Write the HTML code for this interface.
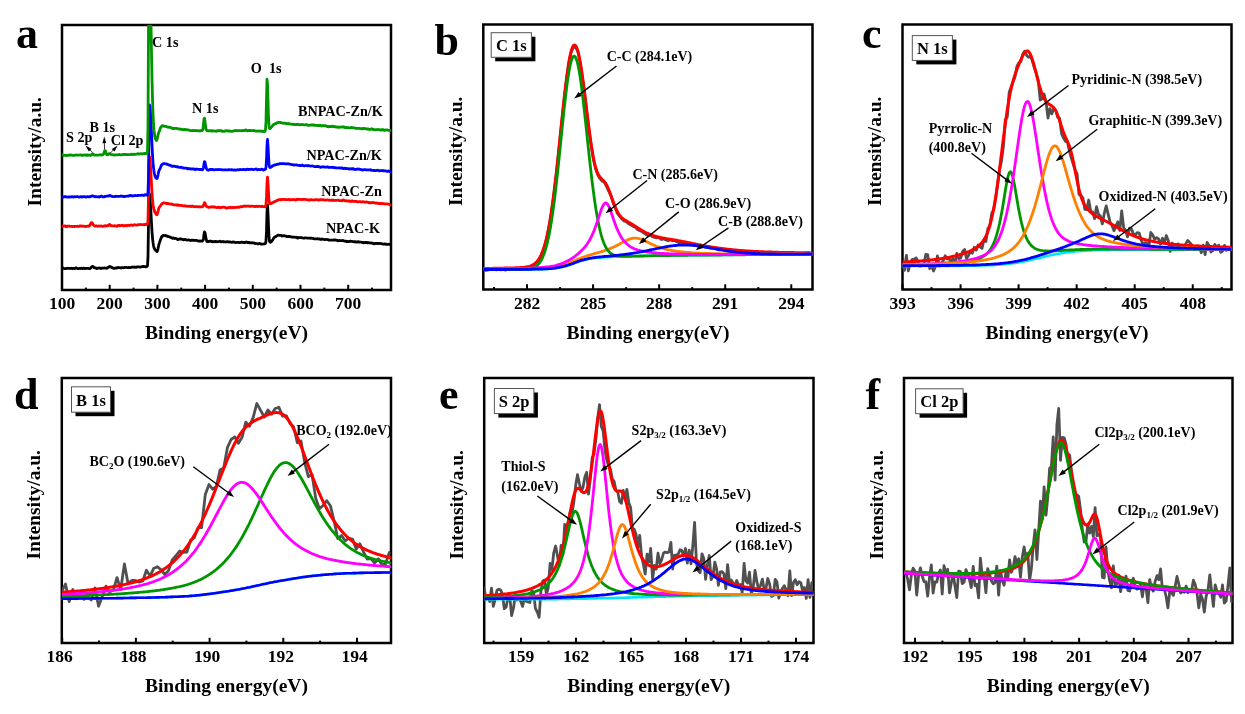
<!DOCTYPE html>
<html><head><meta charset="utf-8"><style>
html,body{margin:0;padding:0;background:#fff;}
svg{display:block;filter:blur(0.35px);}
text{font-family:"Liberation Serif", serif;font-weight:bold;fill:#000;}
</style></head><body>
<svg width="1245" height="714" viewBox="0 0 1245 714">
<rect width="1245" height="714" fill="#fff"/>
<text x="16.00" y="48.00" font-size="44.00" text-anchor="start" >a</text>
<text x="434.50" y="55.00" font-size="44.00" text-anchor="start" >b</text>
<text x="862.00" y="48.30" font-size="44.00" text-anchor="start" >c</text>
<text x="14.00" y="409.00" font-size="44.00" text-anchor="start" >d</text>
<text x="439.00" y="409.00" font-size="44.00" text-anchor="start" >e</text>
<text x="865.50" y="408.70" font-size="44.00" text-anchor="start" >f</text>
<defs>
<clipPath id="cpa"><rect x="62.00" y="25.00" width="329.00" height="265.00"/></clipPath>
<clipPath id="cpb"><rect x="483.30" y="24.50" width="329.20" height="265.00"/></clipPath>
<clipPath id="cpc"><rect x="902.50" y="24.50" width="329.00" height="265.00"/></clipPath>
<clipPath id="cpd"><rect x="61.80" y="378.00" width="329.20" height="265.00"/></clipPath>
<clipPath id="cpe"><rect x="484.20" y="378.00" width="329.30" height="265.00"/></clipPath>
<clipPath id="cpf"><rect x="904.00" y="378.00" width="328.50" height="265.00"/></clipPath>
</defs>
<line x1="62.00" y1="290.00" x2="62.00" y2="284.80" stroke="#000" stroke-width="2"/>
<line x1="109.70" y1="290.00" x2="109.70" y2="284.80" stroke="#000" stroke-width="2"/>
<line x1="157.40" y1="290.00" x2="157.40" y2="284.80" stroke="#000" stroke-width="2"/>
<line x1="205.10" y1="290.00" x2="205.10" y2="284.80" stroke="#000" stroke-width="2"/>
<line x1="252.80" y1="290.00" x2="252.80" y2="284.80" stroke="#000" stroke-width="2"/>
<line x1="300.50" y1="290.00" x2="300.50" y2="284.80" stroke="#000" stroke-width="2"/>
<line x1="348.20" y1="290.00" x2="348.20" y2="284.80" stroke="#000" stroke-width="2"/>
<line x1="85.85" y1="290.00" x2="85.85" y2="287.60" stroke="#000" stroke-width="2"/>
<line x1="133.55" y1="290.00" x2="133.55" y2="287.60" stroke="#000" stroke-width="2"/>
<line x1="181.25" y1="290.00" x2="181.25" y2="287.60" stroke="#000" stroke-width="2"/>
<line x1="228.95" y1="290.00" x2="228.95" y2="287.60" stroke="#000" stroke-width="2"/>
<line x1="276.65" y1="290.00" x2="276.65" y2="287.60" stroke="#000" stroke-width="2"/>
<line x1="324.35" y1="290.00" x2="324.35" y2="287.60" stroke="#000" stroke-width="2"/>
<line x1="372.05" y1="290.00" x2="372.05" y2="287.60" stroke="#000" stroke-width="2"/>
<text x="62.00" y="309.30" font-size="17.50" text-anchor="middle" >100</text>
<text x="109.70" y="309.30" font-size="17.50" text-anchor="middle" >200</text>
<text x="157.40" y="309.30" font-size="17.50" text-anchor="middle" >300</text>
<text x="205.10" y="309.30" font-size="17.50" text-anchor="middle" >400</text>
<text x="252.80" y="309.30" font-size="17.50" text-anchor="middle" >500</text>
<text x="300.50" y="309.30" font-size="17.50" text-anchor="middle" >600</text>
<text x="348.20" y="309.30" font-size="17.50" text-anchor="middle" >700</text>
<line x1="527.00" y1="289.50" x2="527.00" y2="284.30" stroke="#000" stroke-width="2"/>
<line x1="593.07" y1="289.50" x2="593.07" y2="284.30" stroke="#000" stroke-width="2"/>
<line x1="659.14" y1="289.50" x2="659.14" y2="284.30" stroke="#000" stroke-width="2"/>
<line x1="725.21" y1="289.50" x2="725.21" y2="284.30" stroke="#000" stroke-width="2"/>
<line x1="791.28" y1="289.50" x2="791.28" y2="284.30" stroke="#000" stroke-width="2"/>
<line x1="494.00" y1="289.50" x2="494.00" y2="287.10" stroke="#000" stroke-width="2"/>
<line x1="560.07" y1="289.50" x2="560.07" y2="287.10" stroke="#000" stroke-width="2"/>
<line x1="626.14" y1="289.50" x2="626.14" y2="287.10" stroke="#000" stroke-width="2"/>
<line x1="692.21" y1="289.50" x2="692.21" y2="287.10" stroke="#000" stroke-width="2"/>
<line x1="758.28" y1="289.50" x2="758.28" y2="287.10" stroke="#000" stroke-width="2"/>
<text x="527.00" y="309.30" font-size="17.50" text-anchor="middle" >282</text>
<text x="593.07" y="309.30" font-size="17.50" text-anchor="middle" >285</text>
<text x="659.14" y="309.30" font-size="17.50" text-anchor="middle" >288</text>
<text x="725.21" y="309.30" font-size="17.50" text-anchor="middle" >291</text>
<text x="791.28" y="309.30" font-size="17.50" text-anchor="middle" >294</text>
<line x1="902.50" y1="289.50" x2="902.50" y2="284.30" stroke="#000" stroke-width="2"/>
<line x1="960.55" y1="289.50" x2="960.55" y2="284.30" stroke="#000" stroke-width="2"/>
<line x1="1018.60" y1="289.50" x2="1018.60" y2="284.30" stroke="#000" stroke-width="2"/>
<line x1="1076.65" y1="289.50" x2="1076.65" y2="284.30" stroke="#000" stroke-width="2"/>
<line x1="1134.70" y1="289.50" x2="1134.70" y2="284.30" stroke="#000" stroke-width="2"/>
<line x1="1192.75" y1="289.50" x2="1192.75" y2="284.30" stroke="#000" stroke-width="2"/>
<line x1="931.50" y1="289.50" x2="931.50" y2="287.10" stroke="#000" stroke-width="2"/>
<line x1="989.55" y1="289.50" x2="989.55" y2="287.10" stroke="#000" stroke-width="2"/>
<line x1="1047.60" y1="289.50" x2="1047.60" y2="287.10" stroke="#000" stroke-width="2"/>
<line x1="1105.65" y1="289.50" x2="1105.65" y2="287.10" stroke="#000" stroke-width="2"/>
<line x1="1163.70" y1="289.50" x2="1163.70" y2="287.10" stroke="#000" stroke-width="2"/>
<line x1="1221.75" y1="289.50" x2="1221.75" y2="287.10" stroke="#000" stroke-width="2"/>
<text x="902.50" y="309.30" font-size="17.50" text-anchor="middle" >393</text>
<text x="960.55" y="309.30" font-size="17.50" text-anchor="middle" >396</text>
<text x="1018.60" y="309.30" font-size="17.50" text-anchor="middle" >399</text>
<text x="1076.65" y="309.30" font-size="17.50" text-anchor="middle" >402</text>
<text x="1134.70" y="309.30" font-size="17.50" text-anchor="middle" >405</text>
<text x="1192.75" y="309.30" font-size="17.50" text-anchor="middle" >408</text>
<line x1="62.20" y1="643.00" x2="62.20" y2="637.80" stroke="#000" stroke-width="2"/>
<line x1="135.90" y1="643.00" x2="135.90" y2="637.80" stroke="#000" stroke-width="2"/>
<line x1="209.60" y1="643.00" x2="209.60" y2="637.80" stroke="#000" stroke-width="2"/>
<line x1="283.30" y1="643.00" x2="283.30" y2="637.80" stroke="#000" stroke-width="2"/>
<line x1="357.00" y1="643.00" x2="357.00" y2="637.80" stroke="#000" stroke-width="2"/>
<line x1="99.00" y1="643.00" x2="99.00" y2="640.60" stroke="#000" stroke-width="2"/>
<line x1="172.70" y1="643.00" x2="172.70" y2="640.60" stroke="#000" stroke-width="2"/>
<line x1="246.40" y1="643.00" x2="246.40" y2="640.60" stroke="#000" stroke-width="2"/>
<line x1="320.10" y1="643.00" x2="320.10" y2="640.60" stroke="#000" stroke-width="2"/>
<text x="59.70" y="662.00" font-size="17.50" text-anchor="middle" >186</text>
<text x="133.40" y="662.00" font-size="17.50" text-anchor="middle" >188</text>
<text x="207.10" y="662.00" font-size="17.50" text-anchor="middle" >190</text>
<text x="280.80" y="662.00" font-size="17.50" text-anchor="middle" >192</text>
<text x="354.50" y="662.00" font-size="17.50" text-anchor="middle" >194</text>
<line x1="521.00" y1="643.00" x2="521.00" y2="637.80" stroke="#000" stroke-width="2"/>
<line x1="576.00" y1="643.00" x2="576.00" y2="637.80" stroke="#000" stroke-width="2"/>
<line x1="631.00" y1="643.00" x2="631.00" y2="637.80" stroke="#000" stroke-width="2"/>
<line x1="686.00" y1="643.00" x2="686.00" y2="637.80" stroke="#000" stroke-width="2"/>
<line x1="741.00" y1="643.00" x2="741.00" y2="637.80" stroke="#000" stroke-width="2"/>
<line x1="796.00" y1="643.00" x2="796.00" y2="637.80" stroke="#000" stroke-width="2"/>
<line x1="493.50" y1="643.00" x2="493.50" y2="640.60" stroke="#000" stroke-width="2"/>
<line x1="548.50" y1="643.00" x2="548.50" y2="640.60" stroke="#000" stroke-width="2"/>
<line x1="603.50" y1="643.00" x2="603.50" y2="640.60" stroke="#000" stroke-width="2"/>
<line x1="658.50" y1="643.00" x2="658.50" y2="640.60" stroke="#000" stroke-width="2"/>
<line x1="713.50" y1="643.00" x2="713.50" y2="640.60" stroke="#000" stroke-width="2"/>
<line x1="768.50" y1="643.00" x2="768.50" y2="640.60" stroke="#000" stroke-width="2"/>
<text x="521.00" y="662.00" font-size="17.50" text-anchor="middle" >159</text>
<text x="576.00" y="662.00" font-size="17.50" text-anchor="middle" >162</text>
<text x="631.00" y="662.00" font-size="17.50" text-anchor="middle" >165</text>
<text x="686.00" y="662.00" font-size="17.50" text-anchor="middle" >168</text>
<text x="741.00" y="662.00" font-size="17.50" text-anchor="middle" >171</text>
<text x="796.00" y="662.00" font-size="17.50" text-anchor="middle" >174</text>
<line x1="915.00" y1="643.00" x2="915.00" y2="637.80" stroke="#000" stroke-width="2"/>
<line x1="969.70" y1="643.00" x2="969.70" y2="637.80" stroke="#000" stroke-width="2"/>
<line x1="1024.40" y1="643.00" x2="1024.40" y2="637.80" stroke="#000" stroke-width="2"/>
<line x1="1079.10" y1="643.00" x2="1079.10" y2="637.80" stroke="#000" stroke-width="2"/>
<line x1="1133.80" y1="643.00" x2="1133.80" y2="637.80" stroke="#000" stroke-width="2"/>
<line x1="1188.50" y1="643.00" x2="1188.50" y2="637.80" stroke="#000" stroke-width="2"/>
<line x1="942.40" y1="643.00" x2="942.40" y2="640.60" stroke="#000" stroke-width="2"/>
<line x1="997.10" y1="643.00" x2="997.10" y2="640.60" stroke="#000" stroke-width="2"/>
<line x1="1051.80" y1="643.00" x2="1051.80" y2="640.60" stroke="#000" stroke-width="2"/>
<line x1="1106.50" y1="643.00" x2="1106.50" y2="640.60" stroke="#000" stroke-width="2"/>
<line x1="1161.20" y1="643.00" x2="1161.20" y2="640.60" stroke="#000" stroke-width="2"/>
<line x1="1215.90" y1="643.00" x2="1215.90" y2="640.60" stroke="#000" stroke-width="2"/>
<text x="915.00" y="662.00" font-size="17.50" text-anchor="middle" >192</text>
<text x="969.70" y="662.00" font-size="17.50" text-anchor="middle" >195</text>
<text x="1024.40" y="662.00" font-size="17.50" text-anchor="middle" >198</text>
<text x="1079.10" y="662.00" font-size="17.50" text-anchor="middle" >201</text>
<text x="1133.80" y="662.00" font-size="17.50" text-anchor="middle" >204</text>
<text x="1188.50" y="662.00" font-size="17.50" text-anchor="middle" >207</text>
<rect x="62.00" y="25.00" width="329.00" height="265.00" fill="none" stroke="#000" stroke-width="2.5"/>
<rect x="483.30" y="24.50" width="329.20" height="265.00" fill="none" stroke="#000" stroke-width="2.5"/>
<rect x="902.50" y="24.50" width="329.00" height="265.00" fill="none" stroke="#000" stroke-width="2.5"/>
<rect x="61.80" y="378.00" width="329.20" height="265.00" fill="none" stroke="#000" stroke-width="2.5"/>
<rect x="484.20" y="378.00" width="329.30" height="265.00" fill="none" stroke="#000" stroke-width="2.5"/>
<rect x="904.00" y="378.00" width="328.50" height="265.00" fill="none" stroke="#000" stroke-width="2.5"/>
<text x="226.50" y="339.00" font-size="19.50" text-anchor="middle" >Binding energy(eV)</text>
<text transform="translate(40.50,151.75) rotate(-90)" font-size="19.50" text-anchor="middle">Intensity/a.u.</text>
<text x="647.90" y="338.50" font-size="19.50" text-anchor="middle" >Binding energy(eV)</text>
<text transform="translate(461.80,151.25) rotate(-90)" font-size="19.50" text-anchor="middle">Intensity/a.u.</text>
<text x="1067.00" y="338.50" font-size="19.50" text-anchor="middle" >Binding energy(eV)</text>
<text transform="translate(881.00,151.25) rotate(-90)" font-size="19.50" text-anchor="middle">Intensity/a.u.</text>
<text x="226.40" y="692.00" font-size="19.50" text-anchor="middle" >Binding energy(eV)</text>
<text transform="translate(40.30,504.75) rotate(-90)" font-size="19.50" text-anchor="middle">Intensity/a.u.</text>
<text x="648.85" y="692.00" font-size="19.50" text-anchor="middle" >Binding energy(eV)</text>
<text transform="translate(462.70,504.75) rotate(-90)" font-size="19.50" text-anchor="middle">Intensity/a.u.</text>
<text x="1068.25" y="692.00" font-size="19.50" text-anchor="middle" >Binding energy(eV)</text>
<text transform="translate(882.50,504.75) rotate(-90)" font-size="19.50" text-anchor="middle">Intensity/a.u.</text>
<g clip-path="url(#cpa)">
<path d="M62.0,268.4 L62.5,268.3 L63.0,268.0 L63.5,268.3 L64.0,268.5 L64.5,268.7 L65.0,268.6 L65.5,268.5 L66.0,268.5 L66.5,268.5 L67.0,268.4 L67.5,268.4 L68.0,268.2 L68.5,268.3 L69.0,268.3 L69.5,268.5 L70.0,268.4 L70.5,268.4 L71.0,268.2 L71.5,268.4 L72.0,268.4 L72.5,268.6 L73.0,268.5 L73.5,268.4 L74.0,268.4 L74.5,268.6 L75.0,268.5 L75.5,268.2 L76.0,267.8 L76.5,268.1 L77.0,268.3 L77.5,268.6 L78.0,268.6 L78.5,268.6 L79.0,268.5 L79.5,268.4 L80.0,268.5 L80.5,268.3 L81.0,268.3 L81.5,268.2 L82.0,268.6 L82.5,268.5 L83.0,268.4 L83.5,268.1 L84.0,268.3 L84.5,268.4 L85.0,268.6 L85.5,268.3 L86.0,268.4 L86.5,268.4 L87.0,268.4 L87.5,268.3 L88.0,268.3 L88.5,268.5 L89.0,268.6 L89.5,268.7 L90.0,268.6 L90.5,268.3 L91.0,267.6 L91.5,267.0 L92.0,266.5 L92.5,266.3 L93.0,266.5 L93.5,267.1 L94.0,267.6 L94.5,267.8 L95.0,267.6 L95.5,267.9 L96.0,268.1 L96.5,268.6 L97.0,268.4 L97.5,268.3 L98.0,268.2 L98.5,268.2 L99.0,268.1 L99.5,267.9 L100.0,268.2 L100.5,268.3 L101.0,268.5 L101.5,268.2 L102.0,268.1 L102.5,268.2 L103.0,268.2 L103.5,268.1 L104.0,268.0 L104.5,267.9 L105.0,268.0 L105.5,268.2 L106.0,268.2 L106.5,268.3 L107.0,268.0 L107.5,268.0 L108.0,267.5 L108.5,267.2 L109.0,266.7 L109.5,266.5 L110.0,266.5 L110.5,266.7 L111.0,267.1 L111.5,267.3 L112.0,267.6 L112.5,267.8 L113.0,268.1 L113.5,268.2 L114.0,268.4 L114.5,268.3 L115.0,268.2 L115.5,268.1 L116.0,267.9 L116.5,268.1 L117.0,267.7 L117.5,267.9 L118.0,267.5 L118.5,267.7 L119.0,267.6 L119.5,267.7 L120.0,267.8 L120.5,267.9 L121.0,268.0 L121.5,267.7 L122.0,267.6 L122.5,267.6 L123.0,267.7 L123.5,267.8 L124.0,267.7 L124.5,267.6 L125.0,267.4 L125.5,267.3 L126.0,267.3 L126.5,267.3 L127.0,267.5 L127.5,267.7 L128.0,267.6 L128.5,267.6 L129.0,267.4 L129.5,267.7 L130.0,267.6 L130.5,267.7 L131.0,267.3 L131.5,267.2 L132.0,267.1 L132.5,267.2 L133.0,267.3 L133.5,267.1 L134.0,267.2 L134.5,267.0 L135.0,267.4 L135.5,267.2 L136.0,267.4 L136.5,267.0 L137.0,267.1 L137.5,266.8 L138.0,266.9 L138.5,266.9 L139.0,266.9 L139.5,267.0 L140.0,267.0 L140.5,267.1 L141.0,267.0 L141.5,266.8 L142.0,266.6 L142.5,266.5 L143.0,266.4 L143.5,266.6 L144.0,266.5 L144.5,266.7 L145.0,266.7 L145.5,266.8 L146.0,266.8 L146.5,266.5 L147.0,266.5 L147.5,265.7 L148.0,256.6 L148.5,222.7 L149.0,193.6 L149.5,193.9 L150.0,197.9 L150.5,204.8 L151.0,213.9 L151.5,223.1 L152.0,231.5 L152.5,237.8 L153.0,242.4 L153.5,245.5 L154.0,247.6 L154.5,248.8 L155.0,249.6 L155.5,250.2 L156.0,250.6 L156.5,251.2 L157.0,251.5 L157.5,250.9 L158.0,248.7 L158.5,246.2 L159.0,244.1 L159.5,242.6 L160.0,241.1 L160.5,239.7 L161.0,238.2 L161.5,237.3 L162.0,236.2 L162.5,235.9 L163.0,235.5 L163.5,235.8 L164.0,235.7 L164.5,235.7 L165.0,235.4 L165.5,235.4 L166.0,235.8 L166.5,236.1 L167.0,236.3 L167.5,236.2 L168.0,236.4 L168.5,236.6 L169.0,236.8 L169.5,236.8 L170.0,237.1 L170.5,237.4 L171.0,237.5 L171.5,237.8 L172.0,237.9 L172.5,238.2 L173.0,237.8 L173.5,238.0 L174.0,238.2 L174.5,238.5 L175.0,238.3 L175.5,238.4 L176.0,238.5 L176.5,238.7 L177.0,239.0 L177.5,239.4 L178.0,239.6 L178.5,239.3 L179.0,239.2 L179.5,238.9 L180.0,239.0 L180.5,238.9 L181.0,239.1 L181.5,239.0 L182.0,239.2 L182.5,239.4 L183.0,239.7 L183.5,239.8 L184.0,239.7 L184.5,239.6 L185.0,239.3 L185.5,239.5 L186.0,239.7 L186.5,240.0 L187.0,240.1 L187.5,240.0 L188.0,240.0 L188.5,239.9 L189.0,239.9 L189.5,240.2 L190.0,240.4 L190.5,240.5 L191.0,240.3 L191.5,240.2 L192.0,240.2 L192.5,240.3 L193.0,240.2 L193.5,240.4 L194.0,240.3 L194.5,240.4 L195.0,240.3 L195.5,240.3 L196.0,240.3 L196.5,240.4 L197.0,240.5 L197.5,240.7 L198.0,241.0 L198.5,241.1 L199.0,241.1 L199.5,241.1 L200.0,240.9 L200.5,241.1 L201.0,241.2 L201.5,241.1 L202.0,241.0 L202.5,241.0 L203.0,240.3 L203.5,238.2 L204.0,234.5 L204.5,231.9 L205.0,232.7 L205.5,235.6 L206.0,238.7 L206.5,240.5 L207.0,241.5 L207.5,241.6 L208.0,241.7 L208.5,241.4 L209.0,241.5 L209.5,241.3 L210.0,241.1 L210.5,241.0 L211.0,241.2 L211.5,241.6 L212.0,241.8 L212.5,241.8 L213.0,241.5 L213.5,241.6 L214.0,241.8 L214.5,241.8 L215.0,241.6 L215.5,241.4 L216.0,241.6 L216.5,241.7 L217.0,241.8 L217.5,241.7 L218.0,241.7 L218.5,241.7 L219.0,241.5 L219.5,241.3 L220.0,241.2 L220.5,241.4 L221.0,241.8 L221.5,241.8 L222.0,241.8 L222.5,241.6 L223.0,241.7 L223.5,241.8 L224.0,241.6 L224.5,241.9 L225.0,241.8 L225.5,241.9 L226.0,241.9 L226.5,241.9 L227.0,241.7 L227.5,241.6 L228.0,241.8 L228.5,242.0 L229.0,242.1 L229.5,241.9 L230.0,241.9 L230.5,242.0 L231.0,242.1 L231.5,242.4 L232.0,242.3 L232.5,242.2 L233.0,241.8 L233.5,241.9 L234.0,242.1 L234.5,242.4 L235.0,242.3 L235.5,242.5 L236.0,242.6 L236.5,242.5 L237.0,242.4 L237.5,242.3 L238.0,242.3 L238.5,242.4 L239.0,242.4 L239.5,242.7 L240.0,242.5 L240.5,242.4 L241.0,242.2 L241.5,242.3 L242.0,242.2 L242.5,242.3 L243.0,242.3 L243.5,242.4 L244.0,242.6 L244.5,242.5 L245.0,242.6 L245.5,242.2 L246.0,242.1 L246.5,242.0 L247.0,242.3 L247.5,242.6 L248.0,242.5 L248.5,242.5 L249.0,242.5 L249.5,242.8 L250.0,242.8 L250.5,242.9 L251.0,242.7 L251.5,242.7 L252.0,242.7 L252.5,242.9 L253.0,242.9 L253.5,242.9 L254.0,242.9 L254.5,243.3 L255.0,243.5 L255.5,243.5 L256.0,243.4 L256.5,243.5 L257.0,243.6 L257.5,243.9 L258.0,243.9 L258.5,243.8 L259.0,243.5 L259.5,243.4 L260.0,243.5 L260.5,243.7 L261.0,244.0 L261.5,244.0 L262.0,244.1 L262.5,244.1 L263.0,244.1 L263.5,244.0 L264.0,243.9 L264.5,243.9 L265.0,243.6 L265.5,243.4 L266.0,241.1 L266.5,230.9 L267.0,212.3 L267.5,204.8 L268.0,213.3 L268.5,226.6 L269.0,236.6 L269.5,241.1 L270.0,242.2 L270.5,242.3 L271.0,241.8 L271.5,241.4 L272.0,240.8 L272.5,240.2 L273.0,239.4 L273.5,238.5 L274.0,237.7 L274.5,237.2 L275.0,236.9 L275.5,236.6 L276.0,236.6 L276.5,236.1 L277.0,236.0 L277.5,235.3 L278.0,235.2 L278.5,235.2 L279.0,235.2 L279.5,235.4 L280.0,235.4 L280.5,235.4 L281.0,235.5 L281.5,235.4 L282.0,236.0 L282.5,235.9 L283.0,236.0 L283.5,235.6 L284.0,235.6 L284.5,235.8 L285.0,236.0 L285.5,236.1 L286.0,236.2 L286.5,236.3 L287.0,236.7 L287.5,236.6 L288.0,236.6 L288.5,236.4 L289.0,236.5 L289.5,236.4 L290.0,236.5 L290.5,236.8 L291.0,236.9 L291.5,237.0 L292.0,237.0 L292.5,237.1 L293.0,237.2 L293.5,237.2 L294.0,237.1 L294.5,237.2 L295.0,237.3 L295.5,237.4 L296.0,237.2 L296.5,237.3 L297.0,237.4 L297.5,238.0 L298.0,237.7 L298.5,237.9 L299.0,237.5 L299.5,237.6 L300.0,237.7 L300.5,237.7 L301.0,237.7 L301.5,237.6 L302.0,237.8 L302.5,237.9 L303.0,238.0 L303.5,238.2 L304.0,238.2 L304.5,238.0 L305.0,237.8 L305.5,237.8 L306.0,237.8 L306.5,238.0 L307.0,238.1 L307.5,238.1 L308.0,238.1 L308.5,238.1 L309.0,238.2 L309.5,238.1 L310.0,238.3 L310.5,238.2 L311.0,238.1 L311.5,238.1 L312.0,238.4 L312.5,238.4 L313.0,238.4 L313.5,238.6 L314.0,238.7 L314.5,238.9 L315.0,238.9 L315.5,238.9 L316.0,238.9 L316.5,238.8 L317.0,238.8 L317.5,238.7 L318.0,238.9 L318.5,239.0 L319.0,239.1 L319.5,238.9 L320.0,239.2 L320.5,239.3 L321.0,239.5 L321.5,239.3 L322.0,239.0 L322.5,239.1 L323.0,239.3 L323.5,239.3 L324.0,239.5 L324.5,239.6 L325.0,239.6 L325.5,239.5 L326.0,239.4 L326.5,239.5 L327.0,239.6 L327.5,239.5 L328.0,239.7 L328.5,239.8 L329.0,240.2 L329.5,240.2 L330.0,240.2 L330.5,240.1 L331.0,240.1 L331.5,240.2 L332.0,240.2 L332.5,240.1 L333.0,240.1 L333.5,240.0 L334.0,240.1 L334.5,239.9 L335.0,240.0 L335.5,240.0 L336.0,240.2 L336.5,240.2 L337.0,240.4 L337.5,240.7 L338.0,240.8 L338.5,240.6 L339.0,240.5 L339.5,240.4 L340.0,240.7 L340.5,240.6 L341.0,240.6 L341.5,240.6 L342.0,240.6 L342.5,240.5 L343.0,240.5 L343.5,240.7 L344.0,241.0 L344.5,241.1 L345.0,241.1 L345.5,241.1 L346.0,241.2 L346.5,241.5 L347.0,241.5 L347.5,241.5 L348.0,241.5 L348.5,241.7 L349.0,241.6 L349.5,241.5 L350.0,241.2 L350.5,241.3 L351.0,241.2 L351.5,241.4 L352.0,241.4 L352.5,241.5 L353.0,241.6 L353.5,241.7 L354.0,241.8 L354.5,241.8 L355.0,241.6 L355.5,241.8 L356.0,242.1 L356.5,242.2 L357.0,242.1 L357.5,241.8 L358.0,241.7 L358.5,241.7 L359.0,242.1 L359.5,242.2 L360.0,242.1 L360.5,242.2 L361.0,242.1 L361.5,242.3 L362.0,242.3 L362.5,242.5 L363.0,242.5 L363.5,242.8 L364.0,242.7 L364.5,242.7 L365.0,242.4 L365.5,242.5 L366.0,242.4 L366.5,242.6 L367.0,242.8 L367.5,242.8 L368.0,242.5 L368.5,242.6 L369.0,242.9 L369.5,242.8 L370.0,242.8 L370.5,242.8 L371.0,243.1 L371.5,243.2 L372.0,243.0 L372.5,243.2 L373.0,243.2 L373.5,243.7 L374.0,243.8 L374.5,243.8 L375.0,243.5 L375.5,243.3 L376.0,243.3 L376.5,243.5 L377.0,243.3 L377.5,243.5 L378.0,243.6 L378.5,243.6 L379.0,243.3 L379.5,243.3 L380.0,243.5 L380.5,243.6 L381.0,243.6 L381.5,243.7 L382.0,243.7 L382.5,244.0 L383.0,244.1 L383.5,244.1 L384.0,244.0 L384.5,243.9 L385.0,244.1 L385.5,244.2 L386.0,244.3 L386.5,244.2 L387.0,244.3 L387.5,244.3 L388.0,244.3 L388.5,244.3 L389.0,244.2 L389.5,244.3 L390.0,244.4 L390.5,244.5 L391.0,244.6" fill="none" stroke="#000000" stroke-width="2.80" stroke-linejoin="round" stroke-linecap="round" />
<path d="M62.0,226.2 L62.5,226.3 L63.0,226.0 L63.5,226.2 L64.0,226.2 L64.5,226.0 L65.0,226.0 L65.5,225.9 L66.0,226.6 L66.5,226.6 L67.0,226.7 L67.5,226.3 L68.0,226.1 L68.5,226.1 L69.0,226.0 L69.5,226.2 L70.0,226.3 L70.5,226.4 L71.0,226.4 L71.5,226.4 L72.0,226.5 L72.5,226.5 L73.0,226.5 L73.5,226.3 L74.0,226.3 L74.5,226.6 L75.0,226.5 L75.5,226.4 L76.0,226.3 L76.5,226.3 L77.0,226.3 L77.5,226.2 L78.0,226.4 L78.5,226.5 L79.0,226.4 L79.5,226.0 L80.0,226.1 L80.5,225.9 L81.0,226.1 L81.5,226.0 L82.0,226.2 L82.5,226.3 L83.0,226.2 L83.5,226.1 L84.0,226.1 L84.5,226.4 L85.0,226.5 L85.5,226.5 L86.0,226.5 L86.5,226.4 L87.0,226.2 L87.5,226.2 L88.0,226.2 L88.5,226.3 L89.0,226.0 L89.5,225.7 L90.0,224.9 L90.5,224.1 L91.0,223.1 L91.5,222.6 L92.0,222.7 L92.5,223.2 L93.0,224.4 L93.5,224.9 L94.0,225.4 L94.5,225.7 L95.0,226.2 L95.5,226.1 L96.0,226.0 L96.5,225.9 L97.0,226.0 L97.5,226.3 L98.0,226.1 L98.5,226.2 L99.0,225.9 L99.5,226.2 L100.0,226.1 L100.5,226.2 L101.0,225.8 L101.5,226.0 L102.0,226.1 L102.5,226.4 L103.0,226.3 L103.5,226.3 L104.0,226.1 L104.5,225.9 L105.0,225.7 L105.5,226.0 L106.0,225.9 L106.5,225.9 L107.0,225.6 L107.5,225.8 L108.0,225.7 L108.5,225.3 L109.0,224.7 L109.5,224.4 L110.0,224.7 L110.5,225.2 L111.0,225.6 L111.5,225.7 L112.0,225.8 L112.5,225.8 L113.0,225.9 L113.5,225.8 L114.0,225.8 L114.5,225.7 L115.0,225.8 L115.5,225.8 L116.0,226.1 L116.5,226.2 L117.0,226.4 L117.5,225.8 L118.0,225.6 L118.5,225.3 L119.0,225.6 L119.5,225.4 L120.0,225.5 L120.5,225.6 L121.0,225.7 L121.5,225.4 L122.0,225.2 L122.5,225.3 L123.0,225.5 L123.5,225.8 L124.0,225.8 L124.5,225.8 L125.0,225.5 L125.5,225.7 L126.0,225.7 L126.5,225.8 L127.0,225.5 L127.5,225.4 L128.0,225.1 L128.5,225.4 L129.0,225.4 L129.5,225.5 L130.0,225.2 L130.5,225.2 L131.0,225.1 L131.5,225.0 L132.0,225.0 L132.5,225.4 L133.0,225.4 L133.5,225.3 L134.0,224.8 L134.5,224.7 L135.0,224.8 L135.5,225.0 L136.0,225.1 L136.5,225.1 L137.0,225.0 L137.5,225.0 L138.0,224.7 L138.5,224.6 L139.0,224.6 L139.5,224.6 L140.0,224.6 L140.5,224.5 L141.0,224.5 L141.5,224.6 L142.0,224.7 L142.5,224.6 L143.0,224.6 L143.5,224.7 L144.0,224.9 L144.5,224.5 L145.0,224.5 L145.5,224.2 L146.0,224.5 L146.5,224.4 L147.0,224.6 L147.5,224.4 L148.0,220.7 L148.5,199.1 L149.0,162.1 L149.5,156.8 L150.0,160.1 L150.5,166.5 L151.0,175.2 L151.5,184.3 L152.0,193.0 L152.5,199.6 L153.0,204.4 L153.5,207.6 L154.0,209.8 L154.5,211.2 L155.0,212.3 L155.5,213.2 L156.0,214.2 L156.5,214.5 L157.0,214.7 L157.5,213.4 L158.0,211.6 L158.5,209.5 L159.0,207.9 L159.5,207.1 L160.0,206.4 L160.5,205.7 L161.0,204.9 L161.5,204.3 L162.0,203.8 L162.5,203.4 L163.0,203.0 L163.5,202.8 L164.0,202.9 L164.5,202.8 L165.0,203.1 L165.5,203.1 L166.0,203.5 L166.5,203.5 L167.0,203.5 L167.5,203.5 L168.0,203.5 L168.5,203.7 L169.0,203.8 L169.5,203.9 L170.0,204.0 L170.5,204.0 L171.0,204.1 L171.5,204.0 L172.0,204.2 L172.5,204.2 L173.0,204.7 L173.5,204.9 L174.0,204.9 L174.5,204.9 L175.0,204.8 L175.5,204.9 L176.0,205.0 L176.5,205.0 L177.0,205.0 L177.5,205.0 L178.0,205.0 L178.5,205.3 L179.0,205.2 L179.5,205.4 L180.0,205.5 L180.5,205.5 L181.0,205.4 L181.5,205.4 L182.0,205.5 L182.5,205.8 L183.0,205.9 L183.5,205.9 L184.0,205.6 L184.5,205.6 L185.0,206.0 L185.5,206.1 L186.0,206.2 L186.5,206.0 L187.0,206.1 L187.5,206.3 L188.0,206.3 L188.5,206.4 L189.0,206.2 L189.5,206.3 L190.0,206.1 L190.5,206.3 L191.0,206.3 L191.5,206.5 L192.0,206.2 L192.5,206.1 L193.0,206.2 L193.5,206.5 L194.0,206.7 L194.5,206.8 L195.0,206.7 L195.5,206.7 L196.0,206.7 L196.5,206.7 L197.0,206.7 L197.5,206.7 L198.0,206.8 L198.5,206.9 L199.0,206.7 L199.5,206.7 L200.0,206.9 L200.5,207.0 L201.0,206.9 L201.5,206.7 L202.0,206.9 L202.5,206.6 L203.0,206.4 L203.5,205.5 L204.0,203.8 L204.5,202.6 L205.0,203.0 L205.5,204.5 L206.0,205.8 L206.5,206.3 L207.0,206.7 L207.5,206.9 L208.0,207.0 L208.5,207.3 L209.0,207.1 L209.5,207.4 L210.0,207.2 L210.5,207.0 L211.0,206.8 L211.5,206.8 L212.0,207.0 L212.5,206.9 L213.0,207.0 L213.5,207.0 L214.0,207.0 L214.5,206.9 L215.0,207.1 L215.5,207.3 L216.0,207.5 L216.5,207.6 L217.0,207.6 L217.5,207.4 L218.0,207.1 L218.5,207.1 L219.0,207.4 L219.5,207.6 L220.0,207.6 L220.5,207.5 L221.0,207.5 L221.5,207.4 L222.0,207.4 L222.5,207.3 L223.0,207.2 L223.5,207.1 L224.0,207.2 L224.5,207.3 L225.0,207.4 L225.5,207.5 L226.0,208.0 L226.5,208.0 L227.0,208.0 L227.5,207.7 L228.0,207.7 L228.5,207.6 L229.0,207.7 L229.5,207.6 L230.0,207.3 L230.5,207.2 L231.0,207.3 L231.5,207.8 L232.0,207.6 L232.5,207.5 L233.0,207.5 L233.5,207.4 L234.0,207.5 L234.5,207.5 L235.0,207.6 L235.5,207.5 L236.0,207.3 L236.5,207.3 L237.0,207.2 L237.5,207.2 L238.0,207.1 L238.5,207.4 L239.0,207.3 L239.5,207.0 L240.0,206.8 L240.5,206.7 L241.0,206.8 L241.5,206.7 L242.0,206.8 L242.5,206.6 L243.0,206.6 L243.5,206.1 L244.0,206.0 L244.5,206.2 L245.0,206.3 L245.5,206.3 L246.0,206.0 L246.5,206.1 L247.0,206.1 L247.5,206.1 L248.0,206.1 L248.5,206.1 L249.0,206.3 L249.5,206.1 L250.0,206.3 L250.5,206.3 L251.0,206.3 L251.5,206.1 L252.0,206.0 L252.5,206.1 L253.0,206.2 L253.5,206.4 L254.0,206.3 L254.5,206.5 L255.0,206.5 L255.5,206.5 L256.0,206.1 L256.5,206.1 L257.0,206.2 L257.5,206.5 L258.0,206.5 L258.5,206.4 L259.0,206.3 L259.5,206.2 L260.0,206.4 L260.5,206.5 L261.0,206.6 L261.5,206.3 L262.0,206.2 L262.5,206.5 L263.0,206.7 L263.5,206.6 L264.0,206.6 L264.5,206.7 L265.0,206.8 L265.5,206.4 L266.0,204.5 L266.5,196.9 L267.0,183.1 L267.5,177.1 L268.0,183.0 L268.5,192.6 L269.0,200.1 L269.5,202.9 L270.0,203.8 L270.5,203.7 L271.0,203.6 L271.5,203.3 L272.0,202.9 L272.5,202.8 L273.0,202.4 L273.5,202.1 L274.0,201.9 L274.5,201.8 L275.0,201.6 L275.5,201.3 L276.0,201.0 L276.5,200.8 L277.0,200.5 L277.5,200.2 L278.0,199.9 L278.5,199.8 L279.0,199.7 L279.5,199.7 L280.0,199.8 L280.5,199.7 L281.0,199.8 L281.5,199.5 L282.0,199.7 L282.5,199.4 L283.0,199.4 L283.5,199.4 L284.0,199.5 L284.5,199.6 L285.0,199.4 L285.5,199.5 L286.0,199.6 L286.5,199.6 L287.0,199.7 L287.5,199.6 L288.0,199.5 L288.5,199.3 L289.0,199.6 L289.5,199.7 L290.0,199.9 L290.5,199.8 L291.0,199.6 L291.5,199.6 L292.0,199.5 L292.5,199.7 L293.0,199.6 L293.5,199.6 L294.0,199.5 L294.5,199.4 L295.0,199.7 L295.5,200.0 L296.0,200.0 L296.5,199.8 L297.0,199.2 L297.5,199.3 L298.0,199.3 L298.5,199.4 L299.0,199.5 L299.5,199.3 L300.0,199.4 L300.5,199.3 L301.0,199.4 L301.5,199.5 L302.0,199.6 L302.5,199.6 L303.0,199.3 L303.5,199.3 L304.0,199.4 L304.5,199.5 L305.0,199.4 L305.5,199.4 L306.0,199.5 L306.5,199.6 L307.0,199.7 L307.5,199.9 L308.0,200.0 L308.5,200.0 L309.0,200.0 L309.5,200.0 L310.0,200.0 L310.5,199.7 L311.0,199.7 L311.5,199.6 L312.0,199.9 L312.5,199.9 L313.0,199.9 L313.5,199.8 L314.0,200.0 L314.5,199.9 L315.0,199.9 L315.5,199.7 L316.0,199.7 L316.5,199.7 L317.0,199.7 L317.5,199.8 L318.0,200.0 L318.5,200.0 L319.0,200.0 L319.5,199.7 L320.0,199.9 L320.5,199.7 L321.0,199.7 L321.5,199.6 L322.0,199.8 L322.5,199.9 L323.0,199.9 L323.5,199.7 L324.0,199.8 L324.5,200.1 L325.0,200.2 L325.5,200.2 L326.0,200.1 L326.5,200.0 L327.0,199.9 L327.5,199.8 L328.0,200.0 L328.5,200.1 L329.0,200.0 L329.5,200.1 L330.0,200.3 L330.5,200.4 L331.0,200.4 L331.5,200.2 L332.0,200.3 L332.5,200.1 L333.0,200.3 L333.5,200.2 L334.0,200.5 L334.5,200.4 L335.0,200.4 L335.5,200.3 L336.0,200.4 L336.5,200.3 L337.0,200.3 L337.5,200.2 L338.0,200.1 L338.5,200.3 L339.0,200.5 L339.5,200.7 L340.0,200.7 L340.5,200.6 L341.0,200.6 L341.5,200.7 L342.0,200.9 L342.5,200.7 L343.0,200.1 L343.5,199.9 L344.0,200.3 L344.5,200.7 L345.0,200.8 L345.5,200.8 L346.0,200.7 L346.5,200.8 L347.0,200.9 L347.5,201.1 L348.0,201.1 L348.5,201.0 L349.0,201.0 L349.5,200.9 L350.0,201.2 L350.5,201.5 L351.0,201.5 L351.5,201.1 L352.0,200.8 L352.5,200.9 L353.0,201.3 L353.5,201.5 L354.0,201.4 L354.5,201.3 L355.0,201.3 L355.5,201.3 L356.0,201.6 L356.5,201.4 L357.0,201.7 L357.5,201.7 L358.0,201.8 L358.5,201.8 L359.0,201.7 L359.5,201.7 L360.0,201.6 L360.5,201.8 L361.0,201.9 L361.5,201.9 L362.0,201.9 L362.5,201.7 L363.0,201.7 L363.5,201.9 L364.0,201.9 L364.5,202.1 L365.0,202.1 L365.5,202.2 L366.0,202.0 L366.5,202.0 L367.0,202.2 L367.5,202.2 L368.0,202.3 L368.5,202.5 L369.0,202.8 L369.5,202.7 L370.0,202.8 L370.5,203.0 L371.0,202.9 L371.5,202.6 L372.0,202.5 L372.5,202.7 L373.0,202.4 L373.5,202.6 L374.0,202.6 L374.5,202.9 L375.0,202.8 L375.5,203.1 L376.0,203.1 L376.5,203.0 L377.0,203.0 L377.5,203.3 L378.0,203.4 L378.5,203.5 L379.0,203.5 L379.5,203.5 L380.0,203.5 L380.5,203.5 L381.0,203.7 L381.5,203.5 L382.0,203.7 L382.5,203.5 L383.0,203.5 L383.5,203.6 L384.0,203.9 L384.5,204.0 L385.0,203.9 L385.5,204.0 L386.0,203.9 L386.5,203.8 L387.0,203.8 L387.5,204.0 L388.0,204.1 L388.5,204.1 L389.0,204.3 L389.5,204.4 L390.0,204.6 L390.5,204.8 L391.0,204.9" fill="none" stroke="#ff0000" stroke-width="2.80" stroke-linejoin="round" stroke-linecap="round" />
<path d="M62.0,196.8 L62.5,197.0 L63.0,197.2 L63.5,197.0 L64.0,196.8 L64.5,196.6 L65.0,196.8 L65.5,196.7 L66.0,196.8 L66.5,196.8 L67.0,197.1 L67.5,197.1 L68.0,197.2 L68.5,196.8 L69.0,197.0 L69.5,196.8 L70.0,197.1 L70.5,196.8 L71.0,196.9 L71.5,196.7 L72.0,196.6 L72.5,196.8 L73.0,196.8 L73.5,197.1 L74.0,196.8 L74.5,196.8 L75.0,196.6 L75.5,196.9 L76.0,196.6 L76.5,196.7 L77.0,196.6 L77.5,196.7 L78.0,196.8 L78.5,196.8 L79.0,197.1 L79.5,197.1 L80.0,197.0 L80.5,196.8 L81.0,196.6 L81.5,196.8 L82.0,197.0 L82.5,197.0 L83.0,196.8 L83.5,196.6 L84.0,196.6 L84.5,196.7 L85.0,196.7 L85.5,197.0 L86.0,197.0 L86.5,197.0 L87.0,196.8 L87.5,196.7 L88.0,196.7 L88.5,196.7 L89.0,196.9 L89.5,196.7 L90.0,196.8 L90.5,196.6 L91.0,196.5 L91.5,196.1 L92.0,195.9 L92.5,195.9 L93.0,195.9 L93.5,196.2 L94.0,196.4 L94.5,196.5 L95.0,196.8 L95.5,196.7 L96.0,196.6 L96.5,196.7 L97.0,196.8 L97.5,196.8 L98.0,196.8 L98.5,196.7 L99.0,197.0 L99.5,196.7 L100.0,196.7 L100.5,196.4 L101.0,196.2 L101.5,196.1 L102.0,196.3 L102.5,196.6 L103.0,197.0 L103.5,196.9 L104.0,196.9 L104.5,196.5 L105.0,196.6 L105.5,196.3 L106.0,196.2 L106.5,196.1 L107.0,196.1 L107.5,196.2 L108.0,196.0 L108.5,196.0 L109.0,195.7 L109.5,195.5 L110.0,195.5 L110.5,195.8 L111.0,196.1 L111.5,196.3 L112.0,196.3 L112.5,196.5 L113.0,196.6 L113.5,196.7 L114.0,196.6 L114.5,196.5 L115.0,196.5 L115.5,196.2 L116.0,196.4 L116.5,196.3 L117.0,196.5 L117.5,196.4 L118.0,196.4 L118.5,196.3 L119.0,196.4 L119.5,196.4 L120.0,196.3 L120.5,196.2 L121.0,195.9 L121.5,196.2 L122.0,196.1 L122.5,196.3 L123.0,196.4 L123.5,196.6 L124.0,196.6 L124.5,196.4 L125.0,196.3 L125.5,196.4 L126.0,196.3 L126.5,196.2 L127.0,196.1 L127.5,196.1 L128.0,196.2 L128.5,196.1 L129.0,195.9 L129.5,195.7 L130.0,195.3 L130.5,195.4 L131.0,195.6 L131.5,195.8 L132.0,195.9 L132.5,195.9 L133.0,196.0 L133.5,195.8 L134.0,195.7 L134.5,195.6 L135.0,195.5 L135.5,195.5 L136.0,195.6 L136.5,195.7 L137.0,195.6 L137.5,195.6 L138.0,195.4 L138.5,195.4 L139.0,195.3 L139.5,195.4 L140.0,195.4 L140.5,195.3 L141.0,195.3 L141.5,195.2 L142.0,195.1 L142.5,195.2 L143.0,195.3 L143.5,195.5 L144.0,195.4 L144.5,195.0 L145.0,194.7 L145.5,194.8 L146.0,195.1 L146.5,195.1 L147.0,194.8 L147.5,194.8 L148.0,192.9 L148.5,176.8 L149.0,130.1 L149.5,105.0 L150.0,106.6 L150.5,112.5 L151.0,122.0 L151.5,133.3 L152.0,144.8 L152.5,154.6 L153.0,162.3 L153.5,167.6 L154.0,171.4 L154.5,174.0 L155.0,176.0 L155.5,177.1 L156.0,178.0 L156.5,178.4 L157.0,178.5 L157.5,177.2 L158.0,175.1 L158.5,172.6 L159.0,170.6 L159.5,169.5 L160.0,168.6 L160.5,167.5 L161.0,166.3 L161.5,165.1 L162.0,164.4 L162.5,164.1 L163.0,163.9 L163.5,163.9 L164.0,163.5 L164.5,163.7 L165.0,163.7 L165.5,163.9 L166.0,163.8 L166.5,163.9 L167.0,164.2 L167.5,164.5 L168.0,164.7 L168.5,164.7 L169.0,165.1 L169.5,165.1 L170.0,165.3 L170.5,165.4 L171.0,165.6 L171.5,165.9 L172.0,166.3 L172.5,166.4 L173.0,166.3 L173.5,166.1 L174.0,166.1 L174.5,166.2 L175.0,166.4 L175.5,166.6 L176.0,166.7 L176.5,166.8 L177.0,166.7 L177.5,166.7 L178.0,166.8 L178.5,167.2 L179.0,167.3 L179.5,167.4 L180.0,167.3 L180.5,167.4 L181.0,167.1 L181.5,167.4 L182.0,167.5 L182.5,167.9 L183.0,168.0 L183.5,168.0 L184.0,168.0 L184.5,168.1 L185.0,168.2 L185.5,168.2 L186.0,168.1 L186.5,168.3 L187.0,168.5 L187.5,168.8 L188.0,168.7 L188.5,168.8 L189.0,168.6 L189.5,168.7 L190.0,168.7 L190.5,169.0 L191.0,169.0 L191.5,169.0 L192.0,168.9 L192.5,169.0 L193.0,169.0 L193.5,169.0 L194.0,168.9 L194.5,169.3 L195.0,169.3 L195.5,169.6 L196.0,169.2 L196.5,169.1 L197.0,169.0 L197.5,169.1 L198.0,169.4 L198.5,169.3 L199.0,169.4 L199.5,169.5 L200.0,169.5 L200.5,169.6 L201.0,169.3 L201.5,169.5 L202.0,169.4 L202.5,169.7 L203.0,169.0 L203.5,167.3 L204.0,164.0 L204.5,161.6 L205.0,162.3 L205.5,164.7 L206.0,167.3 L206.5,168.8 L207.0,169.5 L207.5,170.0 L208.0,170.1 L208.5,170.2 L209.0,169.9 L209.5,169.7 L210.0,169.6 L210.5,169.3 L211.0,169.6 L211.5,169.5 L212.0,169.6 L212.5,169.4 L213.0,169.6 L213.5,169.9 L214.0,169.9 L214.5,169.8 L215.0,169.7 L215.5,169.6 L216.0,169.6 L216.5,169.6 L217.0,169.6 L217.5,169.7 L218.0,169.5 L218.5,169.7 L219.0,169.5 L219.5,169.6 L220.0,169.5 L220.5,169.7 L221.0,169.6 L221.5,169.7 L222.0,169.8 L222.5,169.9 L223.0,169.9 L223.5,169.8 L224.0,169.8 L224.5,169.9 L225.0,169.7 L225.5,169.9 L226.0,169.8 L226.5,169.8 L227.0,169.9 L227.5,169.8 L228.0,169.9 L228.5,169.7 L229.0,169.6 L229.5,169.6 L230.0,169.8 L230.5,169.9 L231.0,169.8 L231.5,169.7 L232.0,169.7 L232.5,169.9 L233.0,170.0 L233.5,170.0 L234.0,170.1 L234.5,170.1 L235.0,169.9 L235.5,170.0 L236.0,170.1 L236.5,170.0 L237.0,169.9 L237.5,169.6 L238.0,169.8 L238.5,169.8 L239.0,169.9 L239.5,169.7 L240.0,169.4 L240.5,169.5 L241.0,169.6 L241.5,169.7 L242.0,169.7 L242.5,169.6 L243.0,169.6 L243.5,169.4 L244.0,169.3 L244.5,169.7 L245.0,169.7 L245.5,169.8 L246.0,169.7 L246.5,169.3 L247.0,169.3 L247.5,169.2 L248.0,169.5 L248.5,169.5 L249.0,169.3 L249.5,169.4 L250.0,169.5 L250.5,169.4 L251.0,169.3 L251.5,169.1 L252.0,169.4 L252.5,169.5 L253.0,169.5 L253.5,169.6 L254.0,169.5 L254.5,169.4 L255.0,169.2 L255.5,169.2 L256.0,168.9 L256.5,169.1 L257.0,169.4 L257.5,169.9 L258.0,169.6 L258.5,169.6 L259.0,169.4 L259.5,169.5 L260.0,169.6 L260.5,169.6 L261.0,169.5 L261.5,169.2 L262.0,169.1 L262.5,169.4 L263.0,169.7 L263.5,170.0 L264.0,169.7 L264.5,169.6 L265.0,169.3 L265.5,169.2 L266.0,167.4 L266.5,159.7 L267.0,145.5 L267.5,139.5 L268.0,145.9 L268.5,155.8 L269.0,163.7 L269.5,166.8 L270.0,167.6 L270.5,167.3 L271.0,167.2 L271.5,166.9 L272.0,166.5 L272.5,165.9 L273.0,165.7 L273.5,165.4 L274.0,165.2 L274.5,165.0 L275.0,165.0 L275.5,164.8 L276.0,164.7 L276.5,164.6 L277.0,164.4 L277.5,164.3 L278.0,164.2 L278.5,164.2 L279.0,164.0 L279.5,163.6 L280.0,163.7 L280.5,163.6 L281.0,163.8 L281.5,163.7 L282.0,163.6 L282.5,163.6 L283.0,163.6 L283.5,163.7 L284.0,163.7 L284.5,163.7 L285.0,163.8 L285.5,163.9 L286.0,163.8 L286.5,163.9 L287.0,163.7 L287.5,163.9 L288.0,163.8 L288.5,163.8 L289.0,163.9 L289.5,164.1 L290.0,164.1 L290.5,164.4 L291.0,164.3 L291.5,164.6 L292.0,164.6 L292.5,164.6 L293.0,164.7 L293.5,164.9 L294.0,165.1 L294.5,165.1 L295.0,164.8 L295.5,164.9 L296.0,164.9 L296.5,164.9 L297.0,165.0 L297.5,165.2 L298.0,165.3 L298.5,165.4 L299.0,165.5 L299.5,165.6 L300.0,165.4 L300.5,165.5 L301.0,165.7 L301.5,165.5 L302.0,165.2 L302.5,165.0 L303.0,165.4 L303.5,165.7 L304.0,165.8 L304.5,165.8 L305.0,165.7 L305.5,165.6 L306.0,165.7 L306.5,165.6 L307.0,165.8 L307.5,165.8 L308.0,165.7 L308.5,165.6 L309.0,165.7 L309.5,165.9 L310.0,166.0 L310.5,166.1 L311.0,166.1 L311.5,166.0 L312.0,165.9 L312.5,166.0 L313.0,166.1 L313.5,166.3 L314.0,166.5 L314.5,166.6 L315.0,166.6 L315.5,166.6 L316.0,166.6 L316.5,166.5 L317.0,166.6 L317.5,166.4 L318.0,166.5 L318.5,166.5 L319.0,166.7 L319.5,166.9 L320.0,167.2 L320.5,167.3 L321.0,167.2 L321.5,167.0 L322.0,167.0 L322.5,166.9 L323.0,166.9 L323.5,166.8 L324.0,166.9 L324.5,167.1 L325.0,167.1 L325.5,167.1 L326.0,167.1 L326.5,167.1 L327.0,167.1 L327.5,166.9 L328.0,167.1 L328.5,167.3 L329.0,167.5 L329.5,167.4 L330.0,167.3 L330.5,167.4 L331.0,167.3 L331.5,167.4 L332.0,167.2 L332.5,167.3 L333.0,167.4 L333.5,167.7 L334.0,167.5 L334.5,167.7 L335.0,167.5 L335.5,167.9 L336.0,167.8 L336.5,167.9 L337.0,167.9 L337.5,167.9 L338.0,168.0 L338.5,167.9 L339.0,167.9 L339.5,168.0 L340.0,167.9 L340.5,168.1 L341.0,168.2 L341.5,168.1 L342.0,167.9 L342.5,168.1 L343.0,168.6 L343.5,168.7 L344.0,168.4 L344.5,168.2 L345.0,168.3 L345.5,168.6 L346.0,168.6 L346.5,168.4 L347.0,168.5 L347.5,168.6 L348.0,168.7 L348.5,168.7 L349.0,169.0 L349.5,169.0 L350.0,169.0 L350.5,168.6 L351.0,168.8 L351.5,168.9 L352.0,169.1 L352.5,168.8 L353.0,168.6 L353.5,168.7 L354.0,169.2 L354.5,169.4 L355.0,169.5 L355.5,169.4 L356.0,169.5 L356.5,169.3 L357.0,169.2 L357.5,168.9 L358.0,169.0 L358.5,169.1 L359.0,169.3 L359.5,169.2 L360.0,169.3 L360.5,169.3 L361.0,169.7 L361.5,169.6 L362.0,170.0 L362.5,170.0 L363.0,170.0 L363.5,169.8 L364.0,169.7 L364.5,169.7 L365.0,169.7 L365.5,169.7 L366.0,169.9 L366.5,169.8 L367.0,169.8 L367.5,169.9 L368.0,170.0 L368.5,169.9 L369.0,169.9 L369.5,169.8 L370.0,170.0 L370.5,169.7 L371.0,170.1 L371.5,170.1 L372.0,170.4 L372.5,170.4 L373.0,170.3 L373.5,170.5 L374.0,170.3 L374.5,170.6 L375.0,170.4 L375.5,170.7 L376.0,170.7 L376.5,170.5 L377.0,170.4 L377.5,170.1 L378.0,170.3 L378.5,170.3 L379.0,170.8 L379.5,170.8 L380.0,170.8 L380.5,170.6 L381.0,170.5 L381.5,170.6 L382.0,170.7 L382.5,170.7 L383.0,170.8 L383.5,170.6 L384.0,170.8 L384.5,170.8 L385.0,170.9 L385.5,170.9 L386.0,170.9 L386.5,171.2 L387.0,171.4 L387.5,171.4 L388.0,171.2 L388.5,170.9 L389.0,171.1 L389.5,171.4 L390.0,171.6 L390.5,171.8 L391.0,171.6" fill="none" stroke="#0000ff" stroke-width="2.80" stroke-linejoin="round" stroke-linecap="round" />
<path d="M62.0,155.1 L62.5,155.0 L63.0,155.2 L63.5,155.5 L64.0,155.5 L64.5,155.4 L65.0,155.2 L65.5,155.2 L66.0,155.5 L66.5,155.6 L67.0,155.4 L67.5,155.1 L68.0,155.2 L68.5,155.4 L69.0,155.3 L69.5,155.1 L70.0,154.9 L70.5,155.1 L71.0,155.0 L71.5,155.1 L72.0,155.2 L72.5,155.3 L73.0,155.3 L73.5,155.3 L74.0,155.4 L74.5,155.2 L75.0,155.2 L75.5,155.0 L76.0,155.1 L76.5,155.0 L77.0,155.1 L77.5,155.1 L78.0,155.2 L78.5,155.1 L79.0,155.1 L79.5,155.0 L80.0,154.9 L80.5,155.0 L81.0,155.0 L81.5,155.3 L82.0,155.4 L82.5,155.2 L83.0,155.1 L83.5,154.9 L84.0,155.2 L84.5,155.1 L85.0,155.0 L85.5,155.0 L86.0,155.0 L86.5,155.3 L87.0,155.2 L87.5,155.3 L88.0,155.0 L88.5,155.1 L89.0,155.0 L89.5,155.2 L90.0,155.3 L90.5,155.5 L91.0,155.1 L91.5,154.7 L92.0,154.1 L92.5,153.8 L93.0,154.0 L93.5,154.4 L94.0,154.9 L94.5,155.1 L95.0,155.1 L95.5,155.2 L96.0,155.2 L96.5,155.2 L97.0,155.1 L97.5,155.2 L98.0,155.1 L98.5,155.1 L99.0,155.0 L99.5,154.9 L100.0,154.7 L100.5,154.9 L101.0,155.0 L101.5,155.0 L102.0,154.8 L102.5,154.8 L103.0,154.7 L103.5,154.1 L104.0,152.8 L104.5,151.1 L105.0,150.4 L105.5,151.1 L106.0,152.9 L106.5,154.2 L107.0,154.9 L107.5,154.9 L108.0,154.6 L108.5,153.9 L109.0,153.7 L109.5,153.7 L110.0,154.0 L110.5,154.3 L111.0,154.5 L111.5,154.6 L112.0,154.7 L112.5,154.7 L113.0,154.8 L113.5,154.8 L114.0,155.0 L114.5,155.1 L115.0,154.9 L115.5,154.9 L116.0,154.9 L116.5,154.9 L117.0,154.8 L117.5,154.8 L118.0,154.8 L118.5,154.6 L119.0,154.5 L119.5,154.5 L120.0,154.7 L120.5,154.8 L121.0,154.8 L121.5,154.9 L122.0,154.8 L122.5,154.7 L123.0,154.5 L123.5,154.5 L124.0,154.3 L124.5,154.3 L125.0,154.5 L125.5,154.5 L126.0,154.5 L126.5,154.5 L127.0,154.6 L127.5,154.7 L128.0,154.6 L128.5,154.6 L129.0,154.7 L129.5,154.7 L130.0,154.7 L130.5,154.5 L131.0,154.3 L131.5,154.2 L132.0,154.2 L132.5,154.4 L133.0,154.6 L133.5,154.5 L134.0,154.2 L134.5,154.2 L135.0,154.3 L135.5,154.4 L136.0,154.3 L136.5,154.1 L137.0,154.0 L137.5,153.8 L138.0,153.7 L138.5,154.1 L139.0,154.0 L139.5,154.0 L140.0,153.8 L140.5,153.8 L141.0,153.7 L141.5,153.7 L142.0,153.9 L142.5,154.0 L143.0,153.8 L143.5,153.6 L144.0,153.5 L144.5,153.5 L145.0,153.5 L145.5,153.3 L146.0,153.5 L146.5,153.7 L147.0,153.7 L147.5,151.4 L148.0,126.3 L148.5,31.0 L149.0,-49.0 L149.5,-44.5 L150.0,-28.3 L150.5,-4.3 L151.0,23.9 L151.5,52.4 L152.0,78.1 L152.5,98.8 L153.0,113.8 L153.5,123.7 L154.0,130.4 L154.5,134.6 L155.0,137.4 L155.5,138.8 L156.0,139.9 L156.5,140.5 L157.0,139.6 L157.5,137.5 L158.0,135.1 L158.5,133.1 L159.0,132.1 L159.5,130.7 L160.0,129.3 L160.5,127.8 L161.0,127.0 L161.5,126.4 L162.0,125.9 L162.5,125.6 L163.0,125.7 L163.5,126.1 L164.0,126.2 L164.5,126.3 L165.0,126.3 L165.5,126.4 L166.0,126.4 L166.5,126.6 L167.0,127.0 L167.5,127.2 L168.0,127.2 L168.5,127.2 L169.0,127.3 L169.5,127.3 L170.0,127.2 L170.5,127.4 L171.0,127.5 L171.5,128.1 L172.0,128.2 L172.5,128.5 L173.0,128.4 L173.5,128.5 L174.0,128.6 L174.5,128.3 L175.0,128.4 L175.5,128.4 L176.0,128.5 L176.5,128.4 L177.0,128.5 L177.5,128.8 L178.0,128.9 L178.5,128.8 L179.0,128.8 L179.5,129.1 L180.0,129.2 L180.5,129.3 L181.0,129.2 L181.5,129.2 L182.0,129.5 L182.5,129.6 L183.0,129.8 L183.5,129.7 L184.0,129.5 L184.5,129.4 L185.0,129.6 L185.5,129.8 L186.0,129.8 L186.5,129.6 L187.0,129.7 L187.5,129.8 L188.0,130.0 L188.5,130.0 L189.0,130.1 L189.5,130.2 L190.0,130.4 L190.5,130.5 L191.0,130.7 L191.5,130.7 L192.0,130.6 L192.5,130.5 L193.0,130.5 L193.5,130.5 L194.0,130.6 L194.5,130.7 L195.0,130.7 L195.5,130.4 L196.0,130.5 L196.5,130.6 L197.0,130.9 L197.5,130.6 L198.0,130.9 L198.5,130.9 L199.0,131.0 L199.5,130.8 L200.0,130.7 L200.5,130.7 L201.0,130.8 L201.5,130.6 L202.0,130.7 L202.5,130.4 L203.0,128.7 L203.5,124.2 L204.0,118.9 L204.5,118.2 L205.0,121.5 L205.5,126.1 L206.0,129.1 L206.5,130.3 L207.0,130.8 L207.5,130.8 L208.0,130.8 L208.5,130.6 L209.0,130.7 L209.5,130.9 L210.0,130.9 L210.5,130.7 L211.0,130.8 L211.5,130.7 L212.0,131.1 L212.5,130.9 L213.0,131.0 L213.5,130.8 L214.0,130.8 L214.5,131.0 L215.0,131.1 L215.5,131.1 L216.0,131.3 L216.5,131.3 L217.0,131.0 L217.5,130.7 L218.0,130.5 L218.5,130.6 L219.0,130.6 L219.5,130.7 L220.0,130.8 L220.5,130.6 L221.0,130.6 L221.5,130.8 L222.0,131.2 L222.5,131.4 L223.0,131.2 L223.5,131.3 L224.0,131.3 L224.5,131.3 L225.0,130.9 L225.5,130.9 L226.0,130.8 L226.5,130.8 L227.0,130.7 L227.5,130.8 L228.0,130.9 L228.5,131.1 L229.0,130.9 L229.5,130.9 L230.0,131.0 L230.5,131.2 L231.0,131.4 L231.5,131.3 L232.0,131.4 L232.5,131.4 L233.0,131.0 L233.5,130.9 L234.0,130.7 L234.5,130.7 L235.0,130.6 L235.5,130.5 L236.0,130.5 L236.5,130.6 L237.0,130.7 L237.5,130.8 L238.0,130.6 L238.5,130.6 L239.0,130.6 L239.5,130.6 L240.0,130.7 L240.5,130.6 L241.0,130.7 L241.5,130.7 L242.0,130.8 L242.5,130.7 L243.0,130.5 L243.5,130.5 L244.0,130.6 L244.5,130.6 L245.0,130.3 L245.5,130.0 L246.0,130.0 L246.5,130.3 L247.0,130.8 L247.5,130.8 L248.0,130.8 L248.5,130.6 L249.0,130.4 L249.5,130.4 L250.0,130.4 L250.5,130.6 L251.0,130.5 L251.5,130.6 L252.0,130.7 L252.5,130.6 L253.0,130.6 L253.5,130.4 L254.0,130.5 L254.5,130.7 L255.0,130.8 L255.5,131.1 L256.0,131.0 L256.5,131.2 L257.0,131.2 L257.5,131.0 L258.0,131.0 L258.5,131.1 L259.0,131.2 L259.5,131.2 L260.0,131.0 L260.5,131.1 L261.0,131.0 L261.5,131.3 L262.0,131.3 L262.5,131.2 L263.0,131.3 L263.5,131.4 L264.0,131.7 L264.5,131.5 L265.0,131.2 L265.5,129.7 L266.0,121.4 L266.5,99.2 L267.0,79.2 L267.5,83.9 L268.0,100.8 L268.5,117.0 L269.0,125.7 L269.5,128.5 L270.0,128.6 L270.5,128.0 L271.0,127.4 L271.5,127.0 L272.0,126.5 L272.5,125.7 L273.0,125.1 L273.5,124.6 L274.0,124.4 L274.5,124.0 L275.0,123.9 L275.5,123.6 L276.0,123.6 L276.5,123.0 L277.0,122.8 L277.5,122.7 L278.0,122.5 L278.5,122.4 L279.0,122.3 L279.5,122.4 L280.0,122.5 L280.5,122.4 L281.0,122.7 L281.5,122.7 L282.0,122.9 L282.5,123.0 L283.0,123.2 L283.5,123.4 L284.0,123.1 L284.5,123.0 L285.0,123.1 L285.5,123.4 L286.0,123.6 L286.5,123.7 L287.0,123.5 L287.5,123.7 L288.0,123.5 L288.5,123.8 L289.0,123.7 L289.5,123.9 L290.0,123.9 L290.5,124.2 L291.0,124.2 L291.5,124.1 L292.0,124.1 L292.5,124.2 L293.0,124.5 L293.5,124.4 L294.0,124.5 L294.5,124.4 L295.0,124.6 L295.5,124.7 L296.0,124.7 L296.5,124.6 L297.0,124.3 L297.5,124.2 L298.0,124.4 L298.5,124.7 L299.0,124.8 L299.5,124.8 L300.0,124.6 L300.5,124.6 L301.0,124.5 L301.5,124.6 L302.0,124.5 L302.5,124.6 L303.0,124.6 L303.5,124.7 L304.0,124.8 L304.5,124.8 L305.0,124.9 L305.5,125.0 L306.0,124.8 L306.5,124.6 L307.0,124.6 L307.5,124.9 L308.0,125.3 L308.5,125.3 L309.0,125.4 L309.5,125.1 L310.0,125.1 L310.5,125.1 L311.0,125.1 L311.5,124.9 L312.0,124.9 L312.5,125.1 L313.0,124.9 L313.5,124.9 L314.0,124.9 L314.5,125.3 L315.0,125.4 L315.5,125.4 L316.0,125.4 L316.5,125.4 L317.0,125.4 L317.5,125.4 L318.0,125.4 L318.5,125.7 L319.0,125.6 L319.5,125.5 L320.0,125.1 L320.5,125.6 L321.0,125.8 L321.5,126.0 L322.0,125.7 L322.5,125.7 L323.0,125.5 L323.5,125.6 L324.0,125.8 L324.5,125.8 L325.0,125.7 L325.5,125.7 L326.0,125.9 L326.5,126.1 L327.0,126.4 L327.5,126.6 L328.0,126.7 L328.5,126.8 L329.0,126.5 L329.5,126.4 L330.0,126.4 L330.5,126.6 L331.0,126.7 L331.5,126.4 L332.0,126.1 L332.5,126.3 L333.0,126.6 L333.5,126.8 L334.0,126.7 L334.5,126.5 L335.0,126.6 L335.5,126.8 L336.0,127.2 L336.5,127.2 L337.0,127.1 L337.5,126.8 L338.0,127.0 L338.5,127.3 L339.0,127.4 L339.5,127.3 L340.0,127.1 L340.5,127.2 L341.0,126.9 L341.5,126.9 L342.0,127.0 L342.5,127.2 L343.0,127.2 L343.5,126.7 L344.0,127.1 L344.5,127.3 L345.0,127.7 L345.5,127.6 L346.0,127.5 L346.5,127.5 L347.0,127.5 L347.5,127.6 L348.0,127.6 L348.5,127.7 L349.0,127.9 L349.5,127.8 L350.0,127.9 L350.5,127.6 L351.0,127.7 L351.5,127.4 L352.0,127.6 L352.5,127.7 L353.0,127.9 L353.5,127.9 L354.0,127.9 L354.5,128.0 L355.0,128.0 L355.5,128.3 L356.0,128.4 L356.5,128.3 L357.0,128.4 L357.5,128.3 L358.0,128.4 L358.5,128.3 L359.0,128.5 L359.5,128.3 L360.0,128.4 L360.5,128.5 L361.0,128.7 L361.5,128.9 L362.0,128.7 L362.5,128.8 L363.0,128.5 L363.5,128.6 L364.0,128.4 L364.5,128.5 L365.0,128.6 L365.5,128.6 L366.0,128.8 L366.5,129.0 L367.0,129.0 L367.5,129.0 L368.0,128.9 L368.5,129.1 L369.0,129.4 L369.5,129.5 L370.0,129.5 L370.5,129.3 L371.0,128.9 L371.5,129.0 L372.0,129.0 L372.5,129.3 L373.0,129.2 L373.5,129.4 L374.0,129.7 L374.5,129.8 L375.0,129.9 L375.5,129.6 L376.0,129.6 L376.5,129.6 L377.0,129.5 L377.5,129.7 L378.0,129.5 L378.5,129.6 L379.0,129.6 L379.5,129.9 L380.0,130.0 L380.5,129.8 L381.0,129.9 L381.5,130.1 L382.0,129.9 L382.5,129.5 L383.0,129.8 L383.5,130.1 L384.0,130.3 L384.5,130.2 L385.0,130.3 L385.5,130.2 L386.0,129.9 L386.5,129.9 L387.0,129.8 L387.5,130.0 L388.0,130.2 L388.5,130.4 L389.0,130.5 L389.5,130.3 L390.0,130.3 L390.5,130.5 L391.0,130.5" fill="none" stroke="#009600" stroke-width="2.80" stroke-linejoin="round" stroke-linecap="round" />
</g>
<text x="152.00" y="46.50" font-size="14.20" text-anchor="start" >C 1s</text>
<text x="192.00" y="113.00" font-size="14.20" text-anchor="start" >N 1s</text>
<text x="250.80" y="72.60" font-size="14.20" text-anchor="start" >O&#160;&#160;1s</text>
<text x="89.50" y="131.60" font-size="14.20" text-anchor="start" >B 1s</text>
<text x="66.00" y="141.90" font-size="14.20" text-anchor="start" >S 2p</text>
<text x="110.70" y="145.30" font-size="14.20" text-anchor="start" >Cl 2p</text>
<text x="382.80" y="116.10" font-size="14.20" text-anchor="end" >BNPAC-Zn/K</text>
<text x="381.80" y="160.00" font-size="14.20" text-anchor="end" >NPAC-Zn/K</text>
<text x="381.80" y="195.80" font-size="14.20" text-anchor="end" >NPAC-Zn</text>
<text x="380.00" y="233.00" font-size="14.20" text-anchor="end" >NPAC-K</text>
<line x1="92.60" y1="152.40" x2="89.47" y2="149.40" stroke="#000" stroke-width="0.80"/>
<path d="M85.50,145.60 L91.51,148.72 L88.88,151.47 Z" fill="#000"/>
<line x1="104.50" y1="149.00" x2="104.33" y2="142.10" stroke="#000" stroke-width="0.80"/>
<path d="M104.20,136.60 L106.26,143.05 L102.46,143.14 Z" fill="#000"/>
<line x1="110.00" y1="153.40" x2="113.84" y2="149.51" stroke="#000" stroke-width="0.80"/>
<path d="M117.70,145.60 L114.49,151.56 L111.78,148.89 Z" fill="#000"/>
<g clip-path="url(#cpb)">
<path d="M483.3,269.7 L485.5,270.3 L487.7,270.2 L489.9,269.3 L492.1,269.4 L494.3,269.3 L496.5,269.8 L498.7,269.4 L500.9,269.8 L503.1,268.4 L505.3,270.1 L507.5,269.2 L509.7,269.5 L511.9,269.1 L514.1,268.9 L516.3,269.2 L518.5,269.3 L520.7,268.7 L522.9,268.5 L525.1,268.7 L527.3,267.6 L529.5,266.7 L531.7,266.9 L533.9,265.2 L536.1,262.7 L538.3,260.7 L540.5,257.2 L542.7,251.8 L544.9,244.8 L547.1,236.8 L549.3,226.1 L551.5,212.0 L553.7,195.6 L555.9,177.8 L558.1,157.8 L560.3,136.0 L562.5,115.2 L564.7,95.2 L566.9,76.5 L569.1,61.6 L571.3,51.9 L573.5,46.8 L575.7,47.4 L577.9,51.7 L580.1,62.3 L582.3,76.4 L584.5,92.7 L586.7,111.6 L588.9,129.4 L591.1,144.7 L593.3,159.0 L595.5,168.5 L597.7,174.8 L599.9,178.4 L602.1,181.0 L604.3,182.2 L606.5,186.4 L608.7,191.1 L610.9,195.6 L613.1,202.8 L615.3,208.2 L617.5,213.4 L619.7,216.3 L621.9,219.0 L624.1,220.9 L626.3,221.7 L628.5,223.7 L630.7,224.6 L632.9,226.3 L635.1,227.1 L637.3,229.4 L639.5,230.5 L641.7,231.4 L643.9,233.1 L646.1,234.5 L648.3,235.8 L650.5,235.0 L652.7,237.0 L654.9,237.5 L657.1,237.8 L659.3,237.9 L661.5,239.5 L663.7,238.7 L665.9,240.0 L668.1,240.8 L670.3,239.7 L672.5,240.7 L674.7,240.6 L676.9,241.7 L679.1,242.8 L681.3,243.4 L683.5,242.0 L685.7,243.0 L687.9,244.1 L690.1,244.9 L692.3,244.8 L694.5,244.7 L696.7,245.6 L698.9,245.9 L701.1,246.2 L703.3,246.4 L705.5,247.3 L707.7,247.7 L709.9,247.9 L712.1,248.2 L714.3,248.0 L716.5,248.7 L718.7,249.9 L720.9,249.5 L723.1,249.1 L725.3,250.8 L727.5,250.7 L729.7,251.7 L731.9,250.9 L734.1,250.9 L736.3,250.6 L738.5,252.2 L740.7,253.0 L742.9,251.5 L745.1,251.7 L747.3,252.5 L749.5,251.9 L751.7,252.3 L753.9,252.4 L756.1,252.8 L758.3,253.4 L760.5,252.9 L762.7,253.5 L764.9,252.9 L767.1,253.3 L769.3,252.2 L771.5,252.6 L773.7,253.8 L775.9,253.2 L778.1,253.8 L780.3,253.9 L782.5,254.3 L784.7,254.1 L786.9,254.2 L789.1,253.7 L791.3,253.5 L793.5,253.5 L795.7,253.6 L797.9,253.3 L800.1,253.7 L802.3,253.9 L804.5,254.1 L806.7,253.8 L808.9,253.1 L811.1,254.0" fill="none" stroke="#505050" stroke-width="2.80" stroke-linejoin="round" stroke-linecap="round" />
<path d="M483.3,268.5 L484.3,268.5 L485.3,268.5 L486.3,268.5 L487.3,268.4 L488.3,268.4 L489.3,268.4 L490.3,268.4 L491.3,268.4 L492.3,268.4 L493.3,268.3 L494.3,268.3 L495.3,268.3 L496.3,268.3 L497.3,268.3 L498.3,268.3 L499.3,268.2 L500.3,268.2 L501.3,268.2 L502.3,268.2 L503.3,268.2 L504.3,268.1 L505.3,268.1 L506.3,268.1 L507.3,268.1 L508.3,268.0 L509.3,268.0 L510.3,268.0 L511.3,268.0 L512.3,267.9 L513.3,267.9 L514.3,267.9 L515.3,267.8 L516.3,267.8 L517.3,267.8 L518.3,267.7 L519.3,267.7 L520.3,267.6 L521.3,267.5 L522.3,267.5 L523.3,267.4 L524.3,267.3 L525.3,267.2 L526.3,267.0 L527.3,266.8 L528.3,266.6 L529.3,266.4 L530.3,266.1 L531.3,265.7 L532.3,265.2 L533.3,264.7 L534.3,264.0 L535.3,263.2 L536.3,262.3 L537.3,261.2 L538.3,259.9 L539.3,258.4 L540.3,256.6 L541.3,254.6 L542.3,252.2 L543.3,249.5 L544.3,246.4 L545.3,242.9 L546.3,239.0 L547.3,234.7 L548.3,229.8 L549.3,224.5 L550.3,218.6 L551.3,212.2 L552.3,205.3 L553.3,197.9 L554.3,190.0 L555.3,181.6 L556.3,172.8 L557.3,163.7 L558.3,154.3 L559.3,144.7 L560.3,135.0 L561.3,125.3 L562.3,115.6 L563.3,106.2 L564.3,97.0 L565.3,88.3 L566.3,80.1 L567.3,72.5 L568.3,65.6 L569.3,59.7 L570.3,54.6 L571.3,50.6 L572.3,47.6 L573.3,45.7 L574.3,44.9 L575.3,45.3 L576.3,46.7 L577.3,49.2 L578.3,52.7 L579.3,57.2 L580.3,62.6 L581.3,68.7 L582.3,75.6 L583.3,83.0 L584.3,90.8 L585.3,98.8 L586.3,107.0 L587.3,115.2 L588.3,123.2 L589.3,131.0 L590.3,138.4 L591.3,145.2 L592.3,151.5 L593.3,157.1 L594.3,162.0 L595.3,166.1 L596.3,169.6 L597.3,172.4 L598.3,174.5 L599.3,176.2 L600.3,177.5 L601.3,178.6 L602.3,179.6 L603.3,180.5 L604.3,181.6 L605.3,182.9 L606.3,184.5 L607.3,186.4 L608.3,188.6 L609.3,191.0 L610.3,193.7 L611.3,196.4 L612.3,199.2 L613.3,202.0 L614.3,204.7 L615.3,207.2 L616.3,209.4 L617.3,211.5 L618.3,213.2 L619.3,214.8 L620.3,216.1 L621.3,217.2 L622.3,218.2 L623.3,219.0 L624.3,219.7 L625.3,220.3 L626.3,220.9 L627.3,221.5 L628.3,222.1 L629.3,222.7 L630.3,223.2 L631.3,223.8 L632.3,224.4 L633.3,225.1 L634.3,225.7 L635.3,226.3 L636.3,227.0 L637.3,227.6 L638.3,228.2 L639.3,228.9 L640.3,229.5 L641.3,230.1 L642.3,230.7 L643.3,231.2 L644.3,231.8 L645.3,232.3 L646.3,232.8 L647.3,233.2 L648.3,233.7 L649.3,234.1 L650.3,234.5 L651.3,234.9 L652.3,235.3 L653.3,235.6 L654.3,235.9 L655.3,236.2 L656.3,236.5 L657.3,236.7 L658.3,237.0 L659.3,237.2 L660.3,237.4 L661.3,237.7 L662.3,237.9 L663.3,238.1 L664.3,238.2 L665.3,238.4 L666.3,238.6 L667.3,238.8 L668.3,238.9 L669.3,239.1 L670.3,239.3 L671.3,239.5 L672.3,239.6 L673.3,239.8 L674.3,240.0 L675.3,240.1 L676.3,240.3 L677.3,240.5 L678.3,240.7 L679.3,240.9 L680.3,241.0 L681.3,241.2 L682.3,241.4 L683.3,241.6 L684.3,241.8 L685.3,242.0 L686.3,242.2 L687.3,242.4 L688.3,242.6 L689.3,242.8 L690.3,243.0 L691.3,243.2 L692.3,243.4 L693.3,243.6 L694.3,243.8 L695.3,244.0 L696.3,244.2 L697.3,244.4 L698.3,244.6 L699.3,244.8 L700.3,245.0 L701.3,245.2 L702.3,245.4 L703.3,245.5 L704.3,245.7 L705.3,245.9 L706.3,246.1 L707.3,246.3 L708.3,246.4 L709.3,246.6 L710.3,246.8 L711.3,246.9 L712.3,247.1 L713.3,247.3 L714.3,247.4 L715.3,247.6 L716.3,247.7 L717.3,247.9 L718.3,248.0 L719.3,248.2 L720.3,248.3 L721.3,248.4 L722.3,248.6 L723.3,248.7 L724.3,248.8 L725.3,248.9 L726.3,249.1 L727.3,249.2 L728.3,249.3 L729.3,249.4 L730.3,249.5 L731.3,249.6 L732.3,249.7 L733.3,249.8 L734.3,249.9 L735.3,250.0 L736.3,250.1 L737.3,250.2 L738.3,250.3 L739.3,250.4 L740.3,250.5 L741.3,250.5 L742.3,250.6 L743.3,250.7 L744.3,250.8 L745.3,250.8 L746.3,250.9 L747.3,251.0 L748.3,251.0 L749.3,251.1 L750.3,251.2 L751.3,251.2 L752.3,251.3 L753.3,251.4 L754.3,251.4 L755.3,251.5 L756.3,251.5 L757.3,251.6 L758.3,251.6 L759.3,251.7 L760.3,251.7 L761.3,251.8 L762.3,251.8 L763.3,251.8 L764.3,251.9 L765.3,251.9 L766.3,252.0 L767.3,252.0 L768.3,252.0 L769.3,252.1 L770.3,252.1 L771.3,252.1 L772.3,252.2 L773.3,252.2 L774.3,252.2 L775.3,252.3 L776.3,252.3 L777.3,252.3 L778.3,252.3 L779.3,252.4 L780.3,252.4 L781.3,252.4 L782.3,252.4 L783.3,252.5 L784.3,252.5 L785.3,252.5 L786.3,252.5 L787.3,252.5 L788.3,252.6 L789.3,252.6 L790.3,252.6 L791.3,252.6 L792.3,252.6 L793.3,252.6 L794.3,252.7 L795.3,252.7 L796.3,252.7 L797.3,252.7 L798.3,252.7 L799.3,252.7 L800.3,252.7 L801.3,252.8 L802.3,252.8 L803.3,252.8 L804.3,252.8 L805.3,252.8 L806.3,252.8 L807.3,252.8 L808.3,252.8 L809.3,252.8 L810.3,252.9 L811.3,252.9 L812.3,252.9 L813.3,252.9" fill="none" stroke="#ff0000" stroke-width="3.00" stroke-linejoin="round" stroke-linecap="round" />
<path d="M483.3,269.6 L484.3,269.6 L485.3,269.6 L486.3,269.6 L487.3,269.6 L488.3,269.6 L489.3,269.6 L490.3,269.6 L491.3,269.6 L492.3,269.6 L493.3,269.6 L494.3,269.6 L495.3,269.6 L496.3,269.6 L497.3,269.6 L498.3,269.6 L499.3,269.6 L500.3,269.6 L501.3,269.6 L502.3,269.6 L503.3,269.6 L504.3,269.6 L505.3,269.6 L506.3,269.5 L507.3,269.5 L508.3,269.5 L509.3,269.5 L510.3,269.5 L511.3,269.5 L512.3,269.5 L513.3,269.5 L514.3,269.5 L515.3,269.5 L516.3,269.5 L517.3,269.5 L518.3,269.5 L519.3,269.5 L520.3,269.5 L521.3,269.5 L522.3,269.5 L523.3,269.5 L524.3,269.4 L525.3,269.4 L526.3,269.4 L527.3,269.4 L528.3,269.4 L529.3,269.4 L530.3,269.4 L531.3,269.4 L532.3,269.4 L533.3,269.4 L534.3,269.3 L535.3,269.3 L536.3,269.3 L537.3,269.3 L538.3,269.3 L539.3,269.2 L540.3,269.2 L541.3,269.2 L542.3,269.1 L543.3,269.1 L544.3,269.1 L545.3,269.0 L546.3,269.0 L547.3,268.9 L548.3,268.9 L549.3,268.8 L550.3,268.8 L551.3,268.7 L552.3,268.6 L553.3,268.5 L554.3,268.4 L555.3,268.2 L556.3,268.1 L557.3,267.9 L558.3,267.7 L559.3,267.5 L560.3,267.3 L561.3,267.1 L562.3,266.9 L563.3,266.7 L564.3,266.5 L565.3,266.2 L566.3,265.9 L567.3,265.6 L568.3,265.2 L569.3,264.9 L570.3,264.6 L571.3,264.2 L572.3,263.9 L573.3,263.6 L574.3,263.2 L575.3,262.8 L576.3,262.4 L577.3,262.0 L578.3,261.7 L579.3,261.3 L580.3,261.0 L581.3,260.7 L582.3,260.4 L583.3,260.2 L584.3,259.9 L585.3,259.7 L586.3,259.5 L587.3,259.3 L588.3,259.0 L589.3,258.8 L590.3,258.7 L591.3,258.5 L592.3,258.3 L593.3,258.2 L594.3,258.1 L595.3,258.0 L596.3,257.9 L597.3,257.8 L598.3,257.7 L599.3,257.6 L600.3,257.6 L601.3,257.5 L602.3,257.4 L603.3,257.4 L604.3,257.3 L605.3,257.2 L606.3,257.2 L607.3,257.1 L608.3,257.1 L609.3,257.0 L610.3,257.0 L611.3,256.9 L612.3,256.9 L613.3,256.8 L614.3,256.8 L615.3,256.8 L616.3,256.7 L617.3,256.7 L618.3,256.7 L619.3,256.6 L620.3,256.6 L621.3,256.6 L622.3,256.5 L623.3,256.5 L624.3,256.5 L625.3,256.4 L626.3,256.4 L627.3,256.4 L628.3,256.3 L629.3,256.3 L630.3,256.3 L631.3,256.3 L632.3,256.2 L633.3,256.2 L634.3,256.2 L635.3,256.2 L636.3,256.1 L637.3,256.1 L638.3,256.1 L639.3,256.1 L640.3,256.0 L641.3,256.0 L642.3,256.0 L643.3,256.0 L644.3,255.9 L645.3,255.9 L646.3,255.9 L647.3,255.9 L648.3,255.8 L649.3,255.8 L650.3,255.8 L651.3,255.8 L652.3,255.8 L653.3,255.7 L654.3,255.7 L655.3,255.7 L656.3,255.7 L657.3,255.7 L658.3,255.6 L659.3,255.6 L660.3,255.6 L661.3,255.6 L662.3,255.6 L663.3,255.6 L664.3,255.5 L665.3,255.5 L666.3,255.5 L667.3,255.5 L668.3,255.5 L669.3,255.5 L670.3,255.5 L671.3,255.4 L672.3,255.4 L673.3,255.4 L674.3,255.4 L675.3,255.4 L676.3,255.4 L677.3,255.4 L678.3,255.4 L679.3,255.3 L680.3,255.3 L681.3,255.3 L682.3,255.3 L683.3,255.3 L684.3,255.3 L685.3,255.3 L686.3,255.3 L687.3,255.3 L688.3,255.2 L689.3,255.2 L690.3,255.2 L691.3,255.2 L692.3,255.2 L693.3,255.2 L694.3,255.2 L695.3,255.2 L696.3,255.2 L697.3,255.2 L698.3,255.1 L699.3,255.1 L700.3,255.1 L701.3,255.1 L702.3,255.1 L703.3,255.1 L704.3,255.1 L705.3,255.1 L706.3,255.1 L707.3,255.1 L708.3,255.1 L709.3,255.1 L710.3,255.0 L711.3,255.0 L712.3,255.0 L713.3,255.0 L714.3,255.0 L715.3,255.0 L716.3,255.0 L717.3,255.0 L718.3,255.0 L719.3,255.0 L720.3,255.0 L721.3,255.0 L722.3,254.9 L723.3,254.9 L724.3,254.9 L725.3,254.9 L726.3,254.9 L727.3,254.9 L728.3,254.9 L729.3,254.9 L730.3,254.9 L731.3,254.9 L732.3,254.9 L733.3,254.9 L734.3,254.8 L735.3,254.8 L736.3,254.8 L737.3,254.8 L738.3,254.8 L739.3,254.8 L740.3,254.8 L741.3,254.8 L742.3,254.8 L743.3,254.8 L744.3,254.8 L745.3,254.8 L746.3,254.7 L747.3,254.7 L748.3,254.7 L749.3,254.7 L750.3,254.7 L751.3,254.7 L752.3,254.7 L753.3,254.7 L754.3,254.7 L755.3,254.7 L756.3,254.7 L757.3,254.6 L758.3,254.6 L759.3,254.6 L760.3,254.6 L761.3,254.6 L762.3,254.6 L763.3,254.6 L764.3,254.6 L765.3,254.6 L766.3,254.6 L767.3,254.6 L768.3,254.6 L769.3,254.5 L770.3,254.5 L771.3,254.5 L772.3,254.5 L773.3,254.5 L774.3,254.5 L775.3,254.5 L776.3,254.5 L777.3,254.5 L778.3,254.5 L779.3,254.5 L780.3,254.5 L781.3,254.4 L782.3,254.4 L783.3,254.4 L784.3,254.4 L785.3,254.4 L786.3,254.4 L787.3,254.4 L788.3,254.4 L789.3,254.4 L790.3,254.4 L791.3,254.4 L792.3,254.4 L793.3,254.3 L794.3,254.3 L795.3,254.3 L796.3,254.3 L797.3,254.3 L798.3,254.3 L799.3,254.3 L800.3,254.3 L801.3,254.3 L802.3,254.3 L803.3,254.3 L804.3,254.3 L805.3,254.3 L806.3,254.2 L807.3,254.2 L808.3,254.2 L809.3,254.2 L810.3,254.2 L811.3,254.2 L812.3,254.2 L813.3,254.2" fill="none" stroke="#00e5ff" stroke-width="2.60" stroke-linejoin="round" stroke-linecap="round" />
<path d="M483.3,269.2 L484.3,269.2 L485.3,269.2 L486.3,269.2 L487.3,269.2 L488.3,269.2 L489.3,269.2 L490.3,269.2 L491.3,269.1 L492.3,269.1 L493.3,269.1 L494.3,269.1 L495.3,269.1 L496.3,269.1 L497.3,269.1 L498.3,269.1 L499.3,269.1 L500.3,269.1 L501.3,269.1 L502.3,269.0 L503.3,269.0 L504.3,269.0 L505.3,269.0 L506.3,269.0 L507.3,269.0 L508.3,269.0 L509.3,269.0 L510.3,268.9 L511.3,268.9 L512.3,268.9 L513.3,268.9 L514.3,268.9 L515.3,268.9 L516.3,268.8 L517.3,268.8 L518.3,268.8 L519.3,268.8 L520.3,268.8 L521.3,268.8 L522.3,268.7 L523.3,268.7 L524.3,268.7 L525.3,268.7 L526.3,268.7 L527.3,268.6 L528.3,268.6 L529.3,268.6 L530.3,268.6 L531.3,268.5 L532.3,268.5 L533.3,268.5 L534.3,268.5 L535.3,268.4 L536.3,268.4 L537.3,268.3 L538.3,268.3 L539.3,268.2 L540.3,268.2 L541.3,268.1 L542.3,268.1 L543.3,268.0 L544.3,268.0 L545.3,267.9 L546.3,267.8 L547.3,267.8 L548.3,267.7 L549.3,267.6 L550.3,267.5 L551.3,267.4 L552.3,267.3 L553.3,267.2 L554.3,267.0 L555.3,266.8 L556.3,266.7 L557.3,266.5 L558.3,266.2 L559.3,266.0 L560.3,265.8 L561.3,265.5 L562.3,265.3 L563.3,265.0 L564.3,264.7 L565.3,264.4 L566.3,264.1 L567.3,263.7 L568.3,263.3 L569.3,262.9 L570.3,262.5 L571.3,262.1 L572.3,261.8 L573.3,261.4 L574.3,260.9 L575.3,260.5 L576.3,260.0 L577.3,259.6 L578.3,259.1 L579.3,258.7 L580.3,258.3 L581.3,257.9 L582.3,257.5 L583.3,257.2 L584.3,256.8 L585.3,256.5 L586.3,256.2 L587.3,255.8 L588.3,255.5 L589.3,255.2 L590.3,254.9 L591.3,254.6 L592.3,254.3 L593.3,254.0 L594.3,253.7 L595.3,253.4 L596.3,253.1 L597.3,252.9 L598.3,252.6 L599.3,252.3 L600.3,252.0 L601.3,251.7 L602.3,251.4 L603.3,251.1 L604.3,250.7 L605.3,250.4 L606.3,250.1 L607.3,249.7 L608.3,249.3 L609.3,248.9 L610.3,248.5 L611.3,248.1 L612.3,247.6 L613.3,247.2 L614.3,246.7 L615.3,246.2 L616.3,245.7 L617.3,245.2 L618.3,244.7 L619.3,244.2 L620.3,243.6 L621.3,243.1 L622.3,242.5 L623.3,242.0 L624.3,241.5 L625.3,241.0 L626.3,240.5 L627.3,240.0 L628.3,239.6 L629.3,239.2 L630.3,238.9 L631.3,238.6 L632.3,238.4 L633.3,238.2 L634.3,238.1 L635.3,238.1 L636.3,238.2 L637.3,238.3 L638.3,238.5 L639.3,238.7 L640.3,239.0 L641.3,239.4 L642.3,239.8 L643.3,240.2 L644.3,240.6 L645.3,241.1 L646.3,241.6 L647.3,242.1 L648.3,242.5 L649.3,243.0 L650.3,243.5 L651.3,244.0 L652.3,244.5 L653.3,244.9 L654.3,245.3 L655.3,245.8 L656.3,246.2 L657.3,246.6 L658.3,246.9 L659.3,247.3 L660.3,247.6 L661.3,247.9 L662.3,248.2 L663.3,248.5 L664.3,248.8 L665.3,249.1 L666.3,249.3 L667.3,249.6 L668.3,249.8 L669.3,250.0 L670.3,250.2 L671.3,250.4 L672.3,250.6 L673.3,250.7 L674.3,250.9 L675.3,251.1 L676.3,251.2 L677.3,251.3 L678.3,251.5 L679.3,251.6 L680.3,251.7 L681.3,251.8 L682.3,251.9 L683.3,252.0 L684.3,252.1 L685.3,252.2 L686.3,252.3 L687.3,252.4 L688.3,252.5 L689.3,252.5 L690.3,252.6 L691.3,252.7 L692.3,252.8 L693.3,252.8 L694.3,252.9 L695.3,252.9 L696.3,253.0 L697.3,253.0 L698.3,253.1 L699.3,253.1 L700.3,253.2 L701.3,253.2 L702.3,253.3 L703.3,253.3 L704.3,253.3 L705.3,253.4 L706.3,253.4 L707.3,253.4 L708.3,253.5 L709.3,253.5 L710.3,253.5 L711.3,253.6 L712.3,253.6 L713.3,253.6 L714.3,253.6 L715.3,253.7 L716.3,253.7 L717.3,253.7 L718.3,253.7 L719.3,253.7 L720.3,253.8 L721.3,253.8 L722.3,253.8 L723.3,253.8 L724.3,253.8 L725.3,253.8 L726.3,253.9 L727.3,253.9 L728.3,253.9 L729.3,253.9 L730.3,253.9 L731.3,253.9 L732.3,253.9 L733.3,253.9 L734.3,253.9 L735.3,254.0 L736.3,254.0 L737.3,254.0 L738.3,254.0 L739.3,254.0 L740.3,254.0 L741.3,254.0 L742.3,254.0 L743.3,254.0 L744.3,254.0 L745.3,254.0 L746.3,254.0 L747.3,254.0 L748.3,254.0 L749.3,254.0 L750.3,254.0 L751.3,254.0 L752.3,254.0 L753.3,254.0 L754.3,254.0 L755.3,254.0 L756.3,254.0 L757.3,254.0 L758.3,254.0 L759.3,254.0 L760.3,254.0 L761.3,254.0 L762.3,254.0 L763.3,254.0 L764.3,254.0 L765.3,254.0 L766.3,254.0 L767.3,254.0 L768.3,254.0 L769.3,254.0 L770.3,254.0 L771.3,254.0 L772.3,254.0 L773.3,254.0 L774.3,254.0 L775.3,254.0 L776.3,254.0 L777.3,254.0 L778.3,254.0 L779.3,254.0 L780.3,254.0 L781.3,254.0 L782.3,254.0 L783.3,254.0 L784.3,254.0 L785.3,254.0 L786.3,254.0 L787.3,254.0 L788.3,254.0 L789.3,254.0 L790.3,254.0 L791.3,254.0 L792.3,254.0 L793.3,254.0 L794.3,254.0 L795.3,254.0 L796.3,254.0 L797.3,254.0 L798.3,254.0 L799.3,254.0 L800.3,254.0 L801.3,254.0 L802.3,253.9 L803.3,253.9 L804.3,253.9 L805.3,253.9 L806.3,253.9 L807.3,253.9 L808.3,253.9 L809.3,253.9 L810.3,253.9 L811.3,253.9 L812.3,253.9 L813.3,253.9" fill="none" stroke="#ff8000" stroke-width="2.80" stroke-linejoin="round" stroke-linecap="round" />
<path d="M483.3,269.6 L484.3,269.6 L485.3,269.6 L486.3,269.6 L487.3,269.6 L488.3,269.6 L489.3,269.6 L490.3,269.6 L491.3,269.6 L492.3,269.6 L493.3,269.6 L494.3,269.6 L495.3,269.6 L496.3,269.6 L497.3,269.6 L498.3,269.6 L499.3,269.6 L500.3,269.6 L501.3,269.6 L502.3,269.6 L503.3,269.6 L504.3,269.6 L505.3,269.6 L506.3,269.5 L507.3,269.5 L508.3,269.5 L509.3,269.5 L510.3,269.5 L511.3,269.5 L512.3,269.5 L513.3,269.5 L514.3,269.5 L515.3,269.5 L516.3,269.5 L517.3,269.5 L518.3,269.5 L519.3,269.4 L520.3,269.4 L521.3,269.4 L522.3,269.4 L523.3,269.3 L524.3,269.3 L525.3,269.2 L526.3,269.2 L527.3,269.1 L528.3,269.0 L529.3,268.8 L530.3,268.6 L531.3,268.4 L532.3,268.1 L533.3,267.7 L534.3,267.3 L535.3,266.7 L536.3,266.1 L537.3,265.2 L538.3,264.2 L539.3,263.1 L540.3,261.7 L541.3,260.0 L542.3,258.1 L543.3,255.8 L544.3,253.2 L545.3,250.2 L546.3,246.8 L547.3,242.9 L548.3,238.5 L549.3,233.6 L550.3,228.2 L551.3,222.2 L552.3,215.7 L553.3,208.6 L554.3,201.0 L555.3,192.8 L556.3,184.2 L557.3,175.2 L558.3,165.8 L559.3,156.2 L560.3,146.4 L561.3,136.5 L562.3,126.7 L563.3,117.1 L564.3,107.7 L565.3,98.8 L566.3,90.4 L567.3,82.6 L568.3,75.7 L569.3,69.7 L570.3,64.7 L571.3,60.8 L572.3,58.1 L573.3,56.5 L574.3,56.1 L575.3,57.0 L576.3,59.0 L577.3,62.2 L578.3,66.5 L579.3,71.8 L580.3,78.1 L581.3,85.2 L582.3,93.1 L583.3,101.5 L584.3,110.4 L585.3,119.5 L586.3,128.9 L587.3,138.3 L588.3,147.7 L589.3,157.0 L590.3,166.0 L591.3,174.7 L592.3,183.0 L593.3,190.8 L594.3,198.2 L595.3,205.1 L596.3,211.5 L597.3,217.3 L598.3,222.5 L599.3,227.3 L600.3,231.5 L601.3,235.3 L602.3,238.6 L603.3,241.5 L604.3,244.0 L605.3,246.2 L606.3,248.0 L607.3,249.6 L608.3,250.9 L609.3,252.0 L610.3,252.9 L611.3,253.7 L612.3,254.3 L613.3,254.8 L614.3,255.2 L615.3,255.5 L616.3,255.7 L617.3,255.9 L618.3,256.1 L619.3,256.2 L620.3,256.2 L621.3,256.3 L622.3,256.3 L623.3,256.3 L624.3,256.4 L625.3,256.4 L626.3,256.3 L627.3,256.3 L628.3,256.3 L629.3,256.3 L630.3,256.3 L631.3,256.3 L632.3,256.2 L633.3,256.2 L634.3,256.2 L635.3,256.2 L636.3,256.1 L637.3,256.1 L638.3,256.1 L639.3,256.1 L640.3,256.0 L641.3,256.0 L642.3,256.0 L643.3,256.0 L644.3,255.9 L645.3,255.9 L646.3,255.9 L647.3,255.9 L648.3,255.8 L649.3,255.8 L650.3,255.8 L651.3,255.8 L652.3,255.8 L653.3,255.7 L654.3,255.7 L655.3,255.7 L656.3,255.7 L657.3,255.7 L658.3,255.6 L659.3,255.6 L660.3,255.6 L661.3,255.6 L662.3,255.6 L663.3,255.6 L664.3,255.5 L665.3,255.5 L666.3,255.5 L667.3,255.5 L668.3,255.5 L669.3,255.5 L670.3,255.5 L671.3,255.4 L672.3,255.4 L673.3,255.4 L674.3,255.4 L675.3,255.4 L676.3,255.4 L677.3,255.4 L678.3,255.4 L679.3,255.3 L680.3,255.3 L681.3,255.3 L682.3,255.3 L683.3,255.3 L684.3,255.3 L685.3,255.3 L686.3,255.3 L687.3,255.3 L688.3,255.2 L689.3,255.2 L690.3,255.2 L691.3,255.2 L692.3,255.2 L693.3,255.2 L694.3,255.2 L695.3,255.2 L696.3,255.2 L697.3,255.2 L698.3,255.1 L699.3,255.1 L700.3,255.1 L701.3,255.1 L702.3,255.1 L703.3,255.1 L704.3,255.1 L705.3,255.1 L706.3,255.1 L707.3,255.1 L708.3,255.1 L709.3,255.1 L710.3,255.0 L711.3,255.0 L712.3,255.0 L713.3,255.0 L714.3,255.0 L715.3,255.0 L716.3,255.0 L717.3,255.0 L718.3,255.0 L719.3,255.0 L720.3,255.0 L721.3,255.0 L722.3,254.9 L723.3,254.9 L724.3,254.9 L725.3,254.9 L726.3,254.9 L727.3,254.9 L728.3,254.9 L729.3,254.9 L730.3,254.9 L731.3,254.9 L732.3,254.9 L733.3,254.9 L734.3,254.8 L735.3,254.8 L736.3,254.8 L737.3,254.8 L738.3,254.8 L739.3,254.8 L740.3,254.8 L741.3,254.8 L742.3,254.8 L743.3,254.8 L744.3,254.8 L745.3,254.8 L746.3,254.7 L747.3,254.7 L748.3,254.7 L749.3,254.7 L750.3,254.7 L751.3,254.7 L752.3,254.7 L753.3,254.7 L754.3,254.7 L755.3,254.7 L756.3,254.7 L757.3,254.6 L758.3,254.6 L759.3,254.6 L760.3,254.6 L761.3,254.6 L762.3,254.6 L763.3,254.6 L764.3,254.6 L765.3,254.6 L766.3,254.6 L767.3,254.6 L768.3,254.6 L769.3,254.5 L770.3,254.5 L771.3,254.5 L772.3,254.5 L773.3,254.5 L774.3,254.5 L775.3,254.5 L776.3,254.5 L777.3,254.5 L778.3,254.5 L779.3,254.5 L780.3,254.5 L781.3,254.4 L782.3,254.4 L783.3,254.4 L784.3,254.4 L785.3,254.4 L786.3,254.4 L787.3,254.4 L788.3,254.4 L789.3,254.4 L790.3,254.4 L791.3,254.4 L792.3,254.4 L793.3,254.3 L794.3,254.3 L795.3,254.3 L796.3,254.3 L797.3,254.3 L798.3,254.3 L799.3,254.3 L800.3,254.3 L801.3,254.3 L802.3,254.3 L803.3,254.3 L804.3,254.3 L805.3,254.3 L806.3,254.2 L807.3,254.2 L808.3,254.2 L809.3,254.2 L810.3,254.2 L811.3,254.2 L812.3,254.2 L813.3,254.2" fill="none" stroke="#009600" stroke-width="2.80" stroke-linejoin="round" stroke-linecap="round" />
<path d="M483.3,269.1 L484.3,269.1 L485.3,269.1 L486.3,269.1 L487.3,269.1 L488.3,269.1 L489.3,269.1 L490.3,269.1 L491.3,269.0 L492.3,269.0 L493.3,269.0 L494.3,269.0 L495.3,269.0 L496.3,269.0 L497.3,269.0 L498.3,269.0 L499.3,268.9 L500.3,268.9 L501.3,268.9 L502.3,268.9 L503.3,268.9 L504.3,268.9 L505.3,268.8 L506.3,268.8 L507.3,268.8 L508.3,268.8 L509.3,268.8 L510.3,268.8 L511.3,268.7 L512.3,268.7 L513.3,268.7 L514.3,268.7 L515.3,268.6 L516.3,268.6 L517.3,268.6 L518.3,268.6 L519.3,268.5 L520.3,268.5 L521.3,268.5 L522.3,268.4 L523.3,268.4 L524.3,268.4 L525.3,268.3 L526.3,268.3 L527.3,268.3 L528.3,268.2 L529.3,268.2 L530.3,268.2 L531.3,268.1 L532.3,268.1 L533.3,268.0 L534.3,268.0 L535.3,267.9 L536.3,267.9 L537.3,267.8 L538.3,267.7 L539.3,267.6 L540.3,267.6 L541.3,267.5 L542.3,267.4 L543.3,267.3 L544.3,267.2 L545.3,267.1 L546.3,267.0 L547.3,266.9 L548.3,266.8 L549.3,266.7 L550.3,266.5 L551.3,266.4 L552.3,266.2 L553.3,266.0 L554.3,265.8 L555.3,265.5 L556.3,265.3 L557.3,265.0 L558.3,264.7 L559.3,264.4 L560.3,264.1 L561.3,263.7 L562.3,263.4 L563.3,263.0 L564.3,262.6 L565.3,262.1 L566.3,261.6 L567.3,261.1 L568.3,260.5 L569.3,260.0 L570.3,259.4 L571.3,258.8 L572.3,258.1 L573.3,257.5 L574.3,256.8 L575.3,256.0 L576.3,255.2 L577.3,254.4 L578.3,253.5 L579.3,252.6 L580.3,251.7 L581.3,250.7 L582.3,249.7 L583.3,248.7 L584.3,247.6 L585.3,246.4 L586.3,245.1 L587.3,243.7 L588.3,242.2 L589.3,240.5 L590.3,238.7 L591.3,236.8 L592.3,234.7 L593.3,232.4 L594.3,229.9 L595.3,227.3 L596.3,224.5 L597.3,221.6 L598.3,218.5 L599.3,215.5 L600.3,212.4 L601.3,209.6 L602.3,207.1 L603.3,205.1 L604.3,203.7 L605.3,203.0 L606.3,203.1 L607.3,203.9 L608.3,205.4 L609.3,207.5 L610.3,210.0 L611.3,212.8 L612.3,215.7 L613.3,218.7 L614.3,221.6 L615.3,224.3 L616.3,226.9 L617.3,229.4 L618.3,231.6 L619.3,233.6 L620.3,235.5 L621.3,237.2 L622.3,238.7 L623.3,240.1 L624.3,241.3 L625.3,242.4 L626.3,243.4 L627.3,244.3 L628.3,245.1 L629.3,245.9 L630.3,246.6 L631.3,247.2 L632.3,247.7 L633.3,248.2 L634.3,248.7 L635.3,249.1 L636.3,249.4 L637.3,249.8 L638.3,250.1 L639.3,250.4 L640.3,250.7 L641.3,250.9 L642.3,251.1 L643.3,251.3 L644.3,251.5 L645.3,251.7 L646.3,251.9 L647.3,252.0 L648.3,252.2 L649.3,252.3 L650.3,252.4 L651.3,252.5 L652.3,252.6 L653.3,252.7 L654.3,252.8 L655.3,252.9 L656.3,253.0 L657.3,253.1 L658.3,253.2 L659.3,253.2 L660.3,253.3 L661.3,253.4 L662.3,253.4 L663.3,253.5 L664.3,253.5 L665.3,253.6 L666.3,253.6 L667.3,253.7 L668.3,253.7 L669.3,253.8 L670.3,253.8 L671.3,253.8 L672.3,253.9 L673.3,253.9 L674.3,253.9 L675.3,253.9 L676.3,254.0 L677.3,254.0 L678.3,254.0 L679.3,254.1 L680.3,254.1 L681.3,254.1 L682.3,254.1 L683.3,254.1 L684.3,254.1 L685.3,254.2 L686.3,254.2 L687.3,254.2 L688.3,254.2 L689.3,254.2 L690.3,254.2 L691.3,254.3 L692.3,254.3 L693.3,254.3 L694.3,254.3 L695.3,254.3 L696.3,254.3 L697.3,254.3 L698.3,254.3 L699.3,254.3 L700.3,254.3 L701.3,254.3 L702.3,254.4 L703.3,254.4 L704.3,254.4 L705.3,254.4 L706.3,254.4 L707.3,254.4 L708.3,254.4 L709.3,254.4 L710.3,254.4 L711.3,254.4 L712.3,254.4 L713.3,254.4 L714.3,254.4 L715.3,254.4 L716.3,254.4 L717.3,254.4 L718.3,254.4 L719.3,254.4 L720.3,254.4 L721.3,254.4 L722.3,254.4 L723.3,254.4 L724.3,254.4 L725.3,254.4 L726.3,254.4 L727.3,254.4 L728.3,254.4 L729.3,254.4 L730.3,254.4 L731.3,254.4 L732.3,254.4 L733.3,254.4 L734.3,254.4 L735.3,254.4 L736.3,254.4 L737.3,254.4 L738.3,254.4 L739.3,254.4 L740.3,254.4 L741.3,254.4 L742.3,254.4 L743.3,254.4 L744.3,254.4 L745.3,254.4 L746.3,254.4 L747.3,254.4 L748.3,254.4 L749.3,254.4 L750.3,254.4 L751.3,254.4 L752.3,254.4 L753.3,254.4 L754.3,254.4 L755.3,254.3 L756.3,254.3 L757.3,254.3 L758.3,254.3 L759.3,254.3 L760.3,254.3 L761.3,254.3 L762.3,254.3 L763.3,254.3 L764.3,254.3 L765.3,254.3 L766.3,254.3 L767.3,254.3 L768.3,254.3 L769.3,254.3 L770.3,254.3 L771.3,254.3 L772.3,254.3 L773.3,254.3 L774.3,254.3 L775.3,254.2 L776.3,254.2 L777.3,254.2 L778.3,254.2 L779.3,254.2 L780.3,254.2 L781.3,254.2 L782.3,254.2 L783.3,254.2 L784.3,254.2 L785.3,254.2 L786.3,254.2 L787.3,254.2 L788.3,254.2 L789.3,254.2 L790.3,254.2 L791.3,254.2 L792.3,254.2 L793.3,254.1 L794.3,254.1 L795.3,254.1 L796.3,254.1 L797.3,254.1 L798.3,254.1 L799.3,254.1 L800.3,254.1 L801.3,254.1 L802.3,254.1 L803.3,254.1 L804.3,254.1 L805.3,254.1 L806.3,254.1 L807.3,254.1 L808.3,254.1 L809.3,254.1 L810.3,254.0 L811.3,254.0 L812.3,254.0 L813.3,254.0" fill="none" stroke="#ff00ff" stroke-width="2.80" stroke-linejoin="round" stroke-linecap="round" />
<path d="M483.3,269.5 L484.3,269.5 L485.3,269.5 L486.3,269.5 L487.3,269.5 L488.3,269.5 L489.3,269.5 L490.3,269.5 L491.3,269.5 L492.3,269.5 L493.3,269.5 L494.3,269.5 L495.3,269.5 L496.3,269.5 L497.3,269.5 L498.3,269.5 L499.3,269.5 L500.3,269.5 L501.3,269.5 L502.3,269.5 L503.3,269.5 L504.3,269.5 L505.3,269.5 L506.3,269.4 L507.3,269.4 L508.3,269.4 L509.3,269.4 L510.3,269.4 L511.3,269.4 L512.3,269.4 L513.3,269.4 L514.3,269.4 L515.3,269.4 L516.3,269.4 L517.3,269.4 L518.3,269.4 L519.3,269.4 L520.3,269.4 L521.3,269.3 L522.3,269.3 L523.3,269.3 L524.3,269.3 L525.3,269.3 L526.3,269.3 L527.3,269.3 L528.3,269.3 L529.3,269.3 L530.3,269.3 L531.3,269.3 L532.3,269.2 L533.3,269.2 L534.3,269.2 L535.3,269.2 L536.3,269.2 L537.3,269.1 L538.3,269.1 L539.3,269.1 L540.3,269.1 L541.3,269.0 L542.3,269.0 L543.3,268.9 L544.3,268.9 L545.3,268.9 L546.3,268.8 L547.3,268.8 L548.3,268.7 L549.3,268.7 L550.3,268.6 L551.3,268.5 L552.3,268.4 L553.3,268.3 L554.3,268.2 L555.3,268.0 L556.3,267.9 L557.3,267.7 L558.3,267.5 L559.3,267.3 L560.3,267.1 L561.3,266.9 L562.3,266.7 L563.3,266.5 L564.3,266.2 L565.3,266.0 L566.3,265.6 L567.3,265.3 L568.3,265.0 L569.3,264.7 L570.3,264.3 L571.3,264.0 L572.3,263.6 L573.3,263.3 L574.3,262.9 L575.3,262.5 L576.3,262.2 L577.3,261.8 L578.3,261.4 L579.3,261.0 L580.3,260.7 L581.3,260.4 L582.3,260.1 L583.3,259.8 L584.3,259.6 L585.3,259.3 L586.3,259.1 L587.3,258.9 L588.3,258.7 L589.3,258.4 L590.3,258.2 L591.3,258.1 L592.3,257.9 L593.3,257.7 L594.3,257.6 L595.3,257.5 L596.3,257.3 L597.3,257.2 L598.3,257.1 L599.3,257.0 L600.3,256.9 L601.3,256.8 L602.3,256.7 L603.3,256.6 L604.3,256.5 L605.3,256.4 L606.3,256.4 L607.3,256.3 L608.3,256.2 L609.3,256.1 L610.3,256.0 L611.3,255.9 L612.3,255.8 L613.3,255.7 L614.3,255.6 L615.3,255.5 L616.3,255.4 L617.3,255.3 L618.3,255.2 L619.3,255.0 L620.3,254.9 L621.3,254.8 L622.3,254.7 L623.3,254.6 L624.3,254.5 L625.3,254.3 L626.3,254.2 L627.3,254.1 L628.3,253.9 L629.3,253.8 L630.3,253.6 L631.3,253.5 L632.3,253.3 L633.3,253.2 L634.3,253.0 L635.3,252.8 L636.3,252.7 L637.3,252.5 L638.3,252.3 L639.3,252.1 L640.3,251.9 L641.3,251.8 L642.3,251.6 L643.3,251.4 L644.3,251.2 L645.3,251.0 L646.3,250.8 L647.3,250.6 L648.3,250.4 L649.3,250.2 L650.3,249.9 L651.3,249.7 L652.3,249.5 L653.3,249.3 L654.3,249.1 L655.3,248.9 L656.3,248.7 L657.3,248.5 L658.3,248.3 L659.3,248.1 L660.3,247.9 L661.3,247.7 L662.3,247.5 L663.3,247.3 L664.3,247.1 L665.3,246.9 L666.3,246.7 L667.3,246.6 L668.3,246.4 L669.3,246.2 L670.3,246.1 L671.3,245.9 L672.3,245.8 L673.3,245.7 L674.3,245.6 L675.3,245.5 L676.3,245.4 L677.3,245.3 L678.3,245.2 L679.3,245.1 L680.3,245.1 L681.3,245.0 L682.3,245.0 L683.3,245.0 L684.3,245.0 L685.3,245.0 L686.3,245.0 L687.3,245.0 L688.3,245.1 L689.3,245.1 L690.3,245.2 L691.3,245.2 L692.3,245.3 L693.3,245.4 L694.3,245.5 L695.3,245.6 L696.3,245.7 L697.3,245.9 L698.3,246.0 L699.3,246.1 L700.3,246.3 L701.3,246.4 L702.3,246.6 L703.3,246.7 L704.3,246.9 L705.3,247.1 L706.3,247.2 L707.3,247.4 L708.3,247.6 L709.3,247.8 L710.3,248.0 L711.3,248.1 L712.3,248.3 L713.3,248.5 L714.3,248.7 L715.3,248.9 L716.3,249.0 L717.3,249.2 L718.3,249.4 L719.3,249.6 L720.3,249.8 L721.3,249.9 L722.3,250.1 L723.3,250.3 L724.3,250.4 L725.3,250.6 L726.3,250.7 L727.3,250.9 L728.3,251.0 L729.3,251.2 L730.3,251.3 L731.3,251.5 L732.3,251.6 L733.3,251.7 L734.3,251.9 L735.3,252.0 L736.3,252.1 L737.3,252.2 L738.3,252.3 L739.3,252.4 L740.3,252.5 L741.3,252.6 L742.3,252.7 L743.3,252.8 L744.3,252.9 L745.3,253.0 L746.3,253.0 L747.3,253.1 L748.3,253.2 L749.3,253.2 L750.3,253.3 L751.3,253.4 L752.3,253.4 L753.3,253.5 L754.3,253.5 L755.3,253.6 L756.3,253.6 L757.3,253.7 L758.3,253.7 L759.3,253.7 L760.3,253.8 L761.3,253.8 L762.3,253.8 L763.3,253.9 L764.3,253.9 L765.3,253.9 L766.3,253.9 L767.3,253.9 L768.3,254.0 L769.3,254.0 L770.3,254.0 L771.3,254.0 L772.3,254.0 L773.3,254.0 L774.3,254.0 L775.3,254.0 L776.3,254.1 L777.3,254.1 L778.3,254.1 L779.3,254.1 L780.3,254.1 L781.3,254.1 L782.3,254.1 L783.3,254.1 L784.3,254.1 L785.3,254.1 L786.3,254.1 L787.3,254.1 L788.3,254.1 L789.3,254.1 L790.3,254.1 L791.3,254.1 L792.3,254.1 L793.3,254.1 L794.3,254.1 L795.3,254.1 L796.3,254.1 L797.3,254.1 L798.3,254.1 L799.3,254.1 L800.3,254.1 L801.3,254.1 L802.3,254.1 L803.3,254.1 L804.3,254.1 L805.3,254.0 L806.3,254.0 L807.3,254.0 L808.3,254.0 L809.3,254.0 L810.3,254.0 L811.3,254.0 L812.3,254.0 L813.3,254.0" fill="none" stroke="#0000ff" stroke-width="2.80" stroke-linejoin="round" stroke-linecap="round" />
</g>
<rect x="495.20" y="36.70" width="40.20" height="24.60" fill="#000"/>
<rect x="491.20" y="32.70" width="40.20" height="24.60" fill="#fff" stroke="#555" stroke-width="1"/>
<text x="511.30" y="51.00" font-size="16.50" text-anchor="middle" >C 1s</text>
<text x="606.70" y="61.40" font-size="14.00" text-anchor="start" >C-C (284.1eV)</text>
<text x="632.40" y="178.60" font-size="14.00" text-anchor="start" >C-N (285.6eV)</text>
<text x="664.90" y="207.80" font-size="14.00" text-anchor="start" >C-O (286.9eV)</text>
<text x="718.10" y="226.10" font-size="14.00" text-anchor="start" >C-B (288.8eV)</text>
<line x1="616.50" y1="66.00" x2="579.35" y2="94.63" stroke="#000" stroke-width="1.40"/>
<path d="M574.20,98.60 L578.55,91.96 L581.73,96.08 Z" fill="#000"/>
<line x1="647.10" y1="180.50" x2="610.70" y2="209.27" stroke="#000" stroke-width="1.40"/>
<path d="M605.60,213.30 L609.87,206.61 L613.10,210.69 Z" fill="#000"/>
<line x1="678.80" y1="211.90" x2="643.96" y2="240.02" stroke="#000" stroke-width="1.40"/>
<path d="M638.90,244.10 L643.10,237.37 L646.37,241.41 Z" fill="#000"/>
<line x1="728.50" y1="227.80" x2="701.07" y2="246.53" stroke="#000" stroke-width="1.40"/>
<path d="M695.70,250.20 L700.43,243.82 L703.36,248.12 Z" fill="#000"/>
<g clip-path="url(#cpc)">
<path d="M902.5,265.3 L904.4,270.4 L906.4,255.4 L908.3,270.9 L910.3,263.0 L912.2,259.5 L914.1,259.4 L916.1,257.9 L918.0,261.7 L920.0,266.3 L921.9,265.0 L923.8,265.0 L925.8,254.4 L927.7,254.7 L929.7,268.6 L931.6,265.7 L933.5,271.0 L935.5,266.4 L937.4,256.0 L939.4,266.2 L941.3,262.9 L943.2,260.8 L945.2,255.8 L947.1,259.1 L949.1,258.1 L951.0,262.4 L952.9,258.5 L954.9,264.6 L956.8,253.5 L958.8,258.6 L960.7,258.2 L962.6,251.4 L964.6,249.4 L966.5,258.5 L968.5,255.5 L970.4,251.6 L972.3,253.2 L974.3,247.3 L976.2,250.2 L978.2,245.0 L980.1,246.9 L982.0,248.4 L984.0,239.7 L985.9,241.5 L987.9,228.5 L989.8,225.9 L991.7,213.4 L993.7,209.7 L995.6,199.1 L997.6,184.7 L999.5,169.8 L1001.4,161.6 L1003.4,146.4 L1005.3,119.7 L1007.3,116.9 L1009.2,92.2 L1011.1,87.0 L1013.1,81.7 L1015.0,76.7 L1017.0,66.1 L1018.9,62.7 L1020.8,61.7 L1022.8,54.1 L1024.7,51.1 L1026.7,55.5 L1028.6,57.3 L1030.5,55.8 L1032.5,61.4 L1034.4,68.0 L1036.4,73.5 L1038.3,80.8 L1040.2,100.0 L1042.2,98.6 L1044.1,94.0 L1046.1,102.4 L1048.0,118.0 L1049.9,108.6 L1051.9,113.9 L1053.8,108.0 L1055.8,110.5 L1057.7,117.5 L1059.6,118.3 L1061.6,133.8 L1063.5,137.8 L1065.5,141.4 L1067.4,141.9 L1069.3,150.4 L1071.3,158.1 L1073.2,164.0 L1075.2,170.3 L1077.1,173.9 L1079.0,194.4 L1081.0,195.3 L1082.9,198.0 L1084.9,209.4 L1086.8,209.5 L1088.7,200.0 L1090.7,211.2 L1092.6,211.8 L1094.6,218.6 L1096.5,206.6 L1098.4,214.2 L1100.4,216.1 L1102.3,223.9 L1104.3,213.4 L1106.2,205.9 L1108.1,213.8 L1110.1,222.1 L1112.0,225.6 L1114.0,230.8 L1115.9,226.0 L1117.8,221.7 L1119.8,230.5 L1121.7,211.0 L1123.7,228.0 L1125.6,230.1 L1127.5,236.9 L1129.5,228.2 L1131.4,228.7 L1133.4,234.1 L1135.3,235.0 L1137.2,232.6 L1139.2,233.2 L1141.1,239.7 L1143.1,244.8 L1145.0,242.7 L1146.9,243.3 L1148.9,246.4 L1150.8,232.5 L1152.8,235.2 L1154.7,239.3 L1156.6,237.6 L1158.6,238.9 L1160.5,244.1 L1162.5,238.3 L1164.4,242.5 L1166.3,235.6 L1168.3,240.7 L1170.2,251.4 L1172.2,243.1 L1174.1,247.2 L1176.0,249.1 L1178.0,243.9 L1179.9,248.9 L1181.9,247.5 L1183.8,249.8 L1185.7,243.9 L1187.7,240.4 L1189.6,242.5 L1191.6,244.7 L1193.5,249.7 L1195.4,246.5 L1197.4,245.7 L1199.3,246.8 L1201.3,252.7 L1203.2,245.2 L1205.1,254.7 L1207.1,242.4 L1209.0,245.4 L1211.0,252.0 L1212.9,250.5 L1214.8,244.4 L1216.8,247.8 L1218.7,245.2 L1220.7,252.3 L1222.6,251.0 L1224.5,245.4 L1226.5,250.4 L1228.4,247.1 L1230.4,248.4" fill="none" stroke="#505050" stroke-width="2.80" stroke-linejoin="round" stroke-linecap="round" />
<path d="M902.5,262.2 L903.5,262.1 L904.5,262.1 L905.5,262.0 L906.5,262.0 L907.5,261.9 L908.5,261.8 L909.5,261.8 L910.5,261.7 L911.5,261.6 L912.5,261.6 L913.5,261.5 L914.5,261.4 L915.5,261.4 L916.5,261.3 L917.5,261.2 L918.5,261.1 L919.5,261.1 L920.5,261.0 L921.5,260.9 L922.5,260.8 L923.5,260.7 L924.5,260.6 L925.5,260.5 L926.5,260.4 L927.5,260.3 L928.5,260.2 L929.5,260.1 L930.5,260.0 L931.5,259.9 L932.5,259.8 L933.5,259.7 L934.5,259.5 L935.5,259.4 L936.5,259.3 L937.5,259.1 L938.5,259.0 L939.5,258.9 L940.5,258.7 L941.5,258.6 L942.5,258.4 L943.5,258.2 L944.5,258.1 L945.5,257.9 L946.5,257.7 L947.5,257.6 L948.5,257.4 L949.5,257.2 L950.5,257.0 L951.5,256.8 L952.5,256.5 L953.5,256.3 L954.5,256.1 L955.5,255.8 L956.5,255.6 L957.5,255.3 L958.5,255.1 L959.5,254.8 L960.5,254.5 L961.5,254.2 L962.5,253.9 L963.5,253.5 L964.5,253.2 L965.5,252.8 L966.5,252.5 L967.5,252.1 L968.5,251.7 L969.5,251.3 L970.5,250.8 L971.5,250.3 L972.5,249.8 L973.5,249.3 L974.5,248.7 L975.5,248.1 L976.5,247.5 L977.5,246.8 L978.5,246.0 L979.5,245.1 L980.5,244.1 L981.5,243.1 L982.5,241.8 L983.5,240.5 L984.5,238.9 L985.5,237.0 L986.5,235.0 L987.5,232.6 L988.5,229.8 L989.5,226.7 L990.5,223.1 L991.5,219.1 L992.5,214.6 L993.5,209.6 L994.5,204.0 L995.5,198.0 L996.5,191.5 L997.5,184.5 L998.5,177.2 L999.5,169.5 L1000.5,161.6 L1001.5,153.6 L1002.5,145.5 L1003.5,137.6 L1004.5,129.8 L1005.5,122.3 L1006.5,115.2 L1007.5,108.5 L1008.5,102.4 L1009.5,96.8 L1010.5,91.7 L1011.5,87.2 L1012.5,83.1 L1013.5,79.5 L1014.5,76.3 L1015.5,73.3 L1016.5,70.5 L1017.5,67.9 L1018.5,65.4 L1019.5,63.0 L1020.5,60.6 L1021.5,58.4 L1022.5,56.3 L1023.5,54.4 L1024.5,52.8 L1025.5,51.7 L1026.5,51.0 L1027.5,50.9 L1028.5,51.5 L1029.5,52.7 L1030.5,54.5 L1031.5,56.9 L1032.5,59.9 L1033.5,63.2 L1034.5,66.9 L1035.5,70.7 L1036.5,74.7 L1037.5,78.6 L1038.5,82.4 L1039.5,85.9 L1040.5,89.3 L1041.5,92.3 L1042.5,95.0 L1043.5,97.3 L1044.5,99.2 L1045.5,100.8 L1046.5,102.1 L1047.5,103.1 L1048.5,103.9 L1049.5,104.5 L1050.5,105.1 L1051.5,105.8 L1052.5,106.5 L1053.5,107.5 L1054.5,108.8 L1055.5,110.4 L1056.5,112.4 L1057.5,114.8 L1058.5,117.4 L1059.5,120.4 L1060.5,123.5 L1061.5,126.5 L1062.5,129.5 L1063.5,132.3 L1064.5,134.9 L1065.5,137.2 L1066.5,139.4 L1067.5,141.5 L1068.5,143.8 L1069.5,146.5 L1070.5,149.6 L1071.5,153.3 L1072.5,157.5 L1073.5,162.3 L1074.5,167.4 L1075.5,172.6 L1076.5,177.8 L1077.5,182.8 L1078.5,187.4 L1079.5,191.5 L1080.5,195.0 L1081.5,198.1 L1082.5,200.7 L1083.5,202.9 L1084.5,204.8 L1085.5,206.4 L1086.5,207.8 L1087.5,209.1 L1088.5,210.2 L1089.5,211.2 L1090.5,212.2 L1091.5,213.0 L1092.5,213.8 L1093.5,214.5 L1094.5,215.2 L1095.5,215.8 L1096.5,216.4 L1097.5,217.0 L1098.5,217.5 L1099.5,218.0 L1100.5,218.5 L1101.5,219.0 L1102.5,219.5 L1103.5,220.0 L1104.5,220.5 L1105.5,221.0 L1106.5,221.5 L1107.5,222.0 L1108.5,222.5 L1109.5,223.1 L1110.5,223.6 L1111.5,224.1 L1112.5,224.7 L1113.5,225.3 L1114.5,225.9 L1115.5,226.4 L1116.5,227.0 L1117.5,227.6 L1118.5,228.2 L1119.5,228.7 L1120.5,229.3 L1121.5,229.9 L1122.5,230.4 L1123.5,231.0 L1124.5,231.5 L1125.5,232.0 L1126.5,232.5 L1127.5,233.0 L1128.5,233.5 L1129.5,234.0 L1130.5,234.5 L1131.5,234.9 L1132.5,235.3 L1133.5,235.7 L1134.5,236.1 L1135.5,236.5 L1136.5,236.9 L1137.5,237.3 L1138.5,237.6 L1139.5,238.0 L1140.5,238.3 L1141.5,238.6 L1142.5,238.9 L1143.5,239.2 L1144.5,239.5 L1145.5,239.7 L1146.5,240.0 L1147.5,240.2 L1148.5,240.5 L1149.5,240.7 L1150.5,240.9 L1151.5,241.1 L1152.5,241.3 L1153.5,241.5 L1154.5,241.7 L1155.5,241.9 L1156.5,242.1 L1157.5,242.3 L1158.5,242.4 L1159.5,242.6 L1160.5,242.7 L1161.5,242.9 L1162.5,243.0 L1163.5,243.2 L1164.5,243.3 L1165.5,243.4 L1166.5,243.5 L1167.5,243.7 L1168.5,243.8 L1169.5,243.9 L1170.5,244.0 L1171.5,244.1 L1172.5,244.2 L1173.5,244.3 L1174.5,244.4 L1175.5,244.5 L1176.5,244.6 L1177.5,244.7 L1178.5,244.8 L1179.5,244.8 L1180.5,244.9 L1181.5,245.0 L1182.5,245.1 L1183.5,245.2 L1184.5,245.2 L1185.5,245.3 L1186.5,245.4 L1187.5,245.4 L1188.5,245.5 L1189.5,245.6 L1190.5,245.6 L1191.5,245.7 L1192.5,245.7 L1193.5,245.8 L1194.5,245.9 L1195.5,245.9 L1196.5,246.0 L1197.5,246.0 L1198.5,246.1 L1199.5,246.1 L1200.5,246.2 L1201.5,246.2 L1202.5,246.3 L1203.5,246.3 L1204.5,246.4 L1205.5,246.4 L1206.5,246.4 L1207.5,246.5 L1208.5,246.5 L1209.5,246.6 L1210.5,246.6 L1211.5,246.6 L1212.5,246.7 L1213.5,246.7 L1214.5,246.8 L1215.5,246.8 L1216.5,246.8 L1217.5,246.9 L1218.5,246.9 L1219.5,246.9 L1220.5,247.0 L1221.5,247.0 L1222.5,247.0 L1223.5,247.1 L1224.5,247.1 L1225.5,247.1 L1226.5,247.1 L1227.5,247.2 L1228.5,247.2 L1229.5,247.2 L1230.5,247.3 L1231.5,247.3" fill="none" stroke="#ff0000" stroke-width="3.00" stroke-linejoin="round" stroke-linecap="round" />
<path d="M902.5,266.0 L903.5,266.0 L904.5,266.0 L905.5,266.0 L906.5,266.0 L907.5,266.0 L908.5,266.0 L909.5,266.0 L910.5,266.0 L911.5,266.0 L912.5,266.0 L913.5,266.0 L914.5,266.0 L915.5,266.0 L916.5,266.0 L917.5,266.0 L918.5,266.0 L919.5,266.0 L920.5,266.0 L921.5,266.0 L922.5,266.0 L923.5,266.0 L924.5,266.0 L925.5,266.0 L926.5,266.0 L927.5,266.0 L928.5,266.0 L929.5,266.0 L930.5,266.0 L931.5,266.0 L932.5,266.0 L933.5,266.0 L934.5,266.0 L935.5,266.0 L936.5,266.0 L937.5,266.0 L938.5,266.0 L939.5,266.0 L940.5,266.0 L941.5,266.0 L942.5,265.9 L943.5,265.9 L944.5,265.9 L945.5,265.9 L946.5,265.9 L947.5,265.9 L948.5,265.9 L949.5,265.9 L950.5,265.9 L951.5,265.9 L952.5,265.9 L953.5,265.9 L954.5,265.9 L955.5,265.9 L956.5,265.9 L957.5,265.9 L958.5,265.9 L959.5,265.9 L960.5,265.8 L961.5,265.8 L962.5,265.8 L963.5,265.8 L964.5,265.8 L965.5,265.8 L966.5,265.8 L967.5,265.8 L968.5,265.8 L969.5,265.7 L970.5,265.7 L971.5,265.7 L972.5,265.7 L973.5,265.7 L974.5,265.7 L975.5,265.6 L976.5,265.6 L977.5,265.6 L978.5,265.6 L979.5,265.5 L980.5,265.5 L981.5,265.5 L982.5,265.5 L983.5,265.4 L984.5,265.4 L985.5,265.4 L986.5,265.3 L987.5,265.3 L988.5,265.2 L989.5,265.2 L990.5,265.2 L991.5,265.1 L992.5,265.1 L993.5,265.0 L994.5,264.9 L995.5,264.9 L996.5,264.8 L997.5,264.8 L998.5,264.7 L999.5,264.6 L1000.5,264.5 L1001.5,264.5 L1002.5,264.4 L1003.5,264.3 L1004.5,264.2 L1005.5,264.1 L1006.5,264.0 L1007.5,263.9 L1008.5,263.8 L1009.5,263.7 L1010.5,263.5 L1011.5,263.4 L1012.5,263.3 L1013.5,263.1 L1014.5,263.0 L1015.5,262.9 L1016.5,262.7 L1017.5,262.6 L1018.5,262.4 L1019.5,262.2 L1020.5,262.0 L1021.5,261.9 L1022.5,261.7 L1023.5,261.5 L1024.5,261.3 L1025.5,261.1 L1026.5,260.9 L1027.5,260.7 L1028.5,260.5 L1029.5,260.3 L1030.5,260.0 L1031.5,259.8 L1032.5,259.6 L1033.5,259.3 L1034.5,259.1 L1035.5,258.9 L1036.5,258.6 L1037.5,258.4 L1038.5,258.2 L1039.5,257.9 L1040.5,257.7 L1041.5,257.4 L1042.5,257.2 L1043.5,257.0 L1044.5,256.7 L1045.5,256.5 L1046.5,256.3 L1047.5,256.0 L1048.5,255.8 L1049.5,255.6 L1050.5,255.3 L1051.5,255.1 L1052.5,254.9 L1053.5,254.7 L1054.5,254.5 L1055.5,254.3 L1056.5,254.1 L1057.5,253.9 L1058.5,253.7 L1059.5,253.6 L1060.5,253.4 L1061.5,253.2 L1062.5,253.0 L1063.5,252.9 L1064.5,252.7 L1065.5,252.6 L1066.5,252.5 L1067.5,252.3 L1068.5,252.2 L1069.5,252.1 L1070.5,251.9 L1071.5,251.8 L1072.5,251.7 L1073.5,251.6 L1074.5,251.5 L1075.5,251.4 L1076.5,251.3 L1077.5,251.2 L1078.5,251.1 L1079.5,251.1 L1080.5,251.0 L1081.5,250.9 L1082.5,250.8 L1083.5,250.8 L1084.5,250.7 L1085.5,250.7 L1086.5,250.6 L1087.5,250.5 L1088.5,250.5 L1089.5,250.4 L1090.5,250.4 L1091.5,250.4 L1092.5,250.3 L1093.5,250.3 L1094.5,250.2 L1095.5,250.2 L1096.5,250.2 L1097.5,250.1 L1098.5,250.1 L1099.5,250.1 L1100.5,250.1 L1101.5,250.0 L1102.5,250.0 L1103.5,250.0 L1104.5,250.0 L1105.5,249.9 L1106.5,249.9 L1107.5,249.9 L1108.5,249.9 L1109.5,249.9 L1110.5,249.9 L1111.5,249.8 L1112.5,249.8 L1113.5,249.8 L1114.5,249.8 L1115.5,249.8 L1116.5,249.8 L1117.5,249.8 L1118.5,249.8 L1119.5,249.8 L1120.5,249.7 L1121.5,249.7 L1122.5,249.7 L1123.5,249.7 L1124.5,249.7 L1125.5,249.7 L1126.5,249.7 L1127.5,249.7 L1128.5,249.7 L1129.5,249.7 L1130.5,249.7 L1131.5,249.7 L1132.5,249.7 L1133.5,249.7 L1134.5,249.7 L1135.5,249.7 L1136.5,249.7 L1137.5,249.7 L1138.5,249.6 L1139.5,249.6 L1140.5,249.6 L1141.5,249.6 L1142.5,249.6 L1143.5,249.6 L1144.5,249.6 L1145.5,249.6 L1146.5,249.6 L1147.5,249.6 L1148.5,249.6 L1149.5,249.6 L1150.5,249.6 L1151.5,249.6 L1152.5,249.6 L1153.5,249.6 L1154.5,249.6 L1155.5,249.6 L1156.5,249.6 L1157.5,249.6 L1158.5,249.6 L1159.5,249.6 L1160.5,249.6 L1161.5,249.6 L1162.5,249.6 L1163.5,249.6 L1164.5,249.6 L1165.5,249.6 L1166.5,249.6 L1167.5,249.6 L1168.5,249.6 L1169.5,249.6 L1170.5,249.6 L1171.5,249.6 L1172.5,249.6 L1173.5,249.6 L1174.5,249.6 L1175.5,249.6 L1176.5,249.6 L1177.5,249.6 L1178.5,249.6 L1179.5,249.6 L1180.5,249.6 L1181.5,249.6 L1182.5,249.6 L1183.5,249.6 L1184.5,249.6 L1185.5,249.6 L1186.5,249.6 L1187.5,249.6 L1188.5,249.6 L1189.5,249.6 L1190.5,249.6 L1191.5,249.6 L1192.5,249.6 L1193.5,249.6 L1194.5,249.6 L1195.5,249.6 L1196.5,249.6 L1197.5,249.6 L1198.5,249.6 L1199.5,249.6 L1200.5,249.6 L1201.5,249.6 L1202.5,249.6 L1203.5,249.6 L1204.5,249.6 L1205.5,249.6 L1206.5,249.6 L1207.5,249.6 L1208.5,249.6 L1209.5,249.6 L1210.5,249.6 L1211.5,249.6 L1212.5,249.6 L1213.5,249.6 L1214.5,249.6 L1215.5,249.6 L1216.5,249.6 L1217.5,249.6 L1218.5,249.6 L1219.5,249.6 L1220.5,249.6 L1221.5,249.6 L1222.5,249.6 L1223.5,249.6 L1224.5,249.6 L1225.5,249.6 L1226.5,249.6 L1227.5,249.6 L1228.5,249.6 L1229.5,249.6 L1230.5,249.6 L1231.5,249.6" fill="none" stroke="#00e5ff" stroke-width="2.60" stroke-linejoin="round" stroke-linecap="round" />
<path d="M902.5,265.4 L903.5,265.4 L904.5,265.3 L905.5,265.3 L906.5,265.3 L907.5,265.3 L908.5,265.3 L909.5,265.3 L910.5,265.3 L911.5,265.2 L912.5,265.2 L913.5,265.2 L914.5,265.2 L915.5,265.2 L916.5,265.2 L917.5,265.1 L918.5,265.1 L919.5,265.1 L920.5,265.1 L921.5,265.1 L922.5,265.0 L923.5,265.0 L924.5,265.0 L925.5,265.0 L926.5,264.9 L927.5,264.9 L928.5,264.9 L929.5,264.9 L930.5,264.8 L931.5,264.8 L932.5,264.8 L933.5,264.7 L934.5,264.7 L935.5,264.7 L936.5,264.6 L937.5,264.6 L938.5,264.6 L939.5,264.5 L940.5,264.5 L941.5,264.4 L942.5,264.4 L943.5,264.3 L944.5,264.3 L945.5,264.2 L946.5,264.2 L947.5,264.1 L948.5,264.0 L949.5,264.0 L950.5,263.9 L951.5,263.8 L952.5,263.8 L953.5,263.7 L954.5,263.6 L955.5,263.5 L956.5,263.4 L957.5,263.3 L958.5,263.2 L959.5,263.1 L960.5,263.0 L961.5,262.9 L962.5,262.7 L963.5,262.6 L964.5,262.4 L965.5,262.3 L966.5,262.1 L967.5,261.9 L968.5,261.8 L969.5,261.6 L970.5,261.3 L971.5,261.1 L972.5,260.9 L973.5,260.6 L974.5,260.3 L975.5,260.0 L976.5,259.7 L977.5,259.3 L978.5,258.9 L979.5,258.5 L980.5,258.0 L981.5,257.5 L982.5,256.9 L983.5,256.3 L984.5,255.6 L985.5,254.8 L986.5,253.9 L987.5,253.0 L988.5,251.9 L989.5,250.6 L990.5,249.2 L991.5,247.6 L992.5,245.7 L993.5,243.6 L994.5,241.2 L995.5,238.5 L996.5,235.4 L997.5,231.9 L998.5,228.0 L999.5,223.7 L1000.5,218.9 L1001.5,213.6 L1002.5,207.9 L1003.5,201.9 L1004.5,195.7 L1005.5,189.6 L1006.5,183.8 L1007.5,178.8 L1008.5,174.8 L1009.5,172.4 L1010.5,171.8 L1011.5,172.9 L1012.5,175.8 L1013.5,180.0 L1014.5,185.1 L1015.5,190.8 L1016.5,196.8 L1017.5,202.7 L1018.5,208.3 L1019.5,213.6 L1020.5,218.4 L1021.5,222.8 L1022.5,226.7 L1023.5,230.2 L1024.5,233.2 L1025.5,235.9 L1026.5,238.2 L1027.5,240.2 L1028.5,241.9 L1029.5,243.4 L1030.5,244.7 L1031.5,245.7 L1032.5,246.7 L1033.5,247.4 L1034.5,248.1 L1035.5,248.7 L1036.5,249.1 L1037.5,249.5 L1038.5,249.8 L1039.5,250.1 L1040.5,250.3 L1041.5,250.5 L1042.5,250.7 L1043.5,250.8 L1044.5,250.9 L1045.5,251.0 L1046.5,251.0 L1047.5,251.0 L1048.5,251.1 L1049.5,251.1 L1050.5,251.0 L1051.5,251.0 L1052.5,251.0 L1053.5,250.9 L1054.5,250.9 L1055.5,250.9 L1056.5,250.8 L1057.5,250.7 L1058.5,250.7 L1059.5,250.6 L1060.5,250.6 L1061.5,250.5 L1062.5,250.4 L1063.5,250.4 L1064.5,250.3 L1065.5,250.2 L1066.5,250.2 L1067.5,250.1 L1068.5,250.1 L1069.5,250.0 L1070.5,250.0 L1071.5,249.9 L1072.5,249.9 L1073.5,249.8 L1074.5,249.8 L1075.5,249.7 L1076.5,249.7 L1077.5,249.6 L1078.5,249.6 L1079.5,249.6 L1080.5,249.5 L1081.5,249.5 L1082.5,249.5 L1083.5,249.4 L1084.5,249.4 L1085.5,249.4 L1086.5,249.4 L1087.5,249.3 L1088.5,249.3 L1089.5,249.3 L1090.5,249.3 L1091.5,249.3 L1092.5,249.2 L1093.5,249.2 L1094.5,249.2 L1095.5,249.2 L1096.5,249.2 L1097.5,249.2 L1098.5,249.2 L1099.5,249.2 L1100.5,249.2 L1101.5,249.2 L1102.5,249.1 L1103.5,249.1 L1104.5,249.1 L1105.5,249.1 L1106.5,249.1 L1107.5,249.1 L1108.5,249.1 L1109.5,249.1 L1110.5,249.1 L1111.5,249.1 L1112.5,249.1 L1113.5,249.1 L1114.5,249.1 L1115.5,249.1 L1116.5,249.1 L1117.5,249.1 L1118.5,249.1 L1119.5,249.1 L1120.5,249.1 L1121.5,249.1 L1122.5,249.1 L1123.5,249.1 L1124.5,249.2 L1125.5,249.2 L1126.5,249.2 L1127.5,249.2 L1128.5,249.2 L1129.5,249.2 L1130.5,249.2 L1131.5,249.2 L1132.5,249.2 L1133.5,249.2 L1134.5,249.2 L1135.5,249.2 L1136.5,249.2 L1137.5,249.2 L1138.5,249.2 L1139.5,249.2 L1140.5,249.2 L1141.5,249.2 L1142.5,249.2 L1143.5,249.2 L1144.5,249.2 L1145.5,249.2 L1146.5,249.2 L1147.5,249.2 L1148.5,249.2 L1149.5,249.2 L1150.5,249.3 L1151.5,249.3 L1152.5,249.3 L1153.5,249.3 L1154.5,249.3 L1155.5,249.3 L1156.5,249.3 L1157.5,249.3 L1158.5,249.3 L1159.5,249.3 L1160.5,249.3 L1161.5,249.3 L1162.5,249.3 L1163.5,249.3 L1164.5,249.3 L1165.5,249.3 L1166.5,249.3 L1167.5,249.3 L1168.5,249.3 L1169.5,249.3 L1170.5,249.3 L1171.5,249.3 L1172.5,249.3 L1173.5,249.3 L1174.5,249.3 L1175.5,249.3 L1176.5,249.3 L1177.5,249.3 L1178.5,249.3 L1179.5,249.3 L1180.5,249.4 L1181.5,249.4 L1182.5,249.4 L1183.5,249.4 L1184.5,249.4 L1185.5,249.4 L1186.5,249.4 L1187.5,249.4 L1188.5,249.4 L1189.5,249.4 L1190.5,249.4 L1191.5,249.4 L1192.5,249.4 L1193.5,249.4 L1194.5,249.4 L1195.5,249.4 L1196.5,249.4 L1197.5,249.4 L1198.5,249.4 L1199.5,249.4 L1200.5,249.4 L1201.5,249.4 L1202.5,249.4 L1203.5,249.4 L1204.5,249.4 L1205.5,249.4 L1206.5,249.4 L1207.5,249.4 L1208.5,249.4 L1209.5,249.4 L1210.5,249.4 L1211.5,249.4 L1212.5,249.4 L1213.5,249.4 L1214.5,249.4 L1215.5,249.4 L1216.5,249.4 L1217.5,249.4 L1218.5,249.4 L1219.5,249.4 L1220.5,249.4 L1221.5,249.4 L1222.5,249.4 L1223.5,249.4 L1224.5,249.4 L1225.5,249.4 L1226.5,249.4 L1227.5,249.4 L1228.5,249.4 L1229.5,249.4 L1230.5,249.4 L1231.5,249.4" fill="none" stroke="#009600" stroke-width="2.80" stroke-linejoin="round" stroke-linecap="round" />
<path d="M902.5,264.7 L903.5,264.7 L904.5,264.6 L905.5,264.6 L906.5,264.6 L907.5,264.6 L908.5,264.5 L909.5,264.5 L910.5,264.5 L911.5,264.5 L912.5,264.4 L913.5,264.4 L914.5,264.4 L915.5,264.4 L916.5,264.3 L917.5,264.3 L918.5,264.3 L919.5,264.2 L920.5,264.2 L921.5,264.2 L922.5,264.1 L923.5,264.1 L924.5,264.1 L925.5,264.0 L926.5,264.0 L927.5,263.9 L928.5,263.9 L929.5,263.9 L930.5,263.8 L931.5,263.8 L932.5,263.7 L933.5,263.7 L934.5,263.6 L935.5,263.6 L936.5,263.5 L937.5,263.5 L938.5,263.4 L939.5,263.3 L940.5,263.3 L941.5,263.2 L942.5,263.1 L943.5,263.1 L944.5,263.0 L945.5,262.9 L946.5,262.9 L947.5,262.8 L948.5,262.7 L949.5,262.6 L950.5,262.5 L951.5,262.4 L952.5,262.3 L953.5,262.2 L954.5,262.1 L955.5,262.0 L956.5,261.9 L957.5,261.8 L958.5,261.7 L959.5,261.5 L960.5,261.4 L961.5,261.3 L962.5,261.1 L963.5,261.0 L964.5,260.8 L965.5,260.7 L966.5,260.5 L967.5,260.3 L968.5,260.1 L969.5,259.9 L970.5,259.7 L971.5,259.5 L972.5,259.2 L973.5,259.0 L974.5,258.7 L975.5,258.5 L976.5,258.2 L977.5,257.9 L978.5,257.5 L979.5,257.2 L980.5,256.8 L981.5,256.4 L982.5,256.0 L983.5,255.5 L984.5,255.0 L985.5,254.5 L986.5,253.9 L987.5,253.2 L988.5,252.5 L989.5,251.7 L990.5,250.9 L991.5,249.9 L992.5,248.9 L993.5,247.7 L994.5,246.4 L995.5,244.9 L996.5,243.3 L997.5,241.5 L998.5,239.5 L999.5,237.3 L1000.5,234.9 L1001.5,232.2 L1002.5,229.2 L1003.5,225.9 L1004.5,222.3 L1005.5,218.4 L1006.5,214.2 L1007.5,209.6 L1008.5,204.7 L1009.5,199.4 L1010.5,193.8 L1011.5,187.9 L1012.5,181.6 L1013.5,175.1 L1014.5,168.3 L1015.5,161.4 L1016.5,154.3 L1017.5,147.2 L1018.5,140.2 L1019.5,133.3 L1020.5,126.7 L1021.5,120.6 L1022.5,115.1 L1023.5,110.3 L1024.5,106.4 L1025.5,103.6 L1026.5,101.9 L1027.5,101.4 L1028.5,102.2 L1029.5,104.1 L1030.5,107.1 L1031.5,111.1 L1032.5,115.9 L1033.5,121.3 L1034.5,127.3 L1035.5,133.7 L1036.5,140.3 L1037.5,147.0 L1038.5,153.7 L1039.5,160.3 L1040.5,166.7 L1041.5,173.0 L1042.5,179.0 L1043.5,184.7 L1044.5,190.1 L1045.5,195.1 L1046.5,199.9 L1047.5,204.3 L1048.5,208.3 L1049.5,212.1 L1050.5,215.5 L1051.5,218.6 L1052.5,221.4 L1053.5,223.9 L1054.5,226.2 L1055.5,228.2 L1056.5,230.0 L1057.5,231.7 L1058.5,233.1 L1059.5,234.4 L1060.5,235.5 L1061.5,236.5 L1062.5,237.4 L1063.5,238.2 L1064.5,238.9 L1065.5,239.6 L1066.5,240.1 L1067.5,240.6 L1068.5,241.1 L1069.5,241.5 L1070.5,241.8 L1071.5,242.2 L1072.5,242.5 L1073.5,242.7 L1074.5,243.0 L1075.5,243.2 L1076.5,243.5 L1077.5,243.7 L1078.5,243.9 L1079.5,244.0 L1080.5,244.2 L1081.5,244.4 L1082.5,244.5 L1083.5,244.7 L1084.5,244.8 L1085.5,244.9 L1086.5,245.0 L1087.5,245.2 L1088.5,245.3 L1089.5,245.4 L1090.5,245.5 L1091.5,245.6 L1092.5,245.7 L1093.5,245.8 L1094.5,245.9 L1095.5,246.0 L1096.5,246.0 L1097.5,246.1 L1098.5,246.2 L1099.5,246.3 L1100.5,246.3 L1101.5,246.4 L1102.5,246.5 L1103.5,246.5 L1104.5,246.6 L1105.5,246.7 L1106.5,246.7 L1107.5,246.8 L1108.5,246.8 L1109.5,246.9 L1110.5,247.0 L1111.5,247.0 L1112.5,247.1 L1113.5,247.1 L1114.5,247.2 L1115.5,247.2 L1116.5,247.2 L1117.5,247.3 L1118.5,247.3 L1119.5,247.4 L1120.5,247.4 L1121.5,247.5 L1122.5,247.5 L1123.5,247.5 L1124.5,247.6 L1125.5,247.6 L1126.5,247.6 L1127.5,247.7 L1128.5,247.7 L1129.5,247.7 L1130.5,247.8 L1131.5,247.8 L1132.5,247.8 L1133.5,247.9 L1134.5,247.9 L1135.5,247.9 L1136.5,247.9 L1137.5,248.0 L1138.5,248.0 L1139.5,248.0 L1140.5,248.1 L1141.5,248.1 L1142.5,248.1 L1143.5,248.1 L1144.5,248.1 L1145.5,248.2 L1146.5,248.2 L1147.5,248.2 L1148.5,248.2 L1149.5,248.3 L1150.5,248.3 L1151.5,248.3 L1152.5,248.3 L1153.5,248.3 L1154.5,248.4 L1155.5,248.4 L1156.5,248.4 L1157.5,248.4 L1158.5,248.4 L1159.5,248.4 L1160.5,248.5 L1161.5,248.5 L1162.5,248.5 L1163.5,248.5 L1164.5,248.5 L1165.5,248.5 L1166.5,248.6 L1167.5,248.6 L1168.5,248.6 L1169.5,248.6 L1170.5,248.6 L1171.5,248.6 L1172.5,248.6 L1173.5,248.6 L1174.5,248.7 L1175.5,248.7 L1176.5,248.7 L1177.5,248.7 L1178.5,248.7 L1179.5,248.7 L1180.5,248.7 L1181.5,248.7 L1182.5,248.8 L1183.5,248.8 L1184.5,248.8 L1185.5,248.8 L1186.5,248.8 L1187.5,248.8 L1188.5,248.8 L1189.5,248.8 L1190.5,248.8 L1191.5,248.8 L1192.5,248.8 L1193.5,248.9 L1194.5,248.9 L1195.5,248.9 L1196.5,248.9 L1197.5,248.9 L1198.5,248.9 L1199.5,248.9 L1200.5,248.9 L1201.5,248.9 L1202.5,248.9 L1203.5,248.9 L1204.5,248.9 L1205.5,249.0 L1206.5,249.0 L1207.5,249.0 L1208.5,249.0 L1209.5,249.0 L1210.5,249.0 L1211.5,249.0 L1212.5,249.0 L1213.5,249.0 L1214.5,249.0 L1215.5,249.0 L1216.5,249.0 L1217.5,249.0 L1218.5,249.0 L1219.5,249.0 L1220.5,249.0 L1221.5,249.1 L1222.5,249.1 L1223.5,249.1 L1224.5,249.1 L1225.5,249.1 L1226.5,249.1 L1227.5,249.1 L1228.5,249.1 L1229.5,249.1 L1230.5,249.1 L1231.5,249.1" fill="none" stroke="#ff00ff" stroke-width="2.80" stroke-linejoin="round" stroke-linecap="round" />
<path d="M902.5,264.8 L903.5,264.8 L904.5,264.8 L905.5,264.7 L906.5,264.7 L907.5,264.7 L908.5,264.7 L909.5,264.7 L910.5,264.7 L911.5,264.6 L912.5,264.6 L913.5,264.6 L914.5,264.6 L915.5,264.6 L916.5,264.5 L917.5,264.5 L918.5,264.5 L919.5,264.5 L920.5,264.4 L921.5,264.4 L922.5,264.4 L923.5,264.4 L924.5,264.3 L925.5,264.3 L926.5,264.3 L927.5,264.3 L928.5,264.2 L929.5,264.2 L930.5,264.2 L931.5,264.1 L932.5,264.1 L933.5,264.1 L934.5,264.1 L935.5,264.0 L936.5,264.0 L937.5,263.9 L938.5,263.9 L939.5,263.9 L940.5,263.8 L941.5,263.8 L942.5,263.8 L943.5,263.7 L944.5,263.7 L945.5,263.6 L946.5,263.6 L947.5,263.5 L948.5,263.5 L949.5,263.4 L950.5,263.4 L951.5,263.3 L952.5,263.3 L953.5,263.2 L954.5,263.2 L955.5,263.1 L956.5,263.0 L957.5,263.0 L958.5,262.9 L959.5,262.8 L960.5,262.8 L961.5,262.7 L962.5,262.6 L963.5,262.5 L964.5,262.5 L965.5,262.4 L966.5,262.3 L967.5,262.2 L968.5,262.1 L969.5,262.0 L970.5,261.9 L971.5,261.8 L972.5,261.7 L973.5,261.6 L974.5,261.5 L975.5,261.4 L976.5,261.2 L977.5,261.1 L978.5,261.0 L979.5,260.8 L980.5,260.7 L981.5,260.5 L982.5,260.4 L983.5,260.2 L984.5,260.0 L985.5,259.8 L986.5,259.6 L987.5,259.5 L988.5,259.2 L989.5,259.0 L990.5,258.8 L991.5,258.6 L992.5,258.3 L993.5,258.1 L994.5,257.8 L995.5,257.5 L996.5,257.2 L997.5,256.9 L998.5,256.5 L999.5,256.2 L1000.5,255.8 L1001.5,255.4 L1002.5,255.0 L1003.5,254.5 L1004.5,254.0 L1005.5,253.5 L1006.5,253.0 L1007.5,252.4 L1008.5,251.8 L1009.5,251.1 L1010.5,250.4 L1011.5,249.7 L1012.5,248.9 L1013.5,248.0 L1014.5,247.1 L1015.5,246.1 L1016.5,245.0 L1017.5,243.8 L1018.5,242.6 L1019.5,241.3 L1020.5,239.9 L1021.5,238.3 L1022.5,236.7 L1023.5,235.0 L1024.5,233.1 L1025.5,231.1 L1026.5,229.0 L1027.5,226.8 L1028.5,224.4 L1029.5,221.9 L1030.5,219.3 L1031.5,216.5 L1032.5,213.6 L1033.5,210.5 L1034.5,207.3 L1035.5,203.9 L1036.5,200.4 L1037.5,196.8 L1038.5,193.1 L1039.5,189.4 L1040.5,185.5 L1041.5,181.6 L1042.5,177.7 L1043.5,173.7 L1044.5,169.9 L1045.5,166.1 L1046.5,162.6 L1047.5,159.2 L1048.5,156.0 L1049.5,153.2 L1050.5,150.8 L1051.5,148.8 L1052.5,147.3 L1053.5,146.3 L1054.5,145.9 L1055.5,145.9 L1056.5,146.5 L1057.5,147.7 L1058.5,149.3 L1059.5,151.3 L1060.5,153.7 L1061.5,156.4 L1062.5,159.4 L1063.5,162.7 L1064.5,166.0 L1065.5,169.5 L1066.5,173.0 L1067.5,176.6 L1068.5,180.1 L1069.5,183.6 L1070.5,187.0 L1071.5,190.4 L1072.5,193.6 L1073.5,196.7 L1074.5,199.7 L1075.5,202.6 L1076.5,205.4 L1077.5,208.0 L1078.5,210.5 L1079.5,212.8 L1080.5,215.0 L1081.5,217.1 L1082.5,219.1 L1083.5,220.9 L1084.5,222.6 L1085.5,224.2 L1086.5,225.7 L1087.5,227.1 L1088.5,228.3 L1089.5,229.5 L1090.5,230.6 L1091.5,231.7 L1092.5,232.6 L1093.5,233.5 L1094.5,234.3 L1095.5,235.1 L1096.5,235.8 L1097.5,236.4 L1098.5,237.0 L1099.5,237.6 L1100.5,238.1 L1101.5,238.6 L1102.5,239.0 L1103.5,239.4 L1104.5,239.8 L1105.5,240.2 L1106.5,240.5 L1107.5,240.8 L1108.5,241.1 L1109.5,241.4 L1110.5,241.7 L1111.5,242.0 L1112.5,242.2 L1113.5,242.4 L1114.5,242.6 L1115.5,242.8 L1116.5,243.0 L1117.5,243.2 L1118.5,243.4 L1119.5,243.6 L1120.5,243.7 L1121.5,243.9 L1122.5,244.1 L1123.5,244.2 L1124.5,244.3 L1125.5,244.5 L1126.5,244.6 L1127.5,244.7 L1128.5,244.8 L1129.5,245.0 L1130.5,245.1 L1131.5,245.2 L1132.5,245.3 L1133.5,245.4 L1134.5,245.5 L1135.5,245.6 L1136.5,245.7 L1137.5,245.8 L1138.5,245.8 L1139.5,245.9 L1140.5,246.0 L1141.5,246.1 L1142.5,246.2 L1143.5,246.2 L1144.5,246.3 L1145.5,246.4 L1146.5,246.4 L1147.5,246.5 L1148.5,246.6 L1149.5,246.6 L1150.5,246.7 L1151.5,246.7 L1152.5,246.8 L1153.5,246.8 L1154.5,246.9 L1155.5,246.9 L1156.5,247.0 L1157.5,247.0 L1158.5,247.1 L1159.5,247.1 L1160.5,247.2 L1161.5,247.2 L1162.5,247.3 L1163.5,247.3 L1164.5,247.3 L1165.5,247.4 L1166.5,247.4 L1167.5,247.5 L1168.5,247.5 L1169.5,247.5 L1170.5,247.6 L1171.5,247.6 L1172.5,247.6 L1173.5,247.7 L1174.5,247.7 L1175.5,247.7 L1176.5,247.8 L1177.5,247.8 L1178.5,247.8 L1179.5,247.8 L1180.5,247.9 L1181.5,247.9 L1182.5,247.9 L1183.5,247.9 L1184.5,248.0 L1185.5,248.0 L1186.5,248.0 L1187.5,248.0 L1188.5,248.1 L1189.5,248.1 L1190.5,248.1 L1191.5,248.1 L1192.5,248.1 L1193.5,248.2 L1194.5,248.2 L1195.5,248.2 L1196.5,248.2 L1197.5,248.2 L1198.5,248.3 L1199.5,248.3 L1200.5,248.3 L1201.5,248.3 L1202.5,248.3 L1203.5,248.3 L1204.5,248.4 L1205.5,248.4 L1206.5,248.4 L1207.5,248.4 L1208.5,248.4 L1209.5,248.4 L1210.5,248.5 L1211.5,248.5 L1212.5,248.5 L1213.5,248.5 L1214.5,248.5 L1215.5,248.5 L1216.5,248.5 L1217.5,248.6 L1218.5,248.6 L1219.5,248.6 L1220.5,248.6 L1221.5,248.6 L1222.5,248.6 L1223.5,248.6 L1224.5,248.6 L1225.5,248.6 L1226.5,248.7 L1227.5,248.7 L1228.5,248.7 L1229.5,248.7 L1230.5,248.7 L1231.5,248.7" fill="none" stroke="#ff8000" stroke-width="2.80" stroke-linejoin="round" stroke-linecap="round" />
<path d="M902.5,265.7 L903.5,265.7 L904.5,265.7 L905.5,265.7 L906.5,265.7 L907.5,265.7 L908.5,265.7 L909.5,265.7 L910.5,265.7 L911.5,265.7 L912.5,265.7 L913.5,265.7 L914.5,265.7 L915.5,265.7 L916.5,265.7 L917.5,265.7 L918.5,265.7 L919.5,265.7 L920.5,265.6 L921.5,265.6 L922.5,265.6 L923.5,265.6 L924.5,265.6 L925.5,265.6 L926.5,265.6 L927.5,265.6 L928.5,265.6 L929.5,265.6 L930.5,265.6 L931.5,265.6 L932.5,265.6 L933.5,265.6 L934.5,265.6 L935.5,265.6 L936.5,265.6 L937.5,265.5 L938.5,265.5 L939.5,265.5 L940.5,265.5 L941.5,265.5 L942.5,265.5 L943.5,265.5 L944.5,265.5 L945.5,265.5 L946.5,265.5 L947.5,265.5 L948.5,265.5 L949.5,265.4 L950.5,265.4 L951.5,265.4 L952.5,265.4 L953.5,265.4 L954.5,265.4 L955.5,265.4 L956.5,265.4 L957.5,265.3 L958.5,265.3 L959.5,265.3 L960.5,265.3 L961.5,265.3 L962.5,265.3 L963.5,265.2 L964.5,265.2 L965.5,265.2 L966.5,265.2 L967.5,265.2 L968.5,265.1 L969.5,265.1 L970.5,265.1 L971.5,265.1 L972.5,265.0 L973.5,265.0 L974.5,265.0 L975.5,265.0 L976.5,264.9 L977.5,264.9 L978.5,264.9 L979.5,264.8 L980.5,264.8 L981.5,264.7 L982.5,264.7 L983.5,264.6 L984.5,264.6 L985.5,264.6 L986.5,264.5 L987.5,264.5 L988.5,264.4 L989.5,264.3 L990.5,264.3 L991.5,264.2 L992.5,264.1 L993.5,264.1 L994.5,264.0 L995.5,263.9 L996.5,263.8 L997.5,263.8 L998.5,263.7 L999.5,263.6 L1000.5,263.5 L1001.5,263.4 L1002.5,263.3 L1003.5,263.2 L1004.5,263.1 L1005.5,262.9 L1006.5,262.8 L1007.5,262.7 L1008.5,262.5 L1009.5,262.4 L1010.5,262.3 L1011.5,262.1 L1012.5,262.0 L1013.5,261.8 L1014.5,261.6 L1015.5,261.4 L1016.5,261.3 L1017.5,261.1 L1018.5,260.9 L1019.5,260.7 L1020.5,260.5 L1021.5,260.2 L1022.5,260.0 L1023.5,259.8 L1024.5,259.6 L1025.5,259.3 L1026.5,259.1 L1027.5,258.8 L1028.5,258.5 L1029.5,258.3 L1030.5,258.0 L1031.5,257.7 L1032.5,257.4 L1033.5,257.2 L1034.5,256.9 L1035.5,256.6 L1036.5,256.3 L1037.5,256.0 L1038.5,255.7 L1039.5,255.3 L1040.5,255.0 L1041.5,254.7 L1042.5,254.4 L1043.5,254.1 L1044.5,253.7 L1045.5,253.4 L1046.5,253.1 L1047.5,252.7 L1048.5,252.4 L1049.5,252.1 L1050.5,251.7 L1051.5,251.4 L1052.5,251.1 L1053.5,250.7 L1054.5,250.4 L1055.5,250.0 L1056.5,249.7 L1057.5,249.3 L1058.5,249.0 L1059.5,248.6 L1060.5,248.3 L1061.5,247.9 L1062.5,247.6 L1063.5,247.2 L1064.5,246.8 L1065.5,246.5 L1066.5,246.1 L1067.5,245.7 L1068.5,245.3 L1069.5,244.9 L1070.5,244.5 L1071.5,244.1 L1072.5,243.7 L1073.5,243.3 L1074.5,242.9 L1075.5,242.5 L1076.5,242.0 L1077.5,241.6 L1078.5,241.2 L1079.5,240.7 L1080.5,240.3 L1081.5,239.8 L1082.5,239.3 L1083.5,238.9 L1084.5,238.4 L1085.5,238.0 L1086.5,237.5 L1087.5,237.1 L1088.5,236.7 L1089.5,236.3 L1090.5,235.9 L1091.5,235.5 L1092.5,235.2 L1093.5,234.9 L1094.5,234.6 L1095.5,234.3 L1096.5,234.2 L1097.5,234.0 L1098.5,233.9 L1099.5,233.8 L1100.5,233.8 L1101.5,233.8 L1102.5,233.9 L1103.5,234.0 L1104.5,234.2 L1105.5,234.4 L1106.5,234.6 L1107.5,234.9 L1108.5,235.2 L1109.5,235.5 L1110.5,235.8 L1111.5,236.2 L1112.5,236.5 L1113.5,236.9 L1114.5,237.3 L1115.5,237.7 L1116.5,238.0 L1117.5,238.4 L1118.5,238.8 L1119.5,239.2 L1120.5,239.5 L1121.5,239.9 L1122.5,240.2 L1123.5,240.6 L1124.5,240.9 L1125.5,241.2 L1126.5,241.5 L1127.5,241.8 L1128.5,242.1 L1129.5,242.4 L1130.5,242.7 L1131.5,242.9 L1132.5,243.2 L1133.5,243.4 L1134.5,243.6 L1135.5,243.9 L1136.5,244.1 L1137.5,244.3 L1138.5,244.5 L1139.5,244.6 L1140.5,244.8 L1141.5,245.0 L1142.5,245.1 L1143.5,245.3 L1144.5,245.4 L1145.5,245.6 L1146.5,245.7 L1147.5,245.8 L1148.5,245.9 L1149.5,246.1 L1150.5,246.2 L1151.5,246.3 L1152.5,246.4 L1153.5,246.5 L1154.5,246.6 L1155.5,246.7 L1156.5,246.8 L1157.5,246.8 L1158.5,246.9 L1159.5,247.0 L1160.5,247.1 L1161.5,247.1 L1162.5,247.2 L1163.5,247.3 L1164.5,247.3 L1165.5,247.4 L1166.5,247.4 L1167.5,247.5 L1168.5,247.6 L1169.5,247.6 L1170.5,247.7 L1171.5,247.7 L1172.5,247.7 L1173.5,247.8 L1174.5,247.8 L1175.5,247.9 L1176.5,247.9 L1177.5,248.0 L1178.5,248.0 L1179.5,248.0 L1180.5,248.1 L1181.5,248.1 L1182.5,248.1 L1183.5,248.2 L1184.5,248.2 L1185.5,248.2 L1186.5,248.3 L1187.5,248.3 L1188.5,248.3 L1189.5,248.3 L1190.5,248.4 L1191.5,248.4 L1192.5,248.4 L1193.5,248.4 L1194.5,248.5 L1195.5,248.5 L1196.5,248.5 L1197.5,248.5 L1198.5,248.5 L1199.5,248.6 L1200.5,248.6 L1201.5,248.6 L1202.5,248.6 L1203.5,248.6 L1204.5,248.6 L1205.5,248.7 L1206.5,248.7 L1207.5,248.7 L1208.5,248.7 L1209.5,248.7 L1210.5,248.7 L1211.5,248.8 L1212.5,248.8 L1213.5,248.8 L1214.5,248.8 L1215.5,248.8 L1216.5,248.8 L1217.5,248.8 L1218.5,248.8 L1219.5,248.9 L1220.5,248.9 L1221.5,248.9 L1222.5,248.9 L1223.5,248.9 L1224.5,248.9 L1225.5,248.9 L1226.5,248.9 L1227.5,248.9 L1228.5,249.0 L1229.5,249.0 L1230.5,249.0 L1231.5,249.0" fill="none" stroke="#0000ff" stroke-width="2.80" stroke-linejoin="round" stroke-linecap="round" />
</g>
<rect x="916.30" y="39.60" width="40.10" height="24.80" fill="#000"/>
<rect x="912.30" y="35.60" width="40.10" height="24.80" fill="#fff" stroke="#555" stroke-width="1"/>
<text x="932.35" y="54.00" font-size="16.50" text-anchor="middle" >N 1s</text>
<text x="1071.50" y="84.20" font-size="14.00" text-anchor="start" >Pyridinic-N (398.5eV)</text>
<text x="1088.40" y="125.10" font-size="14.00" text-anchor="start" >Graphitic-N (399.3eV)</text>
<text x="928.70" y="133.30" font-size="14.00" text-anchor="start" >Pyrrolic-N</text>
<text x="928.70" y="152.40" font-size="14.00" text-anchor="start" >(400.8eV)</text>
<text x="1098.50" y="200.60" font-size="14.00" text-anchor="start" >Oxidized-N (403.5eV)</text>
<line x1="1068.50" y1="85.50" x2="1032.18" y2="113.07" stroke="#000" stroke-width="1.40"/>
<path d="M1027.00,117.00 L1031.40,110.39 L1034.55,114.54 Z" fill="#000"/>
<line x1="1097.20" y1="129.20" x2="1060.85" y2="157.23" stroke="#000" stroke-width="1.40"/>
<path d="M1055.70,161.20 L1060.05,154.56 L1063.23,158.68 Z" fill="#000"/>
<line x1="971.50" y1="153.30" x2="1006.81" y2="179.89" stroke="#000" stroke-width="1.40"/>
<path d="M1012.00,183.80 L1004.44,181.37 L1007.57,177.21 Z" fill="#000"/>
<line x1="1155.30" y1="208.80" x2="1118.17" y2="237.06" stroke="#000" stroke-width="1.40"/>
<path d="M1113.00,241.00 L1117.39,234.39 L1120.54,238.53 Z" fill="#000"/>
<g clip-path="url(#cpd)">
<path d="M61.8,591.5 L65.5,584.0 L69.2,601.7 L72.8,589.5 L76.5,598.8 L80.2,596.7 L83.9,599.4 L87.6,596.4 L91.2,599.9 L94.9,587.9 L98.6,606.3 L102.3,596.6 L106.0,586.1 L109.6,592.0 L113.3,590.1 L117.0,577.6 L120.7,589.5 L124.4,564.0 L128.0,583.3 L131.7,580.5 L135.4,580.4 L139.1,582.1 L142.8,581.0 L146.4,570.3 L150.1,576.1 L153.8,568.2 L157.5,566.7 L161.2,569.9 L164.8,574.6 L168.5,570.6 L172.2,560.0 L175.9,555.8 L179.6,551.0 L183.2,552.4 L186.9,552.2 L190.6,540.2 L194.3,537.8 L198.0,527.7 L201.6,527.6 L205.3,494.5 L209.0,484.5 L212.7,489.2 L216.4,486.4 L220.0,470.0 L223.7,467.9 L227.4,447.7 L231.1,439.5 L234.8,436.9 L238.4,443.2 L242.1,437.2 L245.8,422.2 L249.5,426.3 L253.2,417.4 L256.8,403.5 L260.5,410.1 L264.2,417.0 L267.9,409.9 L271.6,414.1 L275.2,408.5 L278.9,407.3 L282.6,416.2 L286.3,415.7 L290.0,423.5 L293.6,426.7 L297.3,442.8 L301.0,441.0 L304.7,462.6 L308.4,476.6 L312.0,474.6 L315.7,498.1 L319.4,508.6 L323.1,505.5 L326.8,500.7 L330.4,505.7 L334.1,521.0 L337.8,538.6 L341.5,535.5 L345.2,540.8 L348.8,538.4 L352.5,539.1 L356.2,549.1 L359.9,543.8 L363.6,552.2 L367.2,559.0 L370.9,558.7 L374.6,563.1 L378.3,558.8 L382.0,564.9 L385.6,563.8 L389.3,552.5" fill="none" stroke="#505050" stroke-width="2.80" stroke-linejoin="round" stroke-linecap="round" />
<path d="M61.8,592.3 L62.8,592.2 L63.8,592.1 L64.8,592.1 L65.8,592.0 L66.8,591.9 L67.8,591.9 L68.8,591.8 L69.8,591.7 L70.8,591.6 L71.8,591.6 L72.8,591.5 L73.8,591.4 L74.8,591.3 L75.8,591.2 L76.8,591.1 L77.8,591.1 L78.8,591.0 L79.8,590.9 L80.8,590.8 L81.8,590.7 L82.8,590.6 L83.8,590.5 L84.8,590.4 L85.8,590.3 L86.8,590.2 L87.8,590.1 L88.8,590.0 L89.8,589.9 L90.8,589.8 L91.8,589.7 L92.8,589.5 L93.8,589.4 L94.8,589.3 L95.8,589.2 L96.8,589.1 L97.8,588.9 L98.8,588.8 L99.8,588.7 L100.8,588.6 L101.8,588.4 L102.8,588.3 L103.8,588.1 L104.8,588.0 L105.8,587.8 L106.8,587.7 L107.8,587.5 L108.8,587.4 L109.8,587.2 L110.8,587.1 L111.8,586.9 L112.8,586.7 L113.8,586.6 L114.8,586.4 L115.8,586.2 L116.8,586.0 L117.8,585.9 L118.8,585.7 L119.8,585.5 L120.8,585.3 L121.8,585.1 L122.8,584.9 L123.8,584.7 L124.8,584.4 L125.8,584.2 L126.8,584.0 L127.8,583.8 L128.8,583.5 L129.8,583.3 L130.8,583.0 L131.8,582.8 L132.8,582.5 L133.8,582.2 L134.8,582.0 L135.8,581.7 L136.8,581.4 L137.8,581.1 L138.8,580.8 L139.8,580.5 L140.8,580.2 L141.8,579.8 L142.8,579.5 L143.8,579.1 L144.8,578.8 L145.8,578.4 L146.8,578.0 L147.8,577.6 L148.8,577.2 L149.8,576.8 L150.8,576.4 L151.8,575.9 L152.8,575.4 L153.8,575.0 L154.8,574.5 L155.8,574.0 L156.8,573.4 L157.8,572.9 L158.8,572.3 L159.8,571.8 L160.8,571.2 L161.8,570.5 L162.8,569.9 L163.8,569.3 L164.8,568.6 L165.8,567.9 L166.8,567.1 L167.8,566.4 L168.8,565.6 L169.8,564.8 L170.8,564.0 L171.8,563.2 L172.8,562.3 L173.8,561.4 L174.8,560.5 L175.8,559.5 L176.8,558.5 L177.8,557.5 L178.8,556.4 L179.8,555.3 L180.8,554.2 L181.8,553.1 L182.8,551.9 L183.8,550.6 L184.8,549.4 L185.8,548.1 L186.8,546.7 L187.8,545.4 L188.8,543.9 L189.8,542.5 L190.8,540.9 L191.8,539.4 L192.8,537.8 L193.8,536.1 L194.8,534.4 L195.8,532.7 L196.8,530.9 L197.8,529.1 L198.8,527.2 L199.8,525.3 L200.8,523.3 L201.8,521.3 L202.8,519.2 L203.8,517.1 L204.8,515.0 L205.8,512.8 L206.8,510.5 L207.8,508.3 L208.8,506.0 L209.8,503.6 L210.8,501.2 L211.8,498.8 L212.8,496.4 L213.8,493.9 L214.8,491.4 L215.8,488.8 L216.8,486.3 L217.8,483.7 L218.8,481.2 L219.8,478.6 L220.8,476.0 L221.8,473.5 L222.8,470.9 L223.8,468.4 L224.8,465.9 L225.8,463.4 L226.8,460.9 L227.8,458.5 L228.8,456.1 L229.8,453.8 L230.8,451.6 L231.8,449.4 L232.8,447.3 L233.8,445.2 L234.8,443.3 L235.8,441.4 L236.8,439.6 L237.8,437.8 L238.8,436.2 L239.8,434.6 L240.8,433.2 L241.8,431.8 L242.8,430.5 L243.8,429.4 L244.8,428.2 L245.8,427.2 L246.8,426.3 L247.8,425.4 L248.8,424.6 L249.8,423.8 L250.8,423.1 L251.8,422.4 L252.8,421.8 L253.8,421.2 L254.8,420.7 L255.8,420.2 L256.8,419.7 L257.8,419.2 L258.8,418.7 L259.8,418.3 L260.8,417.8 L261.8,417.4 L262.8,417.0 L263.8,416.5 L264.8,416.1 L265.8,415.7 L266.8,415.2 L267.8,414.8 L268.8,414.4 L269.8,414.1 L270.8,413.7 L271.8,413.4 L272.8,413.1 L273.8,412.9 L274.8,412.7 L275.8,412.6 L276.8,412.6 L277.8,412.7 L278.8,412.8 L279.8,413.0 L280.8,413.4 L281.8,413.8 L282.8,414.4 L283.8,415.1 L284.8,415.9 L285.8,416.9 L286.8,418.0 L287.8,419.2 L288.8,420.6 L289.8,422.1 L290.8,423.7 L291.8,425.4 L292.8,427.3 L293.8,429.3 L294.8,431.4 L295.8,433.6 L296.8,435.8 L297.8,438.2 L298.8,440.6 L299.8,443.1 L300.8,445.7 L301.8,448.3 L302.8,450.9 L303.8,453.6 L304.8,456.2 L305.8,458.9 L306.8,461.6 L307.8,464.3 L308.8,467.0 L309.8,469.6 L310.8,472.3 L311.8,474.9 L312.8,477.5 L313.8,480.0 L314.8,482.5 L315.8,485.0 L316.8,487.4 L317.8,489.8 L318.8,492.1 L319.8,494.4 L320.8,496.6 L321.8,498.8 L322.8,500.9 L323.8,503.0 L324.8,505.0 L325.8,506.9 L326.8,508.8 L327.8,510.7 L328.8,512.4 L329.8,514.2 L330.8,515.9 L331.8,517.5 L332.8,519.1 L333.8,520.6 L334.8,522.1 L335.8,523.5 L336.8,524.9 L337.8,526.2 L338.8,527.5 L339.8,528.8 L340.8,530.0 L341.8,531.2 L342.8,532.3 L343.8,533.4 L344.8,534.5 L345.8,535.5 L346.8,536.5 L347.8,537.4 L348.8,538.3 L349.8,539.2 L350.8,540.1 L351.8,540.9 L352.8,541.7 L353.8,542.4 L354.8,543.2 L355.8,543.9 L356.8,544.5 L357.8,545.2 L358.8,545.8 L359.8,546.4 L360.8,547.0 L361.8,547.6 L362.8,548.1 L363.8,548.6 L364.8,549.1 L365.8,549.6 L366.8,550.1 L367.8,550.5 L368.8,551.0 L369.8,551.4 L370.8,551.8 L371.8,552.2 L372.8,552.6 L373.8,552.9 L374.8,553.3 L375.8,553.6 L376.8,554.0 L377.8,554.3 L378.8,554.6 L379.8,554.9 L380.8,555.2 L381.8,555.5 L382.8,555.8 L383.8,556.1 L384.8,556.3 L385.8,556.6 L386.8,556.9 L387.8,557.1 L388.8,557.4 L389.8,557.6 L390.8,557.8 L391.8,558.1" fill="none" stroke="#ff0000" stroke-width="3.00" stroke-linejoin="round" stroke-linecap="round" />
<path d="M61.8,598.6 L62.8,598.6 L63.8,598.6 L64.8,598.6 L65.8,598.6 L66.8,598.6 L67.8,598.6 L68.8,598.6 L69.8,598.6 L70.8,598.6 L71.8,598.6 L72.8,598.6 L73.8,598.6 L74.8,598.6 L75.8,598.6 L76.8,598.6 L77.8,598.6 L78.8,598.5 L79.8,598.5 L80.8,598.5 L81.8,598.5 L82.8,598.5 L83.8,598.5 L84.8,598.5 L85.8,598.5 L86.8,598.5 L87.8,598.5 L88.8,598.5 L89.8,598.5 L90.8,598.5 L91.8,598.4 L92.8,598.4 L93.8,598.4 L94.8,598.4 L95.8,598.4 L96.8,598.4 L97.8,598.4 L98.8,598.4 L99.8,598.4 L100.8,598.4 L101.8,598.3 L102.8,598.3 L103.8,598.3 L104.8,598.3 L105.8,598.3 L106.8,598.3 L107.8,598.3 L108.8,598.3 L109.8,598.2 L110.8,598.2 L111.8,598.2 L112.8,598.2 L113.8,598.2 L114.8,598.2 L115.8,598.2 L116.8,598.1 L117.8,598.1 L118.8,598.1 L119.8,598.1 L120.8,598.1 L121.8,598.1 L122.8,598.1 L123.8,598.0 L124.8,598.0 L125.8,598.0 L126.8,598.0 L127.8,598.0 L128.8,598.0 L129.8,597.9 L130.8,597.9 L131.8,597.9 L132.8,597.9 L133.8,597.9 L134.8,597.9 L135.8,597.9 L136.8,597.8 L137.8,597.8 L138.8,597.8 L139.8,597.8 L140.8,597.8 L141.8,597.8 L142.8,597.7 L143.8,597.7 L144.8,597.7 L145.8,597.7 L146.8,597.7 L147.8,597.6 L148.8,597.6 L149.8,597.6 L150.8,597.6 L151.8,597.5 L152.8,597.5 L153.8,597.5 L154.8,597.5 L155.8,597.4 L156.8,597.4 L157.8,597.4 L158.8,597.4 L159.8,597.3 L160.8,597.3 L161.8,597.3 L162.8,597.2 L163.8,597.2 L164.8,597.2 L165.8,597.1 L166.8,597.1 L167.8,597.1 L168.8,597.0 L169.8,597.0 L170.8,596.9 L171.8,596.9 L172.8,596.9 L173.8,596.8 L174.8,596.8 L175.8,596.7 L176.8,596.7 L177.8,596.7 L178.8,596.6 L179.8,596.6 L180.8,596.5 L181.8,596.5 L182.8,596.4 L183.8,596.4 L184.8,596.3 L185.8,596.3 L186.8,596.2 L187.8,596.2 L188.8,596.1 L189.8,596.0 L190.8,595.9 L191.8,595.9 L192.8,595.8 L193.8,595.7 L194.8,595.6 L195.8,595.5 L196.8,595.4 L197.8,595.3 L198.8,595.2 L199.8,595.1 L200.8,595.0 L201.8,594.9 L202.8,594.8 L203.8,594.6 L204.8,594.5 L205.8,594.4 L206.8,594.3 L207.8,594.1 L208.8,594.0 L209.8,593.9 L210.8,593.7 L211.8,593.6 L212.8,593.5 L213.8,593.3 L214.8,593.2 L215.8,593.0 L216.8,592.9 L217.8,592.7 L218.8,592.6 L219.8,592.4 L220.8,592.3 L221.8,592.1 L222.8,592.0 L223.8,591.8 L224.8,591.7 L225.8,591.5 L226.8,591.4 L227.8,591.2 L228.8,591.1 L229.8,590.9 L230.8,590.8 L231.8,590.6 L232.8,590.5 L233.8,590.3 L234.8,590.1 L235.8,589.9 L236.8,589.8 L237.8,589.6 L238.8,589.4 L239.8,589.2 L240.8,589.0 L241.8,588.8 L242.8,588.6 L243.8,588.4 L244.8,588.2 L245.8,588.0 L246.8,587.8 L247.8,587.6 L248.8,587.4 L249.8,587.2 L250.8,586.9 L251.8,586.7 L252.8,586.5 L253.8,586.3 L254.8,586.1 L255.8,585.9 L256.8,585.6 L257.8,585.4 L258.8,585.2 L259.8,585.0 L260.8,584.8 L261.8,584.5 L262.8,584.3 L263.8,584.1 L264.8,583.9 L265.8,583.7 L266.8,583.5 L267.8,583.3 L268.8,583.0 L269.8,582.8 L270.8,582.6 L271.8,582.4 L272.8,582.2 L273.8,582.0 L274.8,581.8 L275.8,581.7 L276.8,581.5 L277.8,581.3 L278.8,581.1 L279.8,580.9 L280.8,580.8 L281.8,580.6 L282.8,580.4 L283.8,580.2 L284.8,580.1 L285.8,579.9 L286.8,579.7 L287.8,579.6 L288.8,579.4 L289.8,579.2 L290.8,579.0 L291.8,578.9 L292.8,578.7 L293.8,578.5 L294.8,578.4 L295.8,578.2 L296.8,578.1 L297.8,577.9 L298.8,577.7 L299.8,577.6 L300.8,577.4 L301.8,577.3 L302.8,577.1 L303.8,577.0 L304.8,576.9 L305.8,576.7 L306.8,576.6 L307.8,576.5 L308.8,576.3 L309.8,576.2 L310.8,576.1 L311.8,576.0 L312.8,575.9 L313.8,575.8 L314.8,575.7 L315.8,575.6 L316.8,575.5 L317.8,575.4 L318.8,575.3 L319.8,575.2 L320.8,575.1 L321.8,575.0 L322.8,574.9 L323.8,574.8 L324.8,574.7 L325.8,574.6 L326.8,574.6 L327.8,574.5 L328.8,574.4 L329.8,574.3 L330.8,574.2 L331.8,574.2 L332.8,574.1 L333.8,574.0 L334.8,573.9 L335.8,573.9 L336.8,573.8 L337.8,573.7 L338.8,573.7 L339.8,573.6 L340.8,573.6 L341.8,573.5 L342.8,573.5 L343.8,573.4 L344.8,573.4 L345.8,573.3 L346.8,573.3 L347.8,573.3 L348.8,573.3 L349.8,573.2 L350.8,573.2 L351.8,573.2 L352.8,573.1 L353.8,573.1 L354.8,573.1 L355.8,573.1 L356.8,573.0 L357.8,573.0 L358.8,573.0 L359.8,572.9 L360.8,572.9 L361.8,572.9 L362.8,572.9 L363.8,572.9 L364.8,572.8 L365.8,572.8 L366.8,572.8 L367.8,572.8 L368.8,572.7 L369.8,572.7 L370.8,572.7 L371.8,572.7 L372.8,572.7 L373.8,572.7 L374.8,572.6 L375.8,572.6 L376.8,572.6 L377.8,572.6 L378.8,572.6 L379.8,572.6 L380.8,572.6 L381.8,572.5 L382.8,572.5 L383.8,572.5 L384.8,572.5 L385.8,572.5 L386.8,572.5 L387.8,572.5 L388.8,572.5 L389.8,572.5 L390.8,572.5 L391.8,572.5" fill="none" stroke="#00e5ff" stroke-width="2.60" stroke-linejoin="round" stroke-linecap="round" />
<path d="M61.8,596.2 L62.8,596.2 L63.8,596.2 L64.8,596.1 L65.8,596.1 L66.8,596.1 L67.8,596.1 L68.8,596.0 L69.8,596.0 L70.8,596.0 L71.8,596.0 L72.8,595.9 L73.8,595.9 L74.8,595.9 L75.8,595.9 L76.8,595.8 L77.8,595.8 L78.8,595.8 L79.8,595.7 L80.8,595.7 L81.8,595.7 L82.8,595.6 L83.8,595.6 L84.8,595.6 L85.8,595.5 L86.8,595.5 L87.8,595.4 L88.8,595.4 L89.8,595.4 L90.8,595.3 L91.8,595.3 L92.8,595.2 L93.8,595.2 L94.8,595.2 L95.8,595.1 L96.8,595.1 L97.8,595.0 L98.8,595.0 L99.8,594.9 L100.8,594.9 L101.8,594.8 L102.8,594.8 L103.8,594.7 L104.8,594.7 L105.8,594.6 L106.8,594.6 L107.8,594.5 L108.8,594.5 L109.8,594.4 L110.8,594.4 L111.8,594.3 L112.8,594.3 L113.8,594.2 L114.8,594.1 L115.8,594.1 L116.8,594.0 L117.8,594.0 L118.8,593.9 L119.8,593.8 L120.8,593.8 L121.8,593.7 L122.8,593.6 L123.8,593.6 L124.8,593.5 L125.8,593.4 L126.8,593.4 L127.8,593.3 L128.8,593.2 L129.8,593.1 L130.8,593.1 L131.8,593.0 L132.8,592.9 L133.8,592.8 L134.8,592.7 L135.8,592.7 L136.8,592.6 L137.8,592.5 L138.8,592.4 L139.8,592.3 L140.8,592.2 L141.8,592.1 L142.8,592.1 L143.8,592.0 L144.8,591.9 L145.8,591.8 L146.8,591.7 L147.8,591.6 L148.8,591.5 L149.8,591.3 L150.8,591.2 L151.8,591.1 L152.8,591.0 L153.8,590.9 L154.8,590.8 L155.8,590.6 L156.8,590.5 L157.8,590.4 L158.8,590.3 L159.8,590.1 L160.8,590.0 L161.8,589.8 L162.8,589.7 L163.8,589.5 L164.8,589.4 L165.8,589.2 L166.8,589.1 L167.8,588.9 L168.8,588.7 L169.8,588.6 L170.8,588.4 L171.8,588.2 L172.8,588.0 L173.8,587.8 L174.8,587.6 L175.8,587.4 L176.8,587.2 L177.8,587.0 L178.8,586.8 L179.8,586.5 L180.8,586.3 L181.8,586.1 L182.8,585.8 L183.8,585.6 L184.8,585.3 L185.8,585.0 L186.8,584.8 L187.8,584.5 L188.8,584.2 L189.8,583.8 L190.8,583.5 L191.8,583.2 L192.8,582.8 L193.8,582.4 L194.8,582.0 L195.8,581.6 L196.8,581.2 L197.8,580.8 L198.8,580.3 L199.8,579.9 L200.8,579.4 L201.8,578.9 L202.8,578.4 L203.8,577.8 L204.8,577.3 L205.8,576.7 L206.8,576.1 L207.8,575.5 L208.8,574.9 L209.8,574.2 L210.8,573.5 L211.8,572.8 L212.8,572.1 L213.8,571.4 L214.8,570.6 L215.8,569.8 L216.8,569.0 L217.8,568.1 L218.8,567.3 L219.8,566.3 L220.8,565.4 L221.8,564.4 L222.8,563.4 L223.8,562.4 L224.8,561.4 L225.8,560.3 L226.8,559.2 L227.8,558.0 L228.8,556.8 L229.8,555.6 L230.8,554.3 L231.8,553.0 L232.8,551.7 L233.8,550.3 L234.8,548.9 L235.8,547.4 L236.8,545.9 L237.8,544.3 L238.8,542.7 L239.8,541.1 L240.8,539.4 L241.8,537.7 L242.8,536.0 L243.8,534.1 L244.8,532.3 L245.8,530.4 L246.8,528.5 L247.8,526.5 L248.8,524.6 L249.8,522.5 L250.8,520.5 L251.8,518.4 L252.8,516.2 L253.8,514.1 L254.8,511.9 L255.8,509.7 L256.8,507.5 L257.8,505.3 L258.8,503.1 L259.8,500.8 L260.8,498.6 L261.8,496.3 L262.8,494.1 L263.8,491.9 L264.8,489.7 L265.8,487.6 L266.8,485.5 L267.8,483.4 L268.8,481.4 L269.8,479.4 L270.8,477.5 L271.8,475.7 L272.8,474.0 L273.8,472.3 L274.8,470.8 L275.8,469.4 L276.8,468.1 L277.8,466.9 L278.8,465.9 L279.8,465.0 L280.8,464.2 L281.8,463.6 L282.8,463.1 L283.8,462.8 L284.8,462.6 L285.8,462.6 L286.8,462.7 L287.8,463.0 L288.8,463.4 L289.8,464.0 L290.8,464.7 L291.8,465.5 L292.8,466.4 L293.8,467.5 L294.8,468.7 L295.8,469.9 L296.8,471.3 L297.8,472.7 L298.8,474.3 L299.8,475.9 L300.8,477.5 L301.8,479.3 L302.8,481.0 L303.8,482.8 L304.8,484.6 L305.8,486.5 L306.8,488.4 L307.8,490.3 L308.8,492.2 L309.8,494.1 L310.8,496.0 L311.8,497.8 L312.8,499.7 L313.8,501.6 L314.8,503.5 L315.8,505.3 L316.8,507.1 L317.8,508.9 L318.8,510.6 L319.8,512.3 L320.8,514.0 L321.8,515.7 L322.8,517.3 L323.8,518.9 L324.8,520.4 L325.8,522.0 L326.8,523.4 L327.8,524.9 L328.8,526.3 L329.8,527.6 L330.8,529.0 L331.8,530.3 L332.8,531.5 L333.8,532.7 L334.8,533.9 L335.8,535.1 L336.8,536.2 L337.8,537.3 L338.8,538.3 L339.8,539.3 L340.8,540.3 L341.8,541.3 L342.8,542.2 L343.8,543.1 L344.8,544.0 L345.8,544.8 L346.8,545.6 L347.8,546.4 L348.8,547.2 L349.8,547.9 L350.8,548.6 L351.8,549.3 L352.8,549.9 L353.8,550.5 L354.8,551.1 L355.8,551.7 L356.8,552.3 L357.8,552.8 L358.8,553.3 L359.8,553.8 L360.8,554.3 L361.8,554.8 L362.8,555.2 L363.8,555.6 L364.8,556.0 L365.8,556.4 L366.8,556.8 L367.8,557.2 L368.8,557.5 L369.8,557.9 L370.8,558.2 L371.8,558.5 L372.8,558.8 L373.8,559.1 L374.8,559.4 L375.8,559.6 L376.8,559.9 L377.8,560.2 L378.8,560.4 L379.8,560.6 L380.8,560.9 L381.8,561.1 L382.8,561.3 L383.8,561.5 L384.8,561.7 L385.8,561.9 L386.8,562.1 L387.8,562.3 L388.8,562.5 L389.8,562.7 L390.8,562.8 L391.8,563.0" fill="none" stroke="#009600" stroke-width="2.80" stroke-linejoin="round" stroke-linecap="round" />
<path d="M61.8,594.4 L62.8,594.4 L63.8,594.4 L64.8,594.3 L65.8,594.3 L66.8,594.2 L67.8,594.2 L68.8,594.1 L69.8,594.1 L70.8,594.0 L71.8,593.9 L72.8,593.9 L73.8,593.8 L74.8,593.8 L75.8,593.7 L76.8,593.6 L77.8,593.6 L78.8,593.5 L79.8,593.5 L80.8,593.4 L81.8,593.3 L82.8,593.3 L83.8,593.2 L84.8,593.1 L85.8,593.0 L86.8,593.0 L87.8,592.9 L88.8,592.8 L89.8,592.7 L90.8,592.6 L91.8,592.6 L92.8,592.5 L93.8,592.4 L94.8,592.3 L95.8,592.2 L96.8,592.1 L97.8,592.0 L98.8,591.9 L99.8,591.8 L100.8,591.7 L101.8,591.6 L102.8,591.5 L103.8,591.4 L104.8,591.3 L105.8,591.2 L106.8,591.1 L107.8,591.0 L108.8,590.9 L109.8,590.8 L110.8,590.6 L111.8,590.5 L112.8,590.4 L113.8,590.3 L114.8,590.1 L115.8,590.0 L116.8,589.9 L117.8,589.7 L118.8,589.6 L119.8,589.4 L120.8,589.3 L121.8,589.1 L122.8,589.0 L123.8,588.8 L124.8,588.7 L125.8,588.5 L126.8,588.3 L127.8,588.1 L128.8,588.0 L129.8,587.8 L130.8,587.6 L131.8,587.4 L132.8,587.2 L133.8,587.0 L134.8,586.8 L135.8,586.6 L136.8,586.4 L137.8,586.2 L138.8,585.9 L139.8,585.7 L140.8,585.5 L141.8,585.2 L142.8,585.0 L143.8,584.7 L144.8,584.4 L145.8,584.1 L146.8,583.8 L147.8,583.6 L148.8,583.2 L149.8,582.9 L150.8,582.6 L151.8,582.3 L152.8,581.9 L153.8,581.6 L154.8,581.2 L155.8,580.8 L156.8,580.4 L157.8,580.0 L158.8,579.6 L159.8,579.2 L160.8,578.7 L161.8,578.3 L162.8,577.8 L163.8,577.3 L164.8,576.8 L165.8,576.3 L166.8,575.7 L167.8,575.2 L168.8,574.6 L169.8,574.0 L170.8,573.4 L171.8,572.8 L172.8,572.1 L173.8,571.4 L174.8,570.7 L175.8,570.0 L176.8,569.2 L177.8,568.5 L178.8,567.7 L179.8,566.9 L180.8,566.0 L181.8,565.1 L182.8,564.2 L183.8,563.3 L184.8,562.4 L185.8,561.4 L186.8,560.4 L187.8,559.3 L188.8,558.2 L189.8,557.1 L190.8,555.9 L191.8,554.7 L192.8,553.5 L193.8,552.3 L194.8,551.0 L195.8,549.6 L196.8,548.2 L197.8,546.8 L198.8,545.4 L199.8,543.9 L200.8,542.4 L201.8,540.8 L202.8,539.2 L203.8,537.6 L204.8,535.9 L205.8,534.3 L206.8,532.5 L207.8,530.8 L208.8,529.0 L209.8,527.2 L210.8,525.4 L211.8,523.5 L212.8,521.6 L213.8,519.7 L214.8,517.8 L215.8,515.9 L216.8,514.0 L217.8,512.1 L218.8,510.2 L219.8,508.3 L220.8,506.4 L221.8,504.6 L222.8,502.7 L223.8,500.9 L224.8,499.2 L225.8,497.5 L226.8,495.8 L227.8,494.2 L228.8,492.7 L229.8,491.3 L230.8,490.0 L231.8,488.7 L232.8,487.6 L233.8,486.5 L234.8,485.6 L235.8,484.7 L236.8,484.0 L237.8,483.4 L238.8,483.0 L239.8,482.6 L240.8,482.4 L241.8,482.4 L242.8,482.4 L243.8,482.6 L244.8,482.9 L245.8,483.3 L246.8,483.9 L247.8,484.5 L248.8,485.3 L249.8,486.2 L250.8,487.1 L251.8,488.2 L252.8,489.3 L253.8,490.5 L254.8,491.8 L255.8,493.1 L256.8,494.5 L257.8,495.9 L258.8,497.3 L259.8,498.8 L260.8,500.3 L261.8,501.9 L262.8,503.4 L263.8,504.9 L264.8,506.5 L265.8,508.1 L266.8,509.6 L267.8,511.1 L268.8,512.7 L269.8,514.2 L270.8,515.7 L271.8,517.2 L272.8,518.6 L273.8,520.0 L274.8,521.4 L275.8,522.8 L276.8,524.2 L277.8,525.5 L278.8,526.8 L279.8,528.1 L280.8,529.3 L281.8,530.5 L282.8,531.7 L283.8,532.9 L284.8,534.0 L285.8,535.0 L286.8,536.1 L287.8,537.1 L288.8,538.1 L289.8,539.0 L290.8,539.9 L291.8,540.8 L292.8,541.7 L293.8,542.5 L294.8,543.3 L295.8,544.1 L296.8,544.8 L297.8,545.6 L298.8,546.3 L299.8,546.9 L300.8,547.6 L301.8,548.2 L302.8,548.8 L303.8,549.4 L304.8,550.0 L305.8,550.5 L306.8,551.1 L307.8,551.6 L308.8,552.1 L309.8,552.6 L310.8,553.0 L311.8,553.5 L312.8,553.9 L313.8,554.3 L314.8,554.7 L315.8,555.1 L316.8,555.5 L317.8,555.9 L318.8,556.2 L319.8,556.6 L320.8,556.9 L321.8,557.2 L322.8,557.5 L323.8,557.8 L324.8,558.1 L325.8,558.3 L326.8,558.6 L327.8,558.8 L328.8,559.1 L329.8,559.3 L330.8,559.5 L331.8,559.7 L332.8,560.0 L333.8,560.2 L334.8,560.4 L335.8,560.5 L336.8,560.7 L337.8,560.9 L338.8,561.1 L339.8,561.3 L340.8,561.4 L341.8,561.6 L342.8,561.8 L343.8,561.9 L344.8,562.1 L345.8,562.3 L346.8,562.4 L347.8,562.6 L348.8,562.7 L349.8,562.9 L350.8,563.0 L351.8,563.1 L352.8,563.3 L353.8,563.4 L354.8,563.5 L355.8,563.7 L356.8,563.8 L357.8,563.9 L358.8,564.0 L359.8,564.1 L360.8,564.2 L361.8,564.3 L362.8,564.4 L363.8,564.5 L364.8,564.6 L365.8,564.7 L366.8,564.8 L367.8,564.9 L368.8,565.0 L369.8,565.1 L370.8,565.2 L371.8,565.3 L372.8,565.4 L373.8,565.5 L374.8,565.5 L375.8,565.6 L376.8,565.7 L377.8,565.8 L378.8,565.9 L379.8,565.9 L380.8,566.0 L381.8,566.1 L382.8,566.2 L383.8,566.2 L384.8,566.3 L385.8,566.4 L386.8,566.5 L387.8,566.5 L388.8,566.6 L389.8,566.7 L390.8,566.7 L391.8,566.8" fill="none" stroke="#ff00ff" stroke-width="2.80" stroke-linejoin="round" stroke-linecap="round" />
</g>
<g clip-path="url(#cpd)">
<path d="M61.8,598.6 L62.8,598.6 L63.8,598.6 L64.8,598.6 L65.8,598.6 L66.8,598.6 L67.8,598.6 L68.8,598.6 L69.8,598.6 L70.8,598.6 L71.8,598.6 L72.8,598.6 L73.8,598.6 L74.8,598.6 L75.8,598.6 L76.8,598.6 L77.8,598.6 L78.8,598.5 L79.8,598.5 L80.8,598.5 L81.8,598.5 L82.8,598.5 L83.8,598.5 L84.8,598.5 L85.8,598.5 L86.8,598.5 L87.8,598.5 L88.8,598.5 L89.8,598.5 L90.8,598.5 L91.8,598.4 L92.8,598.4 L93.8,598.4 L94.8,598.4 L95.8,598.4 L96.8,598.4 L97.8,598.4 L98.8,598.4 L99.8,598.4 L100.8,598.4 L101.8,598.3 L102.8,598.3 L103.8,598.3 L104.8,598.3 L105.8,598.3 L106.8,598.3 L107.8,598.3 L108.8,598.3 L109.8,598.2 L110.8,598.2 L111.8,598.2 L112.8,598.2 L113.8,598.2 L114.8,598.2 L115.8,598.2 L116.8,598.1 L117.8,598.1 L118.8,598.1 L119.8,598.1 L120.8,598.1 L121.8,598.1 L122.8,598.1 L123.8,598.0 L124.8,598.0 L125.8,598.0 L126.8,598.0 L127.8,598.0 L128.8,598.0 L129.8,597.9 L130.8,597.9 L131.8,597.9 L132.8,597.9 L133.8,597.9 L134.8,597.9 L135.8,597.9 L136.8,597.8 L137.8,597.8 L138.8,597.8 L139.8,597.8 L140.8,597.8 L141.8,597.8 L142.8,597.7 L143.8,597.7 L144.8,597.7 L145.8,597.7 L146.8,597.7 L147.8,597.6 L148.8,597.6 L149.8,597.6 L150.8,597.6 L151.8,597.5 L152.8,597.5 L153.8,597.5 L154.8,597.5 L155.8,597.4 L156.8,597.4 L157.8,597.4 L158.8,597.4 L159.8,597.3 L160.8,597.3 L161.8,597.3 L162.8,597.2 L163.8,597.2 L164.8,597.2 L165.8,597.1 L166.8,597.1 L167.8,597.1 L168.8,597.0 L169.8,597.0 L170.8,596.9 L171.8,596.9 L172.8,596.9 L173.8,596.8 L174.8,596.8 L175.8,596.7 L176.8,596.7 L177.8,596.7 L178.8,596.6 L179.8,596.6 L180.8,596.5 L181.8,596.5 L182.8,596.4 L183.8,596.4 L184.8,596.3 L185.8,596.3 L186.8,596.2 L187.8,596.2 L188.8,596.1 L189.8,596.0 L190.8,595.9 L191.8,595.9 L192.8,595.8 L193.8,595.7 L194.8,595.6 L195.8,595.5 L196.8,595.4 L197.8,595.3 L198.8,595.2 L199.8,595.1 L200.8,595.0 L201.8,594.9 L202.8,594.8 L203.8,594.6 L204.8,594.5 L205.8,594.4 L206.8,594.3 L207.8,594.1 L208.8,594.0 L209.8,593.9 L210.8,593.7 L211.8,593.6 L212.8,593.5 L213.8,593.3 L214.8,593.2 L215.8,593.0 L216.8,592.9 L217.8,592.7 L218.8,592.6 L219.8,592.4 L220.8,592.3 L221.8,592.1 L222.8,592.0 L223.8,591.8 L224.8,591.7 L225.8,591.5 L226.8,591.4 L227.8,591.2 L228.8,591.1 L229.8,590.9 L230.8,590.8 L231.8,590.6 L232.8,590.5 L233.8,590.3 L234.8,590.1 L235.8,589.9 L236.8,589.8 L237.8,589.6 L238.8,589.4 L239.8,589.2 L240.8,589.0 L241.8,588.8 L242.8,588.6 L243.8,588.4 L244.8,588.2 L245.8,588.0 L246.8,587.8 L247.8,587.6 L248.8,587.4 L249.8,587.2 L250.8,586.9 L251.8,586.7 L252.8,586.5 L253.8,586.3 L254.8,586.1 L255.8,585.9 L256.8,585.6 L257.8,585.4 L258.8,585.2 L259.8,585.0 L260.8,584.8 L261.8,584.5 L262.8,584.3 L263.8,584.1 L264.8,583.9 L265.8,583.7 L266.8,583.5 L267.8,583.3 L268.8,583.0 L269.8,582.8 L270.8,582.6 L271.8,582.4 L272.8,582.2 L273.8,582.0 L274.8,581.8 L275.8,581.7 L276.8,581.5 L277.8,581.3 L278.8,581.1 L279.8,580.9 L280.8,580.8 L281.8,580.6 L282.8,580.4 L283.8,580.2 L284.8,580.1 L285.8,579.9 L286.8,579.7 L287.8,579.6 L288.8,579.4 L289.8,579.2 L290.8,579.0 L291.8,578.9 L292.8,578.7 L293.8,578.5 L294.8,578.4 L295.8,578.2 L296.8,578.1 L297.8,577.9 L298.8,577.7 L299.8,577.6 L300.8,577.4 L301.8,577.3 L302.8,577.1 L303.8,577.0 L304.8,576.9 L305.8,576.7 L306.8,576.6 L307.8,576.5 L308.8,576.3 L309.8,576.2 L310.8,576.1 L311.8,576.0 L312.8,575.9 L313.8,575.8 L314.8,575.7 L315.8,575.6 L316.8,575.5 L317.8,575.4 L318.8,575.3 L319.8,575.2 L320.8,575.1 L321.8,575.0 L322.8,574.9 L323.8,574.8 L324.8,574.7 L325.8,574.6 L326.8,574.6 L327.8,574.5 L328.8,574.4 L329.8,574.3 L330.8,574.2 L331.8,574.2 L332.8,574.1 L333.8,574.0 L334.8,573.9 L335.8,573.9 L336.8,573.8 L337.8,573.7 L338.8,573.7 L339.8,573.6 L340.8,573.6 L341.8,573.5 L342.8,573.5 L343.8,573.4 L344.8,573.4 L345.8,573.3 L346.8,573.3 L347.8,573.3 L348.8,573.3 L349.8,573.2 L350.8,573.2 L351.8,573.2 L352.8,573.1 L353.8,573.1 L354.8,573.1 L355.8,573.1 L356.8,573.0 L357.8,573.0 L358.8,573.0 L359.8,572.9 L360.8,572.9 L361.8,572.9 L362.8,572.9 L363.8,572.9 L364.8,572.8 L365.8,572.8 L366.8,572.8 L367.8,572.8 L368.8,572.7 L369.8,572.7 L370.8,572.7 L371.8,572.7 L372.8,572.7 L373.8,572.7 L374.8,572.6 L375.8,572.6 L376.8,572.6 L377.8,572.6 L378.8,572.6 L379.8,572.6 L380.8,572.6 L381.8,572.5 L382.8,572.5 L383.8,572.5 L384.8,572.5 L385.8,572.5 L386.8,572.5 L387.8,572.5 L388.8,572.5 L389.8,572.5 L390.8,572.5 L391.8,572.5" fill="none" stroke="#0000ff" stroke-width="2.60" stroke-linejoin="round" stroke-linecap="round" />
</g>
<rect x="75.50" y="390.80" width="39.00" height="25.40" fill="#000"/>
<rect x="71.50" y="386.80" width="39.00" height="25.40" fill="#fff" stroke="#555" stroke-width="1"/>
<text x="91.00" y="405.80" font-size="16.50" text-anchor="middle" >B 1s</text>
<text x="89.50" y="465.50" font-size="14.00" text-anchor="start" >BC<tspan font-size="9" dy="3">2</tspan><tspan dy="-3">O (190.6eV)</tspan></text>
<text x="296.20" y="435.40" font-size="14.00" text-anchor="start" >BCO<tspan font-size="9" dy="3">2</tspan><tspan dy="-3"> (192.0eV)</tspan></text>
<line x1="193.30" y1="466.80" x2="228.77" y2="493.04" stroke="#000" stroke-width="1.40"/>
<path d="M234.00,496.90 L226.42,494.53 L229.52,490.35 Z" fill="#000"/>
<line x1="329.00" y1="444.20" x2="292.65" y2="472.14" stroke="#000" stroke-width="1.40"/>
<path d="M287.50,476.10 L291.86,469.47 L295.03,473.59 Z" fill="#000"/>
<g clip-path="url(#cpe)">
<path d="M484.2,588.2 L486.0,599.5 L487.9,597.6 L489.7,601.5 L491.5,588.1 L493.3,606.3 L495.2,599.1 L497.0,590.2 L498.8,589.3 L500.7,590.1 L502.5,594.5 L504.3,608.7 L506.2,607.0 L508.0,596.7 L509.8,596.9 L511.6,615.6 L513.5,608.0 L515.3,595.2 L517.1,600.0 L519.0,597.7 L520.8,601.6 L522.6,606.4 L524.5,597.4 L526.3,601.2 L528.1,601.9 L529.9,602.5 L531.8,590.6 L533.6,592.5 L535.4,608.4 L537.3,612.0 L539.1,617.4 L540.9,591.4 L542.8,580.9 L544.6,579.9 L546.4,594.6 L548.2,588.2 L550.1,563.5 L551.9,569.6 L553.7,553.0 L555.6,546.0 L557.4,555.6 L559.2,565.3 L561.1,545.3 L562.9,555.0 L564.7,524.3 L566.5,529.1 L568.4,520.6 L570.2,512.1 L572.0,513.2 L573.9,501.8 L575.7,485.2 L577.5,474.7 L579.4,483.8 L581.2,491.4 L583.0,487.5 L584.8,477.3 L586.7,472.3 L588.5,494.1 L590.3,479.1 L592.2,457.6 L594.0,454.4 L595.8,439.8 L597.7,418.3 L599.5,404.6 L601.3,426.4 L603.1,430.6 L605.0,450.2 L606.8,460.1 L608.6,465.7 L610.5,469.5 L612.3,479.0 L614.1,481.4 L616.0,490.5 L617.8,492.1 L619.6,501.5 L621.4,503.2 L623.3,490.5 L625.1,499.1 L626.9,489.3 L628.8,502.7 L630.6,507.4 L632.4,528.1 L634.3,529.5 L636.1,534.4 L637.9,547.6 L639.7,535.5 L641.6,556.2 L643.4,564.5 L645.2,574.0 L647.1,554.1 L648.9,562.1 L650.7,548.5 L652.6,579.0 L654.4,565.5 L656.2,569.1 L658.0,553.1 L659.9,563.7 L661.7,559.6 L663.5,553.0 L665.4,552.1 L667.2,552.7 L669.0,552.0 L670.9,542.3 L672.7,569.0 L674.5,555.2 L676.3,555.3 L678.2,554.1 L680.0,549.8 L681.8,550.6 L683.7,556.0 L685.5,548.5 L687.3,563.2 L689.2,550.1 L691.0,563.8 L692.8,546.0 L694.6,522.3 L696.5,563.6 L698.3,570.9 L700.1,572.8 L702.0,553.8 L703.8,558.4 L705.6,579.4 L707.5,564.0 L709.3,555.5 L711.1,579.7 L712.9,576.5 L714.8,562.2 L716.6,568.6 L718.4,585.4 L720.3,571.8 L722.1,571.7 L723.9,573.7 L725.8,588.6 L727.6,564.7 L729.4,581.7 L731.2,580.0 L733.1,583.2 L734.9,585.8 L736.7,580.5 L738.6,585.3 L740.4,584.5 L742.2,592.7 L744.1,563.5 L745.9,580.9 L747.7,583.1 L749.5,572.1 L751.4,594.1 L753.2,587.6 L755.0,570.3 L756.9,581.9 L758.7,589.9 L760.5,585.5 L762.4,579.1 L764.2,589.9 L766.0,587.9 L767.8,578.5 L769.7,584.2 L771.5,596.4 L773.3,595.7 L775.2,579.3 L777.0,582.1 L778.8,598.2 L780.7,592.1 L782.5,588.2 L784.3,585.7 L786.1,589.9 L788.0,595.7 L789.8,571.0 L791.6,595.7 L793.5,582.4 L795.3,579.7 L797.1,584.8 L799.0,581.8 L800.8,582.7 L802.6,590.9 L804.4,587.5 L806.3,598.4 L808.1,579.7 L809.9,597.3 L811.8,582.6" fill="none" stroke="#505050" stroke-width="2.80" stroke-linejoin="round" stroke-linecap="round" />
<path d="M484.2,595.8 L485.2,595.7 L486.2,595.7 L487.2,595.6 L488.2,595.5 L489.2,595.5 L490.2,595.4 L491.2,595.3 L492.2,595.2 L493.2,595.2 L494.2,595.1 L495.2,595.0 L496.2,594.9 L497.2,594.8 L498.2,594.7 L499.2,594.6 L500.2,594.5 L501.2,594.4 L502.2,594.3 L503.2,594.2 L504.2,594.1 L505.2,594.0 L506.2,593.9 L507.2,593.8 L508.2,593.6 L509.2,593.5 L510.2,593.4 L511.2,593.2 L512.2,593.1 L513.2,592.9 L514.2,592.8 L515.2,592.6 L516.2,592.4 L517.2,592.2 L518.2,592.0 L519.2,591.8 L520.2,591.6 L521.2,591.4 L522.2,591.2 L523.2,590.9 L524.2,590.7 L525.2,590.4 L526.2,590.2 L527.2,589.9 L528.2,589.6 L529.2,589.3 L530.2,588.9 L531.2,588.6 L532.2,588.2 L533.2,587.8 L534.2,587.4 L535.2,587.0 L536.2,586.5 L537.2,586.0 L538.2,585.5 L539.2,584.9 L540.2,584.3 L541.2,583.7 L542.2,583.0 L543.2,582.3 L544.2,581.5 L545.2,580.7 L546.2,579.8 L547.2,578.8 L548.2,577.8 L549.2,576.7 L550.2,575.4 L551.2,574.1 L552.2,572.7 L553.2,571.2 L554.2,569.5 L555.2,567.6 L556.2,565.6 L557.2,563.4 L558.2,561.1 L559.2,558.5 L560.2,555.6 L561.2,552.5 L562.2,549.1 L563.2,545.4 L564.2,541.4 L565.2,537.1 L566.2,532.5 L567.2,527.7 L568.2,522.6 L569.2,517.4 L570.2,512.2 L571.2,507.1 L572.2,502.3 L573.2,497.9 L574.2,494.3 L575.2,491.5 L576.2,489.5 L577.2,488.5 L578.2,488.2 L579.2,488.7 L580.2,489.6 L581.2,490.7 L582.2,491.7 L583.2,492.4 L584.2,492.7 L585.2,492.2 L586.2,491.0 L587.2,488.8 L588.2,485.6 L589.2,481.4 L590.2,476.2 L591.2,470.0 L592.2,462.9 L593.2,455.1 L594.2,446.8 L595.2,438.3 L596.2,430.1 L597.2,422.7 L598.2,416.7 L599.2,412.6 L600.2,410.9 L601.2,411.6 L602.2,414.8 L603.2,420.0 L604.2,426.8 L605.2,434.6 L606.2,442.8 L607.2,451.0 L608.2,458.8 L609.2,466.0 L610.2,472.3 L611.2,477.7 L612.2,482.1 L613.2,485.5 L614.2,488.0 L615.2,489.7 L616.2,490.6 L617.2,491.0 L618.2,491.0 L619.2,490.9 L620.2,491.0 L621.2,491.3 L622.2,492.2 L623.2,493.7 L624.2,496.0 L625.2,499.0 L626.2,502.5 L627.2,506.6 L628.2,511.0 L629.2,515.6 L630.2,520.3 L631.2,524.8 L632.2,529.2 L633.2,533.4 L634.2,537.3 L635.2,540.9 L636.2,544.2 L637.2,547.2 L638.2,550.0 L639.2,552.5 L640.2,554.7 L641.2,556.6 L642.2,558.4 L643.2,559.9 L644.2,561.2 L645.2,562.4 L646.2,563.4 L647.2,564.2 L648.2,564.9 L649.2,565.5 L650.2,566.0 L651.2,566.3 L652.2,566.6 L653.2,566.8 L654.2,566.9 L655.2,566.9 L656.2,566.9 L657.2,566.8 L658.2,566.6 L659.2,566.4 L660.2,566.1 L661.2,565.8 L662.2,565.4 L663.2,565.0 L664.2,564.6 L665.2,564.1 L666.2,563.6 L667.2,563.1 L668.2,562.5 L669.2,562.0 L670.2,561.4 L671.2,560.8 L672.2,560.2 L673.2,559.6 L674.2,559.0 L675.2,558.5 L676.2,557.9 L677.2,557.4 L678.2,556.9 L679.2,556.5 L680.2,556.1 L681.2,555.8 L682.2,555.6 L683.2,555.4 L684.2,555.3 L685.2,555.3 L686.2,555.3 L687.2,555.4 L688.2,555.7 L689.2,555.9 L690.2,556.3 L691.2,556.8 L692.2,557.3 L693.2,557.8 L694.2,558.5 L695.2,559.1 L696.2,559.9 L697.2,560.6 L698.2,561.4 L699.2,562.2 L700.2,563.1 L701.2,563.9 L702.2,564.8 L703.2,565.6 L704.2,566.5 L705.2,567.4 L706.2,568.2 L707.2,569.0 L708.2,569.8 L709.2,570.7 L710.2,571.4 L711.2,572.2 L712.2,573.0 L713.2,573.7 L714.2,574.4 L715.2,575.1 L716.2,575.7 L717.2,576.4 L718.2,577.0 L719.2,577.6 L720.2,578.1 L721.2,578.7 L722.2,579.2 L723.2,579.7 L724.2,580.2 L725.2,580.7 L726.2,581.1 L727.2,581.6 L728.2,582.0 L729.2,582.4 L730.2,582.8 L731.2,583.1 L732.2,583.5 L733.2,583.8 L734.2,584.2 L735.2,584.5 L736.2,584.8 L737.2,585.0 L738.2,585.3 L739.2,585.6 L740.2,585.8 L741.2,586.1 L742.2,586.3 L743.2,586.5 L744.2,586.8 L745.2,587.0 L746.2,587.2 L747.2,587.3 L748.2,587.5 L749.2,587.7 L750.2,587.9 L751.2,588.0 L752.2,588.2 L753.2,588.3 L754.2,588.5 L755.2,588.6 L756.2,588.8 L757.2,588.9 L758.2,589.0 L759.2,589.1 L760.2,589.2 L761.2,589.4 L762.2,589.5 L763.2,589.6 L764.2,589.7 L765.2,589.8 L766.2,589.9 L767.2,589.9 L768.2,590.0 L769.2,590.1 L770.2,590.2 L771.2,590.3 L772.2,590.4 L773.2,590.4 L774.2,590.5 L775.2,590.6 L776.2,590.7 L777.2,590.7 L778.2,590.8 L779.2,590.8 L780.2,590.9 L781.2,591.0 L782.2,591.0 L783.2,591.1 L784.2,591.1 L785.2,591.2 L786.2,591.2 L787.2,591.3 L788.2,591.3 L789.2,591.4 L790.2,591.4 L791.2,591.5 L792.2,591.5 L793.2,591.6 L794.2,591.6 L795.2,591.7 L796.2,591.7 L797.2,591.8 L798.2,591.8 L799.2,591.8 L800.2,591.9 L801.2,591.9 L802.2,591.9 L803.2,592.0 L804.2,592.0 L805.2,592.1 L806.2,592.1 L807.2,592.1 L808.2,592.2 L809.2,592.2 L810.2,592.2 L811.2,592.3 L812.2,592.3 L813.2,592.3 L814.2,592.4" fill="none" stroke="#ff0000" stroke-width="3.00" stroke-linejoin="round" stroke-linecap="round" />
<path d="M484.2,599.3 L485.2,599.3 L486.2,599.3 L487.2,599.3 L488.2,599.3 L489.2,599.3 L490.2,599.3 L491.2,599.3 L492.2,599.3 L493.2,599.3 L494.2,599.3 L495.2,599.3 L496.2,599.3 L497.2,599.3 L498.2,599.3 L499.2,599.3 L500.2,599.3 L501.2,599.3 L502.2,599.3 L503.2,599.3 L504.2,599.3 L505.2,599.3 L506.2,599.3 L507.2,599.3 L508.2,599.3 L509.2,599.3 L510.2,599.3 L511.2,599.3 L512.2,599.3 L513.2,599.3 L514.2,599.3 L515.2,599.3 L516.2,599.3 L517.2,599.3 L518.2,599.3 L519.2,599.3 L520.2,599.3 L521.2,599.3 L522.2,599.3 L523.2,599.2 L524.2,599.2 L525.2,599.2 L526.2,599.2 L527.2,599.2 L528.2,599.2 L529.2,599.2 L530.2,599.2 L531.2,599.2 L532.2,599.2 L533.2,599.2 L534.2,599.2 L535.2,599.2 L536.2,599.2 L537.2,599.2 L538.2,599.2 L539.2,599.2 L540.2,599.2 L541.2,599.2 L542.2,599.2 L543.2,599.2 L544.2,599.2 L545.2,599.2 L546.2,599.2 L547.2,599.2 L548.2,599.2 L549.2,599.1 L550.2,599.1 L551.2,599.1 L552.2,599.1 L553.2,599.1 L554.2,599.1 L555.2,599.1 L556.2,599.1 L557.2,599.1 L558.2,599.0 L559.2,599.0 L560.2,599.0 L561.2,599.0 L562.2,599.0 L563.2,599.0 L564.2,599.0 L565.2,598.9 L566.2,598.9 L567.2,598.9 L568.2,598.9 L569.2,598.9 L570.2,598.9 L571.2,598.8 L572.2,598.8 L573.2,598.8 L574.2,598.8 L575.2,598.8 L576.2,598.8 L577.2,598.7 L578.2,598.7 L579.2,598.7 L580.2,598.7 L581.2,598.7 L582.2,598.6 L583.2,598.6 L584.2,598.6 L585.2,598.6 L586.2,598.6 L587.2,598.6 L588.2,598.5 L589.2,598.5 L590.2,598.5 L591.2,598.5 L592.2,598.5 L593.2,598.4 L594.2,598.4 L595.2,598.4 L596.2,598.4 L597.2,598.4 L598.2,598.3 L599.2,598.3 L600.2,598.3 L601.2,598.3 L602.2,598.3 L603.2,598.2 L604.2,598.2 L605.2,598.2 L606.2,598.2 L607.2,598.1 L608.2,598.1 L609.2,598.1 L610.2,598.1 L611.2,598.1 L612.2,598.0 L613.2,598.0 L614.2,598.0 L615.2,598.0 L616.2,597.9 L617.2,597.9 L618.2,597.9 L619.2,597.8 L620.2,597.8 L621.2,597.8 L622.2,597.8 L623.2,597.7 L624.2,597.7 L625.2,597.7 L626.2,597.6 L627.2,597.6 L628.2,597.6 L629.2,597.6 L630.2,597.5 L631.2,597.5 L632.2,597.5 L633.2,597.4 L634.2,597.4 L635.2,597.4 L636.2,597.4 L637.2,597.3 L638.2,597.3 L639.2,597.3 L640.2,597.2 L641.2,597.2 L642.2,597.2 L643.2,597.2 L644.2,597.1 L645.2,597.1 L646.2,597.1 L647.2,597.0 L648.2,597.0 L649.2,597.0 L650.2,597.0 L651.2,596.9 L652.2,596.9 L653.2,596.9 L654.2,596.8 L655.2,596.8 L656.2,596.8 L657.2,596.8 L658.2,596.7 L659.2,596.7 L660.2,596.7 L661.2,596.7 L662.2,596.6 L663.2,596.6 L664.2,596.6 L665.2,596.6 L666.2,596.5 L667.2,596.5 L668.2,596.5 L669.2,596.5 L670.2,596.4 L671.2,596.4 L672.2,596.4 L673.2,596.4 L674.2,596.3 L675.2,596.3 L676.2,596.3 L677.2,596.3 L678.2,596.2 L679.2,596.2 L680.2,596.2 L681.2,596.2 L682.2,596.1 L683.2,596.1 L684.2,596.1 L685.2,596.1 L686.2,596.1 L687.2,596.0 L688.2,596.0 L689.2,596.0 L690.2,596.0 L691.2,596.0 L692.2,595.9 L693.2,595.9 L694.2,595.9 L695.2,595.9 L696.2,595.9 L697.2,595.8 L698.2,595.8 L699.2,595.8 L700.2,595.8 L701.2,595.8 L702.2,595.8 L703.2,595.8 L704.2,595.7 L705.2,595.7 L706.2,595.7 L707.2,595.7 L708.2,595.7 L709.2,595.7 L710.2,595.7 L711.2,595.6 L712.2,595.6 L713.2,595.6 L714.2,595.6 L715.2,595.6 L716.2,595.6 L717.2,595.6 L718.2,595.5 L719.2,595.5 L720.2,595.5 L721.2,595.5 L722.2,595.5 L723.2,595.5 L724.2,595.5 L725.2,595.4 L726.2,595.4 L727.2,595.4 L728.2,595.4 L729.2,595.4 L730.2,595.4 L731.2,595.4 L732.2,595.3 L733.2,595.3 L734.2,595.3 L735.2,595.3 L736.2,595.3 L737.2,595.3 L738.2,595.3 L739.2,595.3 L740.2,595.2 L741.2,595.2 L742.2,595.2 L743.2,595.2 L744.2,595.2 L745.2,595.2 L746.2,595.2 L747.2,595.2 L748.2,595.1 L749.2,595.1 L750.2,595.1 L751.2,595.1 L752.2,595.1 L753.2,595.1 L754.2,595.1 L755.2,595.1 L756.2,595.1 L757.2,595.0 L758.2,595.0 L759.2,595.0 L760.2,595.0 L761.2,595.0 L762.2,595.0 L763.2,595.0 L764.2,595.0 L765.2,595.0 L766.2,595.0 L767.2,594.9 L768.2,594.9 L769.2,594.9 L770.2,594.9 L771.2,594.9 L772.2,594.9 L773.2,594.9 L774.2,594.9 L775.2,594.9 L776.2,594.9 L777.2,594.9 L778.2,594.8 L779.2,594.8 L780.2,594.8 L781.2,594.8 L782.2,594.8 L783.2,594.8 L784.2,594.8 L785.2,594.8 L786.2,594.8 L787.2,594.8 L788.2,594.8 L789.2,594.8 L790.2,594.8 L791.2,594.8 L792.2,594.8 L793.2,594.8 L794.2,594.7 L795.2,594.7 L796.2,594.7 L797.2,594.7 L798.2,594.7 L799.2,594.7 L800.2,594.7 L801.2,594.7 L802.2,594.7 L803.2,594.7 L804.2,594.7 L805.2,594.7 L806.2,594.7 L807.2,594.7 L808.2,594.7 L809.2,594.7 L810.2,594.7 L811.2,594.7 L812.2,594.7 L813.2,594.7 L814.2,594.7" fill="none" stroke="#00e5ff" stroke-width="2.60" stroke-linejoin="round" stroke-linecap="round" />
<path d="M484.2,597.7 L485.2,597.7 L486.2,597.6 L487.2,597.6 L488.2,597.6 L489.2,597.5 L490.2,597.5 L491.2,597.4 L492.2,597.4 L493.2,597.3 L494.2,597.3 L495.2,597.2 L496.2,597.2 L497.2,597.1 L498.2,597.1 L499.2,597.0 L500.2,597.0 L501.2,596.9 L502.2,596.8 L503.2,596.8 L504.2,596.7 L505.2,596.6 L506.2,596.5 L507.2,596.5 L508.2,596.4 L509.2,596.3 L510.2,596.2 L511.2,596.1 L512.2,596.0 L513.2,595.9 L514.2,595.8 L515.2,595.7 L516.2,595.6 L517.2,595.4 L518.2,595.3 L519.2,595.2 L520.2,595.0 L521.2,594.9 L522.2,594.7 L523.2,594.5 L524.2,594.4 L525.2,594.2 L526.2,594.0 L527.2,593.8 L528.2,593.6 L529.2,593.3 L530.2,593.1 L531.2,592.8 L532.2,592.5 L533.2,592.2 L534.2,591.9 L535.2,591.6 L536.2,591.2 L537.2,590.8 L538.2,590.4 L539.2,590.0 L540.2,589.5 L541.2,589.0 L542.2,588.4 L543.2,587.8 L544.2,587.1 L545.2,586.4 L546.2,585.7 L547.2,584.8 L548.2,583.9 L549.2,582.9 L550.2,581.8 L551.2,580.6 L552.2,579.2 L553.2,577.8 L554.2,576.2 L555.2,574.4 L556.2,572.5 L557.2,570.4 L558.2,568.0 L559.2,565.5 L560.2,562.7 L561.2,559.7 L562.2,556.4 L563.2,552.8 L564.2,549.0 L565.2,545.0 L566.2,540.7 L567.2,536.3 L568.2,531.9 L569.2,527.5 L570.2,523.3 L571.2,519.4 L572.2,516.1 L573.2,513.6 L574.2,511.9 L575.2,511.3 L576.2,511.7 L577.2,513.1 L578.2,515.5 L579.2,518.6 L580.2,522.3 L581.2,526.4 L582.2,530.7 L583.2,535.2 L584.2,539.6 L585.2,543.8 L586.2,547.9 L587.2,551.7 L588.2,555.3 L589.2,558.6 L590.2,561.6 L591.2,564.4 L592.2,567.0 L593.2,569.3 L594.2,571.4 L595.2,573.4 L596.2,575.1 L597.2,576.7 L598.2,578.2 L599.2,579.5 L600.2,580.7 L601.2,581.8 L602.2,582.8 L603.2,583.7 L604.2,584.5 L605.2,585.3 L606.2,586.0 L607.2,586.6 L608.2,587.2 L609.2,587.8 L610.2,588.3 L611.2,588.7 L612.2,589.1 L613.2,589.5 L614.2,589.9 L615.2,590.2 L616.2,590.6 L617.2,590.8 L618.2,591.1 L619.2,591.4 L620.2,591.6 L621.2,591.8 L622.2,592.0 L623.2,592.2 L624.2,592.4 L625.2,592.6 L626.2,592.7 L627.2,592.9 L628.2,593.0 L629.2,593.2 L630.2,593.3 L631.2,593.4 L632.2,593.5 L633.2,593.6 L634.2,593.7 L635.2,593.8 L636.2,593.9 L637.2,593.9 L638.2,594.0 L639.2,594.1 L640.2,594.1 L641.2,594.2 L642.2,594.3 L643.2,594.3 L644.2,594.4 L645.2,594.4 L646.2,594.5 L647.2,594.5 L648.2,594.5 L649.2,594.6 L650.2,594.6 L651.2,594.6 L652.2,594.7 L653.2,594.7 L654.2,594.7 L655.2,594.8 L656.2,594.8 L657.2,594.8 L658.2,594.8 L659.2,594.8 L660.2,594.9 L661.2,594.9 L662.2,594.9 L663.2,594.9 L664.2,594.9 L665.2,594.9 L666.2,594.9 L667.2,594.9 L668.2,595.0 L669.2,595.0 L670.2,595.0 L671.2,595.0 L672.2,595.0 L673.2,595.0 L674.2,595.0 L675.2,595.0 L676.2,595.0 L677.2,595.0 L678.2,595.0 L679.2,595.0 L680.2,595.0 L681.2,595.0 L682.2,595.0 L683.2,595.0 L684.2,595.0 L685.2,595.0 L686.2,595.0 L687.2,595.0 L688.2,595.0 L689.2,595.0 L690.2,595.0 L691.2,595.0 L692.2,595.0 L693.2,595.0 L694.2,594.9 L695.2,594.9 L696.2,594.9 L697.2,594.9 L698.2,594.9 L699.2,594.9 L700.2,594.9 L701.2,594.9 L702.2,594.9 L703.2,594.9 L704.2,594.9 L705.2,594.9 L706.2,594.9 L707.2,594.9 L708.2,594.9 L709.2,594.9 L710.2,594.9 L711.2,594.9 L712.2,594.9 L713.2,594.9 L714.2,594.9 L715.2,594.9 L716.2,594.9 L717.2,594.9 L718.2,594.9 L719.2,594.9 L720.2,594.9 L721.2,594.9 L722.2,594.9 L723.2,594.9 L724.2,594.8 L725.2,594.8 L726.2,594.8 L727.2,594.8 L728.2,594.8 L729.2,594.8 L730.2,594.8 L731.2,594.8 L732.2,594.8 L733.2,594.8 L734.2,594.8 L735.2,594.8 L736.2,594.8 L737.2,594.8 L738.2,594.8 L739.2,594.8 L740.2,594.7 L741.2,594.7 L742.2,594.7 L743.2,594.7 L744.2,594.7 L745.2,594.7 L746.2,594.7 L747.2,594.7 L748.2,594.7 L749.2,594.7 L750.2,594.7 L751.2,594.7 L752.2,594.7 L753.2,594.7 L754.2,594.7 L755.2,594.6 L756.2,594.6 L757.2,594.6 L758.2,594.6 L759.2,594.6 L760.2,594.6 L761.2,594.6 L762.2,594.6 L763.2,594.6 L764.2,594.6 L765.2,594.6 L766.2,594.6 L767.2,594.6 L768.2,594.6 L769.2,594.6 L770.2,594.6 L771.2,594.6 L772.2,594.5 L773.2,594.5 L774.2,594.5 L775.2,594.5 L776.2,594.5 L777.2,594.5 L778.2,594.5 L779.2,594.5 L780.2,594.5 L781.2,594.5 L782.2,594.5 L783.2,594.5 L784.2,594.5 L785.2,594.5 L786.2,594.5 L787.2,594.5 L788.2,594.5 L789.2,594.5 L790.2,594.5 L791.2,594.5 L792.2,594.5 L793.2,594.5 L794.2,594.5 L795.2,594.5 L796.2,594.5 L797.2,594.5 L798.2,594.5 L799.2,594.5 L800.2,594.5 L801.2,594.5 L802.2,594.5 L803.2,594.5 L804.2,594.5 L805.2,594.5 L806.2,594.5 L807.2,594.5 L808.2,594.5 L809.2,594.5 L810.2,594.5 L811.2,594.5 L812.2,594.5 L813.2,594.5 L814.2,594.5" fill="none" stroke="#009600" stroke-width="2.80" stroke-linejoin="round" stroke-linecap="round" />
<path d="M484.2,598.3 L485.2,598.3 L486.2,598.3 L487.2,598.3 L488.2,598.3 L489.2,598.3 L490.2,598.2 L491.2,598.2 L492.2,598.2 L493.2,598.2 L494.2,598.2 L495.2,598.1 L496.2,598.1 L497.2,598.1 L498.2,598.1 L499.2,598.0 L500.2,598.0 L501.2,598.0 L502.2,598.0 L503.2,597.9 L504.2,597.9 L505.2,597.9 L506.2,597.8 L507.2,597.8 L508.2,597.8 L509.2,597.7 L510.2,597.7 L511.2,597.7 L512.2,597.6 L513.2,597.6 L514.2,597.5 L515.2,597.5 L516.2,597.5 L517.2,597.4 L518.2,597.4 L519.2,597.3 L520.2,597.3 L521.2,597.2 L522.2,597.2 L523.2,597.1 L524.2,597.0 L525.2,597.0 L526.2,596.9 L527.2,596.8 L528.2,596.8 L529.2,596.7 L530.2,596.6 L531.2,596.6 L532.2,596.5 L533.2,596.4 L534.2,596.3 L535.2,596.2 L536.2,596.1 L537.2,596.0 L538.2,595.9 L539.2,595.8 L540.2,595.7 L541.2,595.6 L542.2,595.4 L543.2,595.3 L544.2,595.2 L545.2,595.0 L546.2,594.9 L547.2,594.7 L548.2,594.5 L549.2,594.3 L550.2,594.1 L551.2,593.9 L552.2,593.7 L553.2,593.5 L554.2,593.2 L555.2,593.0 L556.2,592.7 L557.2,592.4 L558.2,592.1 L559.2,591.7 L560.2,591.4 L561.2,591.0 L562.2,590.6 L563.2,590.1 L564.2,589.6 L565.2,589.1 L566.2,588.5 L567.2,587.9 L568.2,587.3 L569.2,586.6 L570.2,585.8 L571.2,584.9 L572.2,584.0 L573.2,582.9 L574.2,581.8 L575.2,580.5 L576.2,579.0 L577.2,577.4 L578.2,575.6 L579.2,573.5 L580.2,571.2 L581.2,568.5 L582.2,565.5 L583.2,562.1 L584.2,558.1 L585.2,553.7 L586.2,548.7 L587.2,543.0 L588.2,536.7 L589.2,529.6 L590.2,521.7 L591.2,513.1 L592.2,503.9 L593.2,494.1 L594.2,484.0 L595.2,473.9 L596.2,464.5 L597.2,456.1 L598.2,449.6 L599.2,445.6 L600.2,444.4 L601.2,446.3 L602.2,450.9 L603.2,457.8 L604.2,466.5 L605.2,476.1 L606.2,486.2 L607.2,496.2 L608.2,505.8 L609.2,514.9 L610.2,523.2 L611.2,530.9 L612.2,537.7 L613.2,543.9 L614.2,549.3 L615.2,554.2 L616.2,558.4 L617.2,562.2 L618.2,565.5 L619.2,568.4 L620.2,570.9 L621.2,573.1 L622.2,575.1 L623.2,576.8 L624.2,578.3 L625.2,579.7 L626.2,580.9 L627.2,582.0 L628.2,583.0 L629.2,583.8 L630.2,584.6 L631.2,585.3 L632.2,586.0 L633.2,586.6 L634.2,587.2 L635.2,587.7 L636.2,588.1 L637.2,588.6 L638.2,589.0 L639.2,589.3 L640.2,589.7 L641.2,590.0 L642.2,590.3 L643.2,590.5 L644.2,590.8 L645.2,591.0 L646.2,591.3 L647.2,591.5 L648.2,591.7 L649.2,591.8 L650.2,592.0 L651.2,592.2 L652.2,592.3 L653.2,592.4 L654.2,592.6 L655.2,592.7 L656.2,592.8 L657.2,592.9 L658.2,593.0 L659.2,593.1 L660.2,593.2 L661.2,593.3 L662.2,593.4 L663.2,593.5 L664.2,593.5 L665.2,593.6 L666.2,593.7 L667.2,593.7 L668.2,593.8 L669.2,593.8 L670.2,593.9 L671.2,593.9 L672.2,594.0 L673.2,594.0 L674.2,594.0 L675.2,594.1 L676.2,594.1 L677.2,594.1 L678.2,594.2 L679.2,594.2 L680.2,594.2 L681.2,594.2 L682.2,594.3 L683.2,594.3 L684.2,594.3 L685.2,594.3 L686.2,594.3 L687.2,594.4 L688.2,594.4 L689.2,594.4 L690.2,594.4 L691.2,594.4 L692.2,594.4 L693.2,594.4 L694.2,594.5 L695.2,594.5 L696.2,594.5 L697.2,594.5 L698.2,594.5 L699.2,594.5 L700.2,594.5 L701.2,594.5 L702.2,594.5 L703.2,594.5 L704.2,594.6 L705.2,594.6 L706.2,594.6 L707.2,594.6 L708.2,594.6 L709.2,594.6 L710.2,594.6 L711.2,594.6 L712.2,594.6 L713.2,594.6 L714.2,594.6 L715.2,594.6 L716.2,594.6 L717.2,594.6 L718.2,594.6 L719.2,594.6 L720.2,594.6 L721.2,594.6 L722.2,594.6 L723.2,594.6 L724.2,594.6 L725.2,594.6 L726.2,594.6 L727.2,594.6 L728.2,594.6 L729.2,594.6 L730.2,594.6 L731.2,594.6 L732.2,594.6 L733.2,594.6 L734.2,594.6 L735.2,594.6 L736.2,594.6 L737.2,594.6 L738.2,594.6 L739.2,594.6 L740.2,594.6 L741.2,594.6 L742.2,594.6 L743.2,594.6 L744.2,594.6 L745.2,594.6 L746.2,594.6 L747.2,594.6 L748.2,594.6 L749.2,594.6 L750.2,594.6 L751.2,594.5 L752.2,594.5 L753.2,594.5 L754.2,594.5 L755.2,594.5 L756.2,594.5 L757.2,594.5 L758.2,594.5 L759.2,594.5 L760.2,594.5 L761.2,594.5 L762.2,594.5 L763.2,594.5 L764.2,594.5 L765.2,594.5 L766.2,594.5 L767.2,594.5 L768.2,594.5 L769.2,594.5 L770.2,594.5 L771.2,594.5 L772.2,594.5 L773.2,594.5 L774.2,594.5 L775.2,594.5 L776.2,594.4 L777.2,594.4 L778.2,594.4 L779.2,594.4 L780.2,594.4 L781.2,594.4 L782.2,594.4 L783.2,594.4 L784.2,594.4 L785.2,594.4 L786.2,594.4 L787.2,594.4 L788.2,594.4 L789.2,594.4 L790.2,594.4 L791.2,594.4 L792.2,594.4 L793.2,594.4 L794.2,594.4 L795.2,594.4 L796.2,594.4 L797.2,594.4 L798.2,594.4 L799.2,594.4 L800.2,594.4 L801.2,594.4 L802.2,594.4 L803.2,594.4 L804.2,594.4 L805.2,594.4 L806.2,594.4 L807.2,594.4 L808.2,594.4 L809.2,594.4 L810.2,594.4 L811.2,594.4 L812.2,594.4 L813.2,594.4 L814.2,594.4" fill="none" stroke="#ff00ff" stroke-width="2.80" stroke-linejoin="round" stroke-linecap="round" />
<path d="M484.2,598.7 L485.2,598.7 L486.2,598.7 L487.2,598.7 L488.2,598.7 L489.2,598.7 L490.2,598.7 L491.2,598.7 L492.2,598.7 L493.2,598.6 L494.2,598.6 L495.2,598.6 L496.2,598.6 L497.2,598.6 L498.2,598.6 L499.2,598.6 L500.2,598.6 L501.2,598.6 L502.2,598.5 L503.2,598.5 L504.2,598.5 L505.2,598.5 L506.2,598.5 L507.2,598.5 L508.2,598.5 L509.2,598.4 L510.2,598.4 L511.2,598.4 L512.2,598.4 L513.2,598.4 L514.2,598.3 L515.2,598.3 L516.2,598.3 L517.2,598.3 L518.2,598.3 L519.2,598.2 L520.2,598.2 L521.2,598.2 L522.2,598.2 L523.2,598.2 L524.2,598.1 L525.2,598.1 L526.2,598.1 L527.2,598.1 L528.2,598.0 L529.2,598.0 L530.2,598.0 L531.2,597.9 L532.2,597.9 L533.2,597.9 L534.2,597.8 L535.2,597.8 L536.2,597.8 L537.2,597.7 L538.2,597.7 L539.2,597.7 L540.2,597.6 L541.2,597.6 L542.2,597.5 L543.2,597.5 L544.2,597.4 L545.2,597.4 L546.2,597.3 L547.2,597.3 L548.2,597.2 L549.2,597.2 L550.2,597.1 L551.2,597.0 L552.2,597.0 L553.2,596.9 L554.2,596.8 L555.2,596.7 L556.2,596.7 L557.2,596.6 L558.2,596.5 L559.2,596.4 L560.2,596.3 L561.2,596.2 L562.2,596.1 L563.2,596.0 L564.2,595.9 L565.2,595.8 L566.2,595.6 L567.2,595.5 L568.2,595.4 L569.2,595.2 L570.2,595.1 L571.2,594.9 L572.2,594.7 L573.2,594.6 L574.2,594.4 L575.2,594.2 L576.2,594.0 L577.2,593.8 L578.2,593.5 L579.2,593.3 L580.2,593.0 L581.2,592.8 L582.2,592.5 L583.2,592.2 L584.2,591.8 L585.2,591.5 L586.2,591.1 L587.2,590.7 L588.2,590.3 L589.2,589.8 L590.2,589.3 L591.2,588.7 L592.2,588.1 L593.2,587.5 L594.2,586.8 L595.2,586.0 L596.2,585.2 L597.2,584.3 L598.2,583.3 L599.2,582.2 L600.2,581.0 L601.2,579.7 L602.2,578.2 L603.2,576.6 L604.2,574.8 L605.2,572.9 L606.2,570.8 L607.2,568.5 L608.2,565.9 L609.2,563.2 L610.2,560.2 L611.2,557.0 L612.2,553.6 L613.2,550.0 L614.2,546.2 L615.2,542.4 L616.2,538.6 L617.2,535.0 L618.2,531.7 L619.2,528.8 L620.2,526.6 L621.2,525.1 L622.2,524.5 L623.2,524.8 L624.2,526.0 L625.2,528.0 L626.2,530.7 L627.2,533.9 L628.2,537.4 L629.2,541.1 L630.2,544.8 L631.2,548.5 L632.2,552.1 L633.2,555.5 L634.2,558.7 L635.2,561.7 L636.2,564.5 L637.2,567.0 L638.2,569.4 L639.2,571.5 L640.2,573.4 L641.2,575.2 L642.2,576.7 L643.2,578.2 L644.2,579.5 L645.2,580.7 L646.2,581.7 L647.2,582.7 L648.2,583.6 L649.2,584.4 L650.2,585.2 L651.2,585.8 L652.2,586.4 L653.2,587.0 L654.2,587.5 L655.2,588.0 L656.2,588.4 L657.2,588.8 L658.2,589.2 L659.2,589.5 L660.2,589.8 L661.2,590.1 L662.2,590.4 L663.2,590.7 L664.2,590.9 L665.2,591.1 L666.2,591.3 L667.2,591.5 L668.2,591.7 L669.2,591.8 L670.2,592.0 L671.2,592.1 L672.2,592.3 L673.2,592.4 L674.2,592.5 L675.2,592.6 L676.2,592.7 L677.2,592.8 L678.2,592.9 L679.2,593.0 L680.2,593.1 L681.2,593.2 L682.2,593.2 L683.2,593.3 L684.2,593.4 L685.2,593.4 L686.2,593.5 L687.2,593.5 L688.2,593.6 L689.2,593.6 L690.2,593.7 L691.2,593.7 L692.2,593.8 L693.2,593.8 L694.2,593.8 L695.2,593.9 L696.2,593.9 L697.2,594.0 L698.2,594.0 L699.2,594.0 L700.2,594.0 L701.2,594.1 L702.2,594.1 L703.2,594.1 L704.2,594.1 L705.2,594.2 L706.2,594.2 L707.2,594.2 L708.2,594.2 L709.2,594.3 L710.2,594.3 L711.2,594.3 L712.2,594.3 L713.2,594.3 L714.2,594.3 L715.2,594.3 L716.2,594.4 L717.2,594.4 L718.2,594.4 L719.2,594.4 L720.2,594.4 L721.2,594.4 L722.2,594.4 L723.2,594.4 L724.2,594.4 L725.2,594.4 L726.2,594.4 L727.2,594.4 L728.2,594.4 L729.2,594.4 L730.2,594.4 L731.2,594.5 L732.2,594.5 L733.2,594.5 L734.2,594.5 L735.2,594.5 L736.2,594.5 L737.2,594.5 L738.2,594.5 L739.2,594.5 L740.2,594.5 L741.2,594.5 L742.2,594.5 L743.2,594.5 L744.2,594.5 L745.2,594.5 L746.2,594.5 L747.2,594.5 L748.2,594.5 L749.2,594.5 L750.2,594.5 L751.2,594.5 L752.2,594.5 L753.2,594.5 L754.2,594.5 L755.2,594.5 L756.2,594.5 L757.2,594.4 L758.2,594.4 L759.2,594.4 L760.2,594.4 L761.2,594.4 L762.2,594.4 L763.2,594.4 L764.2,594.4 L765.2,594.4 L766.2,594.4 L767.2,594.4 L768.2,594.4 L769.2,594.4 L770.2,594.4 L771.2,594.4 L772.2,594.4 L773.2,594.4 L774.2,594.4 L775.2,594.4 L776.2,594.4 L777.2,594.4 L778.2,594.4 L779.2,594.4 L780.2,594.4 L781.2,594.4 L782.2,594.4 L783.2,594.4 L784.2,594.4 L785.2,594.4 L786.2,594.4 L787.2,594.4 L788.2,594.4 L789.2,594.4 L790.2,594.4 L791.2,594.4 L792.2,594.4 L793.2,594.4 L794.2,594.4 L795.2,594.4 L796.2,594.4 L797.2,594.4 L798.2,594.4 L799.2,594.4 L800.2,594.4 L801.2,594.4 L802.2,594.4 L803.2,594.4 L804.2,594.4 L805.2,594.4 L806.2,594.4 L807.2,594.4 L808.2,594.4 L809.2,594.4 L810.2,594.4 L811.2,594.4 L812.2,594.4 L813.2,594.4 L814.2,594.4" fill="none" stroke="#ff8000" stroke-width="2.80" stroke-linejoin="round" stroke-linecap="round" />
<path d="M484.2,598.7 L485.2,598.7 L486.2,598.7 L487.2,598.7 L488.2,598.7 L489.2,598.7 L490.2,598.7 L491.2,598.7 L492.2,598.6 L493.2,598.6 L494.2,598.6 L495.2,598.6 L496.2,598.6 L497.2,598.6 L498.2,598.6 L499.2,598.6 L500.2,598.6 L501.2,598.6 L502.2,598.6 L503.2,598.6 L504.2,598.5 L505.2,598.5 L506.2,598.5 L507.2,598.5 L508.2,598.5 L509.2,598.5 L510.2,598.5 L511.2,598.5 L512.2,598.5 L513.2,598.5 L514.2,598.4 L515.2,598.4 L516.2,598.4 L517.2,598.4 L518.2,598.4 L519.2,598.4 L520.2,598.4 L521.2,598.4 L522.2,598.3 L523.2,598.3 L524.2,598.3 L525.2,598.3 L526.2,598.3 L527.2,598.3 L528.2,598.3 L529.2,598.2 L530.2,598.2 L531.2,598.2 L532.2,598.2 L533.2,598.2 L534.2,598.2 L535.2,598.2 L536.2,598.1 L537.2,598.1 L538.2,598.1 L539.2,598.1 L540.2,598.1 L541.2,598.0 L542.2,598.0 L543.2,598.0 L544.2,598.0 L545.2,598.0 L546.2,597.9 L547.2,597.9 L548.2,597.9 L549.2,597.9 L550.2,597.8 L551.2,597.8 L552.2,597.8 L553.2,597.7 L554.2,597.7 L555.2,597.7 L556.2,597.7 L557.2,597.6 L558.2,597.6 L559.2,597.6 L560.2,597.5 L561.2,597.5 L562.2,597.4 L563.2,597.4 L564.2,597.4 L565.2,597.3 L566.2,597.3 L567.2,597.2 L568.2,597.2 L569.2,597.2 L570.2,597.1 L571.2,597.1 L572.2,597.0 L573.2,597.0 L574.2,596.9 L575.2,596.9 L576.2,596.8 L577.2,596.8 L578.2,596.7 L579.2,596.7 L580.2,596.6 L581.2,596.5 L582.2,596.5 L583.2,596.4 L584.2,596.4 L585.2,596.3 L586.2,596.2 L587.2,596.2 L588.2,596.1 L589.2,596.1 L590.2,596.0 L591.2,595.9 L592.2,595.8 L593.2,595.8 L594.2,595.7 L595.2,595.6 L596.2,595.5 L597.2,595.5 L598.2,595.4 L599.2,595.3 L600.2,595.2 L601.2,595.1 L602.2,595.0 L603.2,595.0 L604.2,594.9 L605.2,594.8 L606.2,594.7 L607.2,594.5 L608.2,594.4 L609.2,594.3 L610.2,594.2 L611.2,594.1 L612.2,594.0 L613.2,593.8 L614.2,593.7 L615.2,593.5 L616.2,593.4 L617.2,593.2 L618.2,593.1 L619.2,592.9 L620.2,592.8 L621.2,592.6 L622.2,592.4 L623.2,592.2 L624.2,592.0 L625.2,591.8 L626.2,591.6 L627.2,591.3 L628.2,591.1 L629.2,590.9 L630.2,590.6 L631.2,590.3 L632.2,590.1 L633.2,589.8 L634.2,589.5 L635.2,589.2 L636.2,588.8 L637.2,588.5 L638.2,588.1 L639.2,587.8 L640.2,587.4 L641.2,587.0 L642.2,586.5 L643.2,586.1 L644.2,585.7 L645.2,585.2 L646.2,584.7 L647.2,584.2 L648.2,583.7 L649.2,583.1 L650.2,582.5 L651.2,582.0 L652.2,581.3 L653.2,580.7 L654.2,580.1 L655.2,579.4 L656.2,578.7 L657.2,578.0 L658.2,577.3 L659.2,576.5 L660.2,575.8 L661.2,575.0 L662.2,574.2 L663.2,573.4 L664.2,572.6 L665.2,571.7 L666.2,570.9 L667.2,570.0 L668.2,569.2 L669.2,568.3 L670.2,567.5 L671.2,566.7 L672.2,565.8 L673.2,565.0 L674.2,564.3 L675.2,563.5 L676.2,562.8 L677.2,562.2 L678.2,561.5 L679.2,561.0 L680.2,560.5 L681.2,560.1 L682.2,559.7 L683.2,559.4 L684.2,559.2 L685.2,559.1 L686.2,559.0 L687.2,559.1 L688.2,559.2 L689.2,559.4 L690.2,559.6 L691.2,560.0 L692.2,560.4 L693.2,560.9 L694.2,561.4 L695.2,562.0 L696.2,562.7 L697.2,563.3 L698.2,564.1 L699.2,564.8 L700.2,565.6 L701.2,566.4 L702.2,567.1 L703.2,568.0 L704.2,568.8 L705.2,569.6 L706.2,570.4 L707.2,571.2 L708.2,572.0 L709.2,572.8 L710.2,573.5 L711.2,574.3 L712.2,575.0 L713.2,575.7 L714.2,576.4 L715.2,577.1 L716.2,577.8 L717.2,578.4 L718.2,579.0 L719.2,579.6 L720.2,580.2 L721.2,580.8 L722.2,581.3 L723.2,581.8 L724.2,582.3 L725.2,582.8 L726.2,583.2 L727.2,583.7 L728.2,584.1 L729.2,584.5 L730.2,584.9 L731.2,585.3 L732.2,585.6 L733.2,586.0 L734.2,586.3 L735.2,586.6 L736.2,586.9 L737.2,587.2 L738.2,587.4 L739.2,587.7 L740.2,587.9 L741.2,588.2 L742.2,588.4 L743.2,588.6 L744.2,588.8 L745.2,589.0 L746.2,589.2 L747.2,589.3 L748.2,589.5 L749.2,589.7 L750.2,589.8 L751.2,590.0 L752.2,590.1 L753.2,590.2 L754.2,590.3 L755.2,590.5 L756.2,590.6 L757.2,590.7 L758.2,590.8 L759.2,590.9 L760.2,591.0 L761.2,591.1 L762.2,591.2 L763.2,591.2 L764.2,591.3 L765.2,591.4 L766.2,591.5 L767.2,591.5 L768.2,591.6 L769.2,591.7 L770.2,591.7 L771.2,591.8 L772.2,591.8 L773.2,591.9 L774.2,592.0 L775.2,592.0 L776.2,592.1 L777.2,592.1 L778.2,592.2 L779.2,592.2 L780.2,592.2 L781.2,592.3 L782.2,592.3 L783.2,592.4 L784.2,592.4 L785.2,592.4 L786.2,592.5 L787.2,592.5 L788.2,592.6 L789.2,592.6 L790.2,592.6 L791.2,592.7 L792.2,592.7 L793.2,592.7 L794.2,592.7 L795.2,592.8 L796.2,592.8 L797.2,592.8 L798.2,592.9 L799.2,592.9 L800.2,592.9 L801.2,592.9 L802.2,593.0 L803.2,593.0 L804.2,593.0 L805.2,593.0 L806.2,593.1 L807.2,593.1 L808.2,593.1 L809.2,593.1 L810.2,593.2 L811.2,593.2 L812.2,593.2 L813.2,593.2 L814.2,593.2" fill="none" stroke="#0000ff" stroke-width="2.80" stroke-linejoin="round" stroke-linecap="round" />
</g>
<rect x="498.40" y="392.50" width="39.50" height="25.10" fill="#000"/>
<rect x="494.40" y="388.50" width="39.50" height="25.10" fill="#fff" stroke="#555" stroke-width="1"/>
<text x="514.15" y="406.50" font-size="16.50" text-anchor="middle" >S 2p</text>
<text x="631.60" y="434.60" font-size="14.00" text-anchor="start" >S2p<tspan font-size="9" dy="3">3/2</tspan><tspan dy="-3"> (163.3eV)</tspan></text>
<text x="501.30" y="470.90" font-size="14.00" text-anchor="start" >Thiol-S</text>
<text x="501.30" y="490.60" font-size="14.00" text-anchor="start" >(162.0eV)</text>
<text x="656.10" y="499.30" font-size="14.00" text-anchor="start" >S2p<tspan font-size="9" dy="3">1/2</tspan><tspan dy="-3"> (164.5eV)</tspan></text>
<text x="735.30" y="531.60" font-size="14.00" text-anchor="start" >Oxidized-S</text>
<text x="735.30" y="549.90" font-size="14.00" text-anchor="start" >(168.1eV)</text>
<line x1="641.10" y1="440.60" x2="605.39" y2="467.58" stroke="#000" stroke-width="1.40"/>
<path d="M600.20,471.50 L604.62,464.90 L607.75,469.05 Z" fill="#000"/>
<line x1="537.30" y1="496.00" x2="571.73" y2="520.89" stroke="#000" stroke-width="1.40"/>
<path d="M577.00,524.70 L569.40,522.41 L572.45,518.20 Z" fill="#000"/>
<line x1="650.70" y1="504.20" x2="626.18" y2="533.42" stroke="#000" stroke-width="1.40"/>
<path d="M622.00,538.40 L624.83,530.98 L628.81,534.33 Z" fill="#000"/>
<line x1="731.20" y1="541.10" x2="697.55" y2="568.31" stroke="#000" stroke-width="1.40"/>
<path d="M692.50,572.40 L696.70,565.66 L699.97,569.71 Z" fill="#000"/>
<g clip-path="url(#cpf)">
<path d="M904.0,572.7 L905.8,572.3 L907.6,578.9 L909.5,589.8 L911.3,575.3 L913.1,568.2 L914.9,571.1 L916.7,595.0 L918.6,575.4 L920.4,567.8 L922.2,576.0 L924.0,581.6 L925.8,581.6 L927.7,596.2 L929.5,577.3 L931.3,564.9 L933.1,593.1 L934.9,581.9 L936.8,582.1 L938.6,573.2 L940.4,570.0 L942.2,594.0 L944.0,565.7 L945.9,573.9 L947.7,569.2 L949.5,592.9 L951.3,582.7 L953.1,573.3 L955.0,586.3 L956.8,597.5 L958.6,571.1 L960.4,571.7 L962.2,583.5 L964.1,582.1 L965.9,569.6 L967.7,574.1 L969.5,579.6 L971.3,587.6 L973.2,566.4 L975.0,585.7 L976.8,584.2 L978.6,597.9 L980.4,558.1 L982.3,576.3 L984.1,575.7 L985.9,592.6 L987.7,568.6 L989.5,574.0 L991.4,580.8 L993.2,583.8 L995.0,582.5 L996.8,566.1 L998.6,595.2 L1000.5,570.6 L1002.3,580.7 L1004.1,585.1 L1005.9,572.2 L1007.7,580.1 L1009.6,559.8 L1011.4,572.3 L1013.2,567.4 L1015.0,556.6 L1016.8,563.6 L1018.7,558.8 L1020.5,577.0 L1022.3,557.0 L1024.1,547.0 L1025.9,558.0 L1027.8,553.2 L1029.6,580.8 L1031.4,568.3 L1033.2,545.9 L1035.0,530.0 L1036.9,559.5 L1038.7,530.8 L1040.5,501.2 L1042.3,519.4 L1044.1,486.9 L1046.0,515.2 L1047.8,496.8 L1049.6,468.5 L1051.4,466.3 L1053.2,437.0 L1055.1,480.0 L1056.9,425.0 L1058.7,408.4 L1060.5,460.3 L1062.3,437.3 L1064.2,437.8 L1066.0,444.1 L1067.8,461.5 L1069.6,454.8 L1071.4,470.3 L1073.3,487.8 L1075.1,495.2 L1076.9,494.9 L1078.7,496.4 L1080.5,509.8 L1082.4,529.9 L1084.2,542.0 L1086.0,541.6 L1087.8,524.2 L1089.6,533.1 L1091.5,526.4 L1093.3,536.5 L1095.1,507.7 L1096.9,535.8 L1098.7,534.2 L1100.6,537.8 L1102.4,577.5 L1104.2,578.0 L1106.0,547.0 L1107.8,570.6 L1109.7,581.0 L1111.5,587.8 L1113.3,566.0 L1115.1,584.7 L1116.9,584.0 L1118.8,575.1 L1120.6,591.7 L1122.4,579.4 L1124.2,584.8 L1126.0,576.1 L1127.9,590.4 L1129.7,591.0 L1131.5,583.3 L1133.3,578.2 L1135.1,586.6 L1137.0,589.1 L1138.8,588.5 L1140.6,584.5 L1142.4,596.9 L1144.2,583.9 L1146.1,588.0 L1147.9,602.7 L1149.7,579.6 L1151.5,588.4 L1153.3,591.1 L1155.2,581.3 L1157.0,575.6 L1158.8,579.7 L1160.6,568.9 L1162.4,589.5 L1164.3,589.0 L1166.1,596.5 L1167.9,607.9 L1169.7,592.0 L1171.5,592.5 L1173.4,595.4 L1175.2,586.2 L1177.0,576.5 L1178.8,584.0 L1180.6,593.0 L1182.5,591.5 L1184.3,592.2 L1186.1,586.1 L1187.9,592.7 L1189.7,589.2 L1191.6,591.0 L1193.4,580.2 L1195.2,584.5 L1197.0,593.1 L1198.8,607.9 L1200.7,594.2 L1202.5,599.3 L1204.3,612.0 L1206.1,596.5 L1207.9,591.0 L1209.8,575.0 L1211.6,591.0 L1213.4,606.3 L1215.2,584.8 L1217.0,591.2 L1218.9,593.1 L1220.7,597.2 L1222.5,584.9 L1224.3,603.1 L1226.1,601.1 L1228.0,585.6 L1229.8,567.8 L1231.6,601.8" fill="none" stroke="#505050" stroke-width="2.80" stroke-linejoin="round" stroke-linecap="round" />
<path d="M904.0,572.0 L905.0,572.0 L906.0,572.1 L907.0,572.1 L908.0,572.2 L909.0,572.2 L910.0,572.3 L911.0,572.3 L912.0,572.3 L913.0,572.4 L914.0,572.4 L915.0,572.5 L916.0,572.5 L917.0,572.6 L918.0,572.6 L919.0,572.7 L920.0,572.7 L921.0,572.7 L922.0,572.8 L923.0,572.8 L924.0,572.9 L925.0,572.9 L926.0,572.9 L927.0,573.0 L928.0,573.0 L929.0,573.1 L930.0,573.1 L931.0,573.1 L932.0,573.2 L933.0,573.2 L934.0,573.2 L935.0,573.3 L936.0,573.3 L937.0,573.4 L938.0,573.4 L939.0,573.4 L940.0,573.4 L941.0,573.5 L942.0,573.5 L943.0,573.5 L944.0,573.6 L945.0,573.6 L946.0,573.6 L947.0,573.6 L948.0,573.7 L949.0,573.7 L950.0,573.7 L951.0,573.7 L952.0,573.8 L953.0,573.8 L954.0,573.8 L955.0,573.8 L956.0,573.8 L957.0,573.8 L958.0,573.8 L959.0,573.9 L960.0,573.9 L961.0,573.9 L962.0,573.9 L963.0,573.9 L964.0,573.9 L965.0,573.9 L966.0,573.9 L967.0,573.9 L968.0,573.9 L969.0,573.9 L970.0,573.9 L971.0,573.9 L972.0,573.8 L973.0,573.8 L974.0,573.8 L975.0,573.8 L976.0,573.8 L977.0,573.7 L978.0,573.7 L979.0,573.7 L980.0,573.6 L981.0,573.6 L982.0,573.5 L983.0,573.5 L984.0,573.4 L985.0,573.4 L986.0,573.3 L987.0,573.3 L988.0,573.2 L989.0,573.1 L990.0,573.0 L991.0,572.9 L992.0,572.8 L993.0,572.7 L994.0,572.6 L995.0,572.5 L996.0,572.4 L997.0,572.3 L998.0,572.1 L999.0,572.0 L1000.0,571.8 L1001.0,571.7 L1002.0,571.5 L1003.0,571.3 L1004.0,571.1 L1005.0,570.9 L1006.0,570.6 L1007.0,570.4 L1008.0,570.1 L1009.0,569.8 L1010.0,569.5 L1011.0,569.2 L1012.0,568.8 L1013.0,568.4 L1014.0,568.0 L1015.0,567.6 L1016.0,567.1 L1017.0,566.6 L1018.0,566.0 L1019.0,565.3 L1020.0,564.7 L1021.0,563.9 L1022.0,563.1 L1023.0,562.2 L1024.0,561.2 L1025.0,560.1 L1026.0,559.0 L1027.0,557.7 L1028.0,556.3 L1029.0,554.8 L1030.0,553.1 L1031.0,551.3 L1032.0,549.3 L1033.0,547.2 L1034.0,544.9 L1035.0,542.4 L1036.0,539.7 L1037.0,536.8 L1038.0,533.7 L1039.0,530.3 L1040.0,526.8 L1041.0,523.0 L1042.0,519.1 L1043.0,514.9 L1044.0,510.5 L1045.0,505.9 L1046.0,501.1 L1047.0,496.1 L1048.0,491.0 L1049.0,485.8 L1050.0,480.6 L1051.0,475.3 L1052.0,470.1 L1053.0,465.1 L1054.0,460.2 L1055.0,455.7 L1056.0,451.5 L1057.0,447.9 L1058.0,444.9 L1059.0,442.5 L1060.0,440.9 L1061.0,440.1 L1062.0,440.1 L1063.0,441.0 L1064.0,442.6 L1065.0,445.0 L1066.0,448.1 L1067.0,451.7 L1068.0,455.8 L1069.0,460.4 L1070.0,465.2 L1071.0,470.1 L1072.0,475.2 L1073.0,480.4 L1074.0,485.5 L1075.0,490.5 L1076.0,495.3 L1077.0,500.0 L1078.0,504.4 L1079.0,508.5 L1080.0,512.2 L1081.0,515.6 L1082.0,518.6 L1083.0,521.1 L1084.0,523.0 L1085.0,524.4 L1086.0,525.1 L1087.0,525.2 L1088.0,524.7 L1089.0,523.5 L1090.0,521.8 L1091.0,519.7 L1092.0,517.5 L1093.0,515.5 L1094.0,514.2 L1095.0,514.1 L1096.0,515.4 L1097.0,518.2 L1098.0,522.3 L1099.0,527.2 L1100.0,532.5 L1101.0,537.9 L1102.0,543.0 L1103.0,547.7 L1104.0,552.0 L1105.0,555.7 L1106.0,559.0 L1107.0,561.8 L1108.0,564.2 L1109.0,566.2 L1110.0,567.9 L1111.0,569.4 L1112.0,570.6 L1113.0,571.7 L1114.0,572.6 L1115.0,573.4 L1116.0,574.2 L1117.0,574.8 L1118.0,575.4 L1119.0,576.0 L1120.0,576.5 L1121.0,577.0 L1122.0,577.5 L1123.0,577.9 L1124.0,578.3 L1125.0,578.7 L1126.0,579.1 L1127.0,579.4 L1128.0,579.8 L1129.0,580.1 L1130.0,580.4 L1131.0,580.7 L1132.0,581.0 L1133.0,581.2 L1134.0,581.5 L1135.0,581.7 L1136.0,582.0 L1137.0,582.2 L1138.0,582.4 L1139.0,582.7 L1140.0,582.9 L1141.0,583.1 L1142.0,583.3 L1143.0,583.5 L1144.0,583.7 L1145.0,583.9 L1146.0,584.0 L1147.0,584.2 L1148.0,584.4 L1149.0,584.5 L1150.0,584.7 L1151.0,584.9 L1152.0,585.0 L1153.0,585.2 L1154.0,585.3 L1155.0,585.5 L1156.0,585.6 L1157.0,585.8 L1158.0,585.9 L1159.0,586.0 L1160.0,586.2 L1161.0,586.3 L1162.0,586.4 L1163.0,586.6 L1164.0,586.7 L1165.0,586.8 L1166.0,586.9 L1167.0,587.1 L1168.0,587.2 L1169.0,587.3 L1170.0,587.4 L1171.0,587.5 L1172.0,587.7 L1173.0,587.8 L1174.0,587.9 L1175.0,588.0 L1176.0,588.1 L1177.0,588.2 L1178.0,588.3 L1179.0,588.4 L1180.0,588.5 L1181.0,588.6 L1182.0,588.7 L1183.0,588.8 L1184.0,588.9 L1185.0,589.0 L1186.0,589.1 L1187.0,589.2 L1188.0,589.3 L1189.0,589.4 L1190.0,589.5 L1191.0,589.6 L1192.0,589.7 L1193.0,589.8 L1194.0,589.9 L1195.0,590.0 L1196.0,590.1 L1197.0,590.1 L1198.0,590.2 L1199.0,590.3 L1200.0,590.4 L1201.0,590.5 L1202.0,590.6 L1203.0,590.7 L1204.0,590.8 L1205.0,590.9 L1206.0,590.9 L1207.0,591.0 L1208.0,591.1 L1209.0,591.2 L1210.0,591.3 L1211.0,591.4 L1212.0,591.4 L1213.0,591.5 L1214.0,591.6 L1215.0,591.7 L1216.0,591.8 L1217.0,591.9 L1218.0,591.9 L1219.0,592.0 L1220.0,592.1 L1221.0,592.2 L1222.0,592.3 L1223.0,592.3 L1224.0,592.4 L1225.0,592.5 L1226.0,592.6 L1227.0,592.6 L1228.0,592.7 L1229.0,592.8 L1230.0,592.9 L1231.0,593.0 L1232.0,593.0 L1233.0,593.1" fill="none" stroke="#ff0000" stroke-width="3.00" stroke-linejoin="round" stroke-linecap="round" />
<path d="M904.0,573.2 L905.0,573.3 L906.0,573.3 L907.0,573.4 L908.0,573.5 L909.0,573.5 L910.0,573.6 L911.0,573.6 L912.0,573.7 L913.0,573.8 L914.0,573.8 L915.0,573.9 L916.0,574.0 L917.0,574.0 L918.0,574.1 L919.0,574.2 L920.0,574.2 L921.0,574.3 L922.0,574.3 L923.0,574.4 L924.0,574.5 L925.0,574.5 L926.0,574.6 L927.0,574.7 L928.0,574.7 L929.0,574.8 L930.0,574.9 L931.0,574.9 L932.0,575.0 L933.0,575.1 L934.0,575.1 L935.0,575.2 L936.0,575.2 L937.0,575.3 L938.0,575.4 L939.0,575.4 L940.0,575.5 L941.0,575.6 L942.0,575.6 L943.0,575.7 L944.0,575.8 L945.0,575.8 L946.0,575.9 L947.0,575.9 L948.0,576.0 L949.0,576.1 L950.0,576.1 L951.0,576.2 L952.0,576.3 L953.0,576.3 L954.0,576.4 L955.0,576.5 L956.0,576.5 L957.0,576.6 L958.0,576.6 L959.0,576.7 L960.0,576.8 L961.0,576.8 L962.0,576.9 L963.0,577.0 L964.0,577.0 L965.0,577.1 L966.0,577.2 L967.0,577.2 L968.0,577.3 L969.0,577.3 L970.0,577.4 L971.0,577.5 L972.0,577.5 L973.0,577.6 L974.0,577.7 L975.0,577.7 L976.0,577.8 L977.0,577.9 L978.0,577.9 L979.0,578.0 L980.0,578.1 L981.0,578.1 L982.0,578.2 L983.0,578.2 L984.0,578.3 L985.0,578.4 L986.0,578.4 L987.0,578.5 L988.0,578.6 L989.0,578.6 L990.0,578.7 L991.0,578.8 L992.0,578.8 L993.0,578.9 L994.0,578.9 L995.0,579.0 L996.0,579.1 L997.0,579.1 L998.0,579.2 L999.0,579.3 L1000.0,579.3 L1001.0,579.4 L1002.0,579.5 L1003.0,579.5 L1004.0,579.6 L1005.0,579.6 L1006.0,579.7 L1007.0,579.8 L1008.0,579.8 L1009.0,579.9 L1010.0,580.0 L1011.0,580.0 L1012.0,580.1 L1013.0,580.2 L1014.0,580.2 L1015.0,580.3 L1016.0,580.3 L1017.0,580.4 L1018.0,580.5 L1019.0,580.5 L1020.0,580.6 L1021.0,580.7 L1022.0,580.7 L1023.0,580.8 L1024.0,580.9 L1025.0,580.9 L1026.0,581.0 L1027.0,581.1 L1028.0,581.1 L1029.0,581.2 L1030.0,581.2 L1031.0,581.3 L1032.0,581.4 L1033.0,581.4 L1034.0,581.5 L1035.0,581.6 L1036.0,581.6 L1037.0,581.7 L1038.0,581.8 L1039.0,581.8 L1040.0,581.9 L1041.0,581.9 L1042.0,582.0 L1043.0,582.1 L1044.0,582.1 L1045.0,582.2 L1046.0,582.3 L1047.0,582.3 L1048.0,582.4 L1049.0,582.5 L1050.0,582.5 L1051.0,582.6 L1052.0,582.6 L1053.0,582.7 L1054.0,582.8 L1055.0,582.8 L1056.0,582.9 L1057.0,583.0 L1058.0,583.0 L1059.0,583.1 L1060.0,583.2 L1061.0,583.2 L1062.0,583.3 L1063.0,583.3 L1064.0,583.4 L1065.0,583.5 L1066.0,583.5 L1067.0,583.6 L1068.0,583.7 L1069.0,583.7 L1070.0,583.8 L1071.0,583.9 L1072.0,583.9 L1073.0,584.0 L1074.0,584.1 L1075.0,584.1 L1076.0,584.2 L1077.0,584.2 L1078.0,584.3 L1079.0,584.4 L1080.0,584.4 L1081.0,584.5 L1082.0,584.6 L1083.0,584.6 L1084.0,584.7 L1085.0,584.8 L1086.0,584.8 L1087.0,584.9 L1088.0,584.9 L1089.0,585.0 L1090.0,585.1 L1091.0,585.1 L1092.0,585.2 L1093.0,585.3 L1094.0,585.3 L1095.0,585.4 L1096.0,585.5 L1097.0,585.5 L1098.0,585.6 L1099.0,585.6 L1100.0,585.7 L1101.0,585.8 L1102.0,585.8 L1103.0,585.9 L1104.0,586.0 L1105.0,586.0 L1106.0,586.1 L1107.0,586.2 L1108.0,586.2 L1109.0,586.3 L1110.0,586.3 L1111.0,586.4 L1112.0,586.5 L1113.0,586.5 L1114.0,586.6 L1115.0,586.7 L1116.0,586.7 L1117.0,586.8 L1118.0,586.9 L1119.0,586.9 L1120.0,587.0 L1121.0,587.1 L1122.0,587.1 L1123.0,587.2 L1124.0,587.2 L1125.0,587.3 L1126.0,587.4 L1127.0,587.4 L1128.0,587.5 L1129.0,587.6 L1130.0,587.6 L1131.0,587.7 L1132.0,587.8 L1133.0,587.8 L1134.0,587.9 L1135.0,587.9 L1136.0,588.0 L1137.0,588.1 L1138.0,588.1 L1139.0,588.2 L1140.0,588.3 L1141.0,588.3 L1142.0,588.4 L1143.0,588.5 L1144.0,588.5 L1145.0,588.6 L1146.0,588.6 L1147.0,588.7 L1148.0,588.8 L1149.0,588.8 L1150.0,588.9 L1151.0,589.0 L1152.0,589.0 L1153.0,589.1 L1154.0,589.2 L1155.0,589.2 L1156.0,589.3 L1157.0,589.3 L1158.0,589.4 L1159.0,589.5 L1160.0,589.5 L1161.0,589.6 L1162.0,589.7 L1163.0,589.7 L1164.0,589.8 L1165.0,589.9 L1166.0,589.9 L1167.0,590.0 L1168.0,590.1 L1169.0,590.1 L1170.0,590.2 L1171.0,590.2 L1172.0,590.3 L1173.0,590.4 L1174.0,590.4 L1175.0,590.5 L1176.0,590.6 L1177.0,590.6 L1178.0,590.7 L1179.0,590.8 L1180.0,590.8 L1181.0,590.9 L1182.0,590.9 L1183.0,591.0 L1184.0,591.1 L1185.0,591.1 L1186.0,591.2 L1187.0,591.3 L1188.0,591.3 L1189.0,591.4 L1190.0,591.5 L1191.0,591.5 L1192.0,591.6 L1193.0,591.6 L1194.0,591.7 L1195.0,591.8 L1196.0,591.8 L1197.0,591.9 L1198.0,592.0 L1199.0,592.0 L1200.0,592.1 L1201.0,592.2 L1202.0,592.2 L1203.0,592.3 L1204.0,592.3 L1205.0,592.4 L1206.0,592.5 L1207.0,592.5 L1208.0,592.6 L1209.0,592.7 L1210.0,592.7 L1211.0,592.8 L1212.0,592.9 L1213.0,592.9 L1214.0,593.0 L1215.0,593.1 L1216.0,593.1 L1217.0,593.2 L1218.0,593.2 L1219.0,593.3 L1220.0,593.4 L1221.0,593.4 L1222.0,593.5 L1223.0,593.6 L1224.0,593.6 L1225.0,593.7 L1226.0,593.8 L1227.0,593.8 L1228.0,593.9 L1229.0,593.9 L1230.0,594.0 L1231.0,594.1 L1232.0,594.1 L1233.0,594.2" fill="none" stroke="#0000ff" stroke-width="2.60" stroke-linejoin="round" stroke-linecap="round" />
<path d="M904.0,571.8 L905.0,571.9 L906.0,571.9 L907.0,572.0 L908.0,572.0 L909.0,572.1 L910.0,572.1 L911.0,572.1 L912.0,572.2 L913.0,572.2 L914.0,572.3 L915.0,572.3 L916.0,572.4 L917.0,572.4 L918.0,572.4 L919.0,572.5 L920.0,572.5 L921.0,572.6 L922.0,572.6 L923.0,572.6 L924.0,572.7 L925.0,572.7 L926.0,572.7 L927.0,572.8 L928.0,572.8 L929.0,572.9 L930.0,572.9 L931.0,572.9 L932.0,573.0 L933.0,573.0 L934.0,573.0 L935.0,573.1 L936.0,573.1 L937.0,573.1 L938.0,573.1 L939.0,573.2 L940.0,573.2 L941.0,573.2 L942.0,573.2 L943.0,573.3 L944.0,573.3 L945.0,573.3 L946.0,573.3 L947.0,573.4 L948.0,573.4 L949.0,573.4 L950.0,573.4 L951.0,573.4 L952.0,573.4 L953.0,573.5 L954.0,573.5 L955.0,573.5 L956.0,573.5 L957.0,573.5 L958.0,573.5 L959.0,573.5 L960.0,573.5 L961.0,573.5 L962.0,573.5 L963.0,573.5 L964.0,573.5 L965.0,573.5 L966.0,573.5 L967.0,573.5 L968.0,573.4 L969.0,573.4 L970.0,573.4 L971.0,573.4 L972.0,573.4 L973.0,573.3 L974.0,573.3 L975.0,573.3 L976.0,573.2 L977.0,573.2 L978.0,573.1 L979.0,573.1 L980.0,573.0 L981.0,573.0 L982.0,572.9 L983.0,572.8 L984.0,572.8 L985.0,572.7 L986.0,572.6 L987.0,572.5 L988.0,572.4 L989.0,572.3 L990.0,572.2 L991.0,572.1 L992.0,572.0 L993.0,571.9 L994.0,571.7 L995.0,571.6 L996.0,571.5 L997.0,571.3 L998.0,571.1 L999.0,570.9 L1000.0,570.7 L1001.0,570.5 L1002.0,570.3 L1003.0,570.1 L1004.0,569.9 L1005.0,569.6 L1006.0,569.3 L1007.0,569.0 L1008.0,568.7 L1009.0,568.4 L1010.0,568.0 L1011.0,567.6 L1012.0,567.2 L1013.0,566.8 L1014.0,566.3 L1015.0,565.8 L1016.0,565.3 L1017.0,564.7 L1018.0,564.1 L1019.0,563.4 L1020.0,562.7 L1021.0,561.9 L1022.0,561.1 L1023.0,560.2 L1024.0,559.2 L1025.0,558.1 L1026.0,556.9 L1027.0,555.7 L1028.0,554.3 L1029.0,552.9 L1030.0,551.3 L1031.0,549.5 L1032.0,547.7 L1033.0,545.7 L1034.0,543.5 L1035.0,541.1 L1036.0,538.6 L1037.0,535.9 L1038.0,532.9 L1039.0,529.8 L1040.0,526.5 L1041.0,522.9 L1042.0,519.1 L1043.0,515.1 L1044.0,510.8 L1045.0,506.4 L1046.0,501.7 L1047.0,496.8 L1048.0,491.8 L1049.0,486.6 L1050.0,481.4 L1051.0,476.1 L1052.0,470.9 L1053.0,465.8 L1054.0,461.0 L1055.0,456.5 L1056.0,452.4 L1057.0,448.9 L1058.0,446.2 L1059.0,444.1 L1060.0,443.0 L1061.0,442.7 L1062.0,443.4 L1063.0,444.9 L1064.0,447.3 L1065.0,450.4 L1066.0,454.2 L1067.0,458.5 L1068.0,463.2 L1069.0,468.3 L1070.0,473.5 L1071.0,478.9 L1072.0,484.3 L1073.0,489.6 L1074.0,494.9 L1075.0,500.0 L1076.0,504.9 L1077.0,509.7 L1078.0,514.2 L1079.0,518.5 L1080.0,522.6 L1081.0,526.5 L1082.0,530.1 L1083.0,533.5 L1084.0,536.7 L1085.0,539.7 L1086.0,542.5 L1087.0,545.1 L1088.0,547.6 L1089.0,549.8 L1090.0,551.9 L1091.0,553.9 L1092.0,555.7 L1093.0,557.4 L1094.0,559.0 L1095.0,560.4 L1096.0,561.8 L1097.0,563.0 L1098.0,564.2 L1099.0,565.3 L1100.0,566.3 L1101.0,567.3 L1102.0,568.2 L1103.0,569.0 L1104.0,569.8 L1105.0,570.5 L1106.0,571.2 L1107.0,571.9 L1108.0,572.5 L1109.0,573.1 L1110.0,573.6 L1111.0,574.1 L1112.0,574.6 L1113.0,575.1 L1114.0,575.6 L1115.0,576.0 L1116.0,576.4 L1117.0,576.8 L1118.0,577.2 L1119.0,577.6 L1120.0,577.9 L1121.0,578.3 L1122.0,578.6 L1123.0,578.9 L1124.0,579.2 L1125.0,579.5 L1126.0,579.8 L1127.0,580.1 L1128.0,580.4 L1129.0,580.6 L1130.0,580.9 L1131.0,581.1 L1132.0,581.4 L1133.0,581.6 L1134.0,581.8 L1135.0,582.0 L1136.0,582.2 L1137.0,582.4 L1138.0,582.6 L1139.0,582.8 L1140.0,583.0 L1141.0,583.2 L1142.0,583.4 L1143.0,583.6 L1144.0,583.8 L1145.0,583.9 L1146.0,584.1 L1147.0,584.3 L1148.0,584.4 L1149.0,584.6 L1150.0,584.7 L1151.0,584.9 L1152.0,585.0 L1153.0,585.2 L1154.0,585.3 L1155.0,585.5 L1156.0,585.6 L1157.0,585.8 L1158.0,585.9 L1159.0,586.0 L1160.0,586.2 L1161.0,586.3 L1162.0,586.4 L1163.0,586.5 L1164.0,586.7 L1165.0,586.8 L1166.0,586.9 L1167.0,587.0 L1168.0,587.1 L1169.0,587.3 L1170.0,587.4 L1171.0,587.5 L1172.0,587.6 L1173.0,587.7 L1174.0,587.8 L1175.0,587.9 L1176.0,588.0 L1177.0,588.1 L1178.0,588.2 L1179.0,588.3 L1180.0,588.5 L1181.0,588.6 L1182.0,588.7 L1183.0,588.8 L1184.0,588.9 L1185.0,589.0 L1186.0,589.1 L1187.0,589.1 L1188.0,589.2 L1189.0,589.3 L1190.0,589.4 L1191.0,589.5 L1192.0,589.6 L1193.0,589.7 L1194.0,589.8 L1195.0,589.9 L1196.0,590.0 L1197.0,590.1 L1198.0,590.2 L1199.0,590.3 L1200.0,590.3 L1201.0,590.4 L1202.0,590.5 L1203.0,590.6 L1204.0,590.7 L1205.0,590.8 L1206.0,590.9 L1207.0,591.0 L1208.0,591.0 L1209.0,591.1 L1210.0,591.2 L1211.0,591.3 L1212.0,591.4 L1213.0,591.5 L1214.0,591.5 L1215.0,591.6 L1216.0,591.7 L1217.0,591.8 L1218.0,591.9 L1219.0,592.0 L1220.0,592.0 L1221.0,592.1 L1222.0,592.2 L1223.0,592.3 L1224.0,592.4 L1225.0,592.4 L1226.0,592.5 L1227.0,592.6 L1228.0,592.7 L1229.0,592.7 L1230.0,592.8 L1231.0,592.9 L1232.0,593.0 L1233.0,593.1" fill="none" stroke="#009600" stroke-width="2.80" stroke-linejoin="round" stroke-linecap="round" />
<path d="M904.0,573.1 L905.0,573.2 L906.0,573.2 L907.0,573.3 L908.0,573.4 L909.0,573.4 L910.0,573.5 L911.0,573.5 L912.0,573.6 L913.0,573.7 L914.0,573.7 L915.0,573.8 L916.0,573.9 L917.0,573.9 L918.0,574.0 L919.0,574.0 L920.0,574.1 L921.0,574.2 L922.0,574.2 L923.0,574.3 L924.0,574.4 L925.0,574.4 L926.0,574.5 L927.0,574.5 L928.0,574.6 L929.0,574.7 L930.0,574.7 L931.0,574.8 L932.0,574.9 L933.0,574.9 L934.0,575.0 L935.0,575.0 L936.0,575.1 L937.0,575.2 L938.0,575.2 L939.0,575.3 L940.0,575.4 L941.0,575.4 L942.0,575.5 L943.0,575.5 L944.0,575.6 L945.0,575.7 L946.0,575.7 L947.0,575.8 L948.0,575.8 L949.0,575.9 L950.0,576.0 L951.0,576.0 L952.0,576.1 L953.0,576.2 L954.0,576.2 L955.0,576.3 L956.0,576.3 L957.0,576.4 L958.0,576.5 L959.0,576.5 L960.0,576.6 L961.0,576.6 L962.0,576.7 L963.0,576.8 L964.0,576.8 L965.0,576.9 L966.0,576.9 L967.0,577.0 L968.0,577.1 L969.0,577.1 L970.0,577.2 L971.0,577.3 L972.0,577.3 L973.0,577.4 L974.0,577.4 L975.0,577.5 L976.0,577.5 L977.0,577.6 L978.0,577.7 L979.0,577.7 L980.0,577.8 L981.0,577.8 L982.0,577.9 L983.0,578.0 L984.0,578.0 L985.0,578.1 L986.0,578.1 L987.0,578.2 L988.0,578.3 L989.0,578.3 L990.0,578.4 L991.0,578.4 L992.0,578.5 L993.0,578.5 L994.0,578.6 L995.0,578.7 L996.0,578.7 L997.0,578.8 L998.0,578.8 L999.0,578.9 L1000.0,578.9 L1001.0,579.0 L1002.0,579.1 L1003.0,579.1 L1004.0,579.2 L1005.0,579.2 L1006.0,579.3 L1007.0,579.3 L1008.0,579.4 L1009.0,579.4 L1010.0,579.5 L1011.0,579.5 L1012.0,579.6 L1013.0,579.6 L1014.0,579.7 L1015.0,579.7 L1016.0,579.8 L1017.0,579.8 L1018.0,579.9 L1019.0,579.9 L1020.0,580.0 L1021.0,580.0 L1022.0,580.1 L1023.0,580.1 L1024.0,580.2 L1025.0,580.2 L1026.0,580.3 L1027.0,580.3 L1028.0,580.3 L1029.0,580.4 L1030.0,580.4 L1031.0,580.5 L1032.0,580.5 L1033.0,580.5 L1034.0,580.6 L1035.0,580.6 L1036.0,580.6 L1037.0,580.7 L1038.0,580.7 L1039.0,580.7 L1040.0,580.7 L1041.0,580.8 L1042.0,580.8 L1043.0,580.8 L1044.0,580.8 L1045.0,580.8 L1046.0,580.8 L1047.0,580.8 L1048.0,580.9 L1049.0,580.8 L1050.0,580.8 L1051.0,580.8 L1052.0,580.8 L1053.0,580.8 L1054.0,580.8 L1055.0,580.7 L1056.0,580.7 L1057.0,580.6 L1058.0,580.6 L1059.0,580.5 L1060.0,580.4 L1061.0,580.4 L1062.0,580.3 L1063.0,580.1 L1064.0,580.0 L1065.0,579.9 L1066.0,579.7 L1067.0,579.5 L1068.0,579.3 L1069.0,579.0 L1070.0,578.7 L1071.0,578.4 L1072.0,578.1 L1073.0,577.6 L1074.0,577.2 L1075.0,576.6 L1076.0,576.0 L1077.0,575.3 L1078.0,574.4 L1079.0,573.5 L1080.0,572.4 L1081.0,571.1 L1082.0,569.6 L1083.0,567.9 L1084.0,566.0 L1085.0,563.8 L1086.0,561.2 L1087.0,558.4 L1088.0,555.3 L1089.0,552.0 L1090.0,548.6 L1091.0,545.3 L1092.0,542.3 L1093.0,539.9 L1094.0,538.5 L1095.0,538.2 L1096.0,539.1 L1097.0,541.1 L1098.0,543.9 L1099.0,547.2 L1100.0,550.7 L1101.0,554.3 L1102.0,557.6 L1103.0,560.7 L1104.0,563.5 L1105.0,566.1 L1106.0,568.3 L1107.0,570.2 L1108.0,572.0 L1109.0,573.5 L1110.0,574.8 L1111.0,576.0 L1112.0,577.0 L1113.0,577.9 L1114.0,578.7 L1115.0,579.4 L1116.0,580.1 L1117.0,580.7 L1118.0,581.2 L1119.0,581.7 L1120.0,582.1 L1121.0,582.5 L1122.0,582.8 L1123.0,583.2 L1124.0,583.5 L1125.0,583.8 L1126.0,584.1 L1127.0,584.3 L1128.0,584.5 L1129.0,584.8 L1130.0,585.0 L1131.0,585.2 L1132.0,585.4 L1133.0,585.5 L1134.0,585.7 L1135.0,585.9 L1136.0,586.0 L1137.0,586.2 L1138.0,586.3 L1139.0,586.5 L1140.0,586.6 L1141.0,586.8 L1142.0,586.9 L1143.0,587.0 L1144.0,587.1 L1145.0,587.2 L1146.0,587.4 L1147.0,587.5 L1148.0,587.6 L1149.0,587.7 L1150.0,587.8 L1151.0,587.9 L1152.0,588.0 L1153.0,588.1 L1154.0,588.2 L1155.0,588.3 L1156.0,588.4 L1157.0,588.5 L1158.0,588.6 L1159.0,588.6 L1160.0,588.7 L1161.0,588.8 L1162.0,588.9 L1163.0,589.0 L1164.0,589.1 L1165.0,589.2 L1166.0,589.2 L1167.0,589.3 L1168.0,589.4 L1169.0,589.5 L1170.0,589.6 L1171.0,589.6 L1172.0,589.7 L1173.0,589.8 L1174.0,589.9 L1175.0,590.0 L1176.0,590.0 L1177.0,590.1 L1178.0,590.2 L1179.0,590.3 L1180.0,590.3 L1181.0,590.4 L1182.0,590.5 L1183.0,590.6 L1184.0,590.6 L1185.0,590.7 L1186.0,590.8 L1187.0,590.9 L1188.0,590.9 L1189.0,591.0 L1190.0,591.1 L1191.0,591.1 L1192.0,591.2 L1193.0,591.3 L1194.0,591.4 L1195.0,591.4 L1196.0,591.5 L1197.0,591.6 L1198.0,591.6 L1199.0,591.7 L1200.0,591.8 L1201.0,591.9 L1202.0,591.9 L1203.0,592.0 L1204.0,592.1 L1205.0,592.1 L1206.0,592.2 L1207.0,592.3 L1208.0,592.3 L1209.0,592.4 L1210.0,592.5 L1211.0,592.5 L1212.0,592.6 L1213.0,592.7 L1214.0,592.7 L1215.0,592.8 L1216.0,592.9 L1217.0,592.9 L1218.0,593.0 L1219.0,593.1 L1220.0,593.1 L1221.0,593.2 L1222.0,593.3 L1223.0,593.4 L1224.0,593.4 L1225.0,593.5 L1226.0,593.6 L1227.0,593.6 L1228.0,593.7 L1229.0,593.8 L1230.0,593.8 L1231.0,593.9 L1232.0,594.0 L1233.0,594.0" fill="none" stroke="#ff00ff" stroke-width="2.80" stroke-linejoin="round" stroke-linecap="round" />
</g>
<rect x="919.60" y="392.80" width="47.50" height="24.90" fill="#000"/>
<rect x="915.60" y="388.80" width="47.50" height="24.90" fill="#fff" stroke="#555" stroke-width="1"/>
<text x="939.35" y="406.50" font-size="16.50" text-anchor="middle" >Cl 2p</text>
<text x="1094.40" y="437.30" font-size="14.00" text-anchor="start" >Cl2p<tspan font-size="9" dy="3">3/2</tspan><tspan dy="-3"> (200.1eV)</tspan></text>
<text x="1117.60" y="515.20" font-size="14.00" text-anchor="start" >Cl2p<tspan font-size="9" dy="3">1/2</tspan><tspan dy="-3"> (201.9eV)</tspan></text>
<line x1="1099.30" y1="444.20" x2="1063.53" y2="472.10" stroke="#000" stroke-width="1.40"/>
<path d="M1058.40,476.10 L1062.71,469.44 L1065.91,473.54 Z" fill="#000"/>
<line x1="1134.30" y1="522.00" x2="1097.65" y2="550.23" stroke="#000" stroke-width="1.40"/>
<path d="M1092.50,554.20 L1096.85,547.56 L1100.03,551.68 Z" fill="#000"/>
</svg></body></html>
